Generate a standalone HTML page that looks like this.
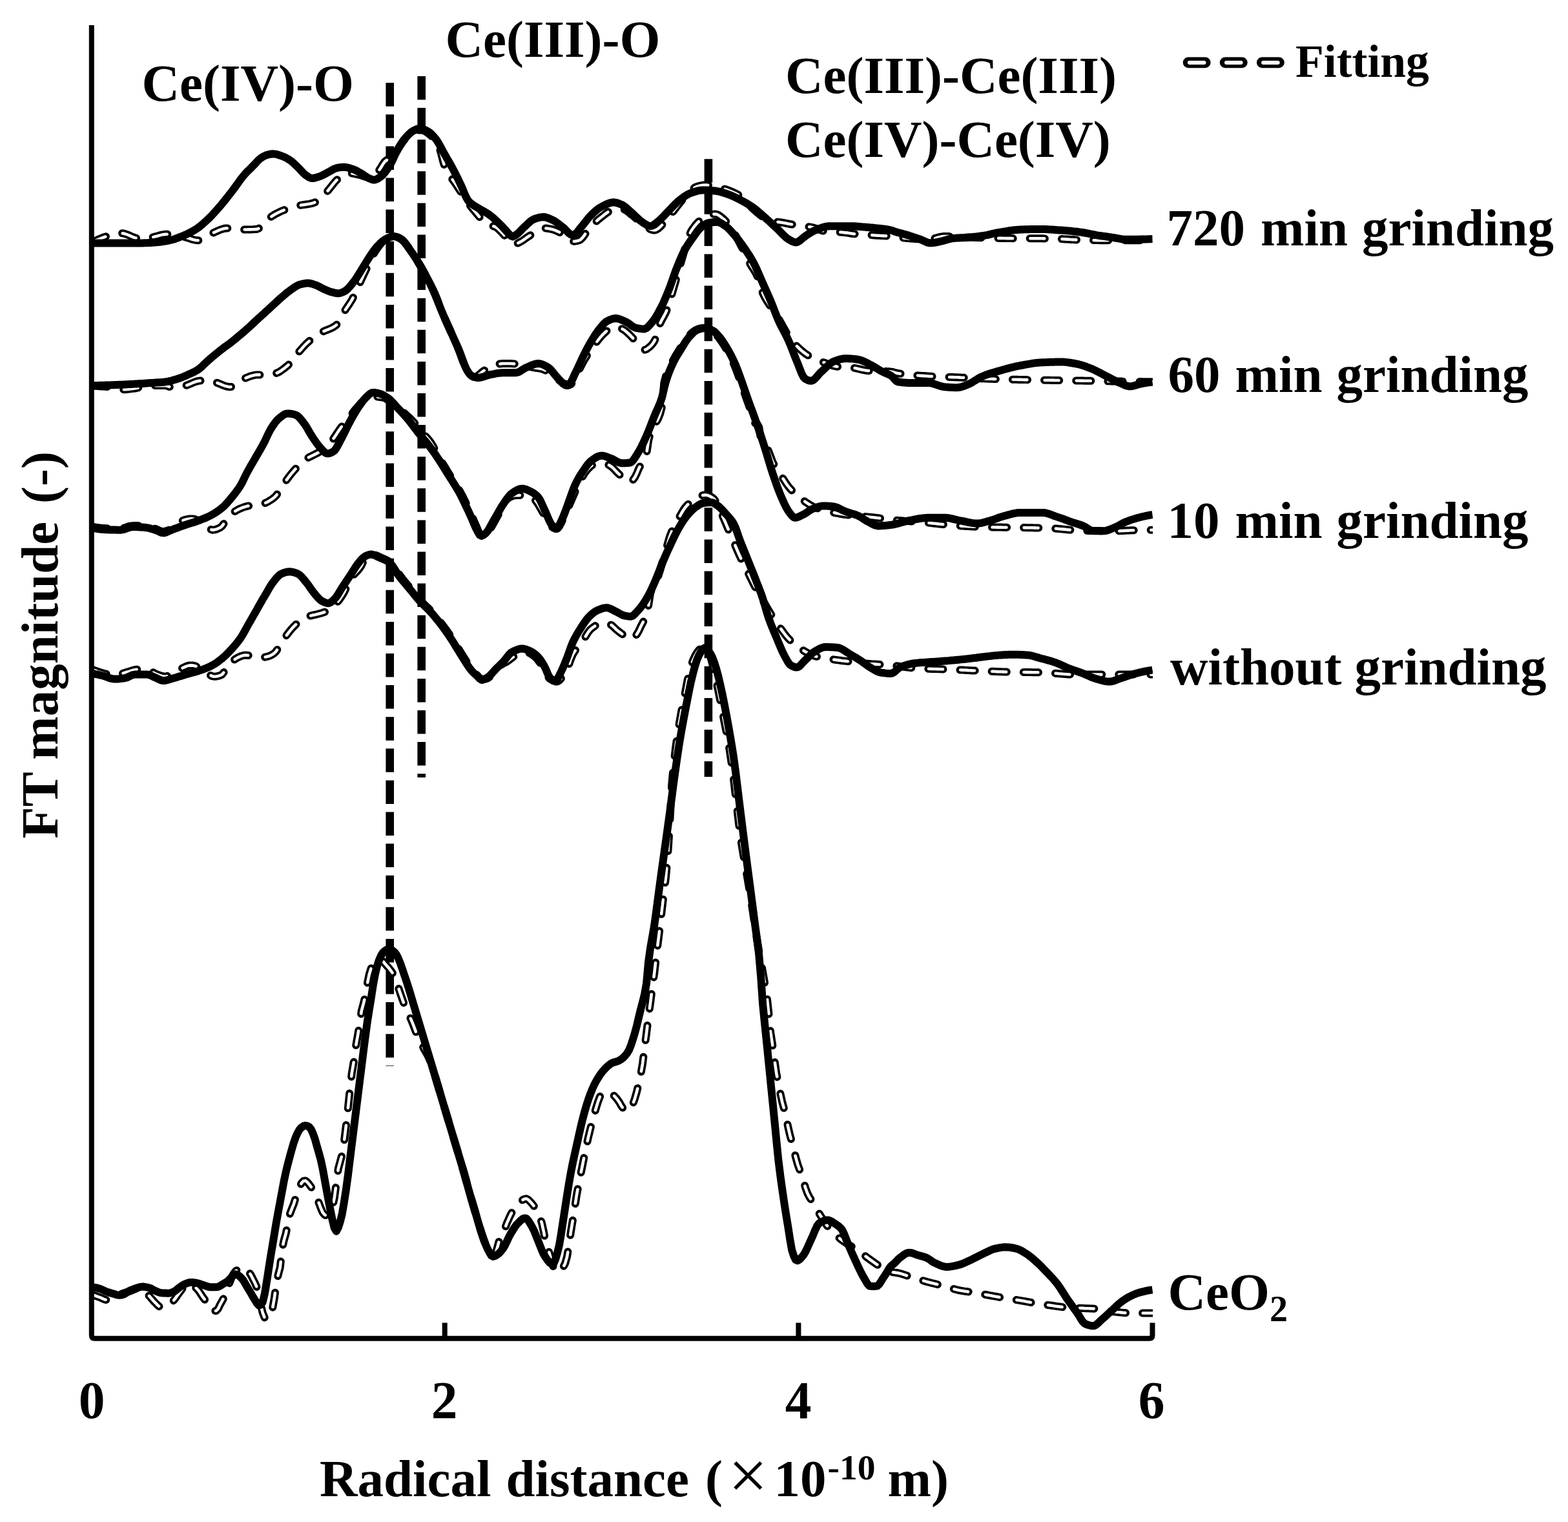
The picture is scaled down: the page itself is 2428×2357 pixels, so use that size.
<!DOCTYPE html>
<html lang="en">
<head>
<meta charset="utf-8">
<title>FT magnitude vs radical distance</title>
<style>
html, body { margin: 0; padding: 0; background: #ffffff; }
body { width: 2428px; height: 2357px; overflow: hidden; }
svg { display: block; }
text { font-family: "Liberation Serif", "DejaVu Serif", serif; font-weight: bold; fill: #000; }
.curve { fill: none; stroke: #000; stroke-width: 12; stroke-linejoin: round; stroke-linecap: butt; }
.fitb { fill: none; stroke: #000; stroke-width: 12; stroke-linecap: round; stroke-linejoin: round; stroke-dasharray: 23.2 26; }
.fitw { fill: none; stroke: #fff; stroke-width: 4.6; stroke-linecap: round; stroke-linejoin: round; stroke-dasharray: 21.9 27.3; stroke-dashoffset: -0.65; }
.vdash { fill: none; stroke: #000; stroke-width: 12.6; stroke-dasharray: 36.5 12.6; }
.axis { fill: none; stroke: #000; stroke-width: 8; stroke-linecap: butt; stroke-linejoin: round; }
</style>
</head>
<body>
<svg width="2428" height="2357" viewBox="0 0 2428 2357">
<rect x="0" y="0" width="2428" height="2357" fill="#ffffff"/>

<defs><clipPath id="plot"><rect x="142" y="0" width="1643" height="2357"/></clipPath></defs>
<g id="guides">
<path class="vdash" d="M603.7 128.2 V1651"/>
<path class="vdash" d="M652.7 118 V1204"/>
<path class="vdash" d="M1096.9 246.2 V1203"/>
</g>
<g id="fits" clip-path="url(#plot)">
<path class="fitb" d="M142.6 2004.8 L145.6 2005.9 L148.6 2007.0 L151.6 2008.1 L154.6 2009.2 L157.6 2010.4 L160.6 2011.8 L163.6 2012.9 L166.6 2013.1 L169.6 2012.5 L172.6 2011.1 L175.6 2009.5 L178.6 2007.7 L181.6 2006.2 L184.6 2005.1 L187.6 2004.0 L190.6 2003.0 L193.6 2002.0 L196.6 2001.0 L199.6 2000.1 L202.6 1999.0 L205.6 1997.7 L208.6 1996.5 L211.6 1995.4 L214.6 1994.7 L217.7 1994.3 L220.7 1995.1 L223.7 1997.8 L226.7 2001.6 L229.7 2005.5 L232.7 2008.8 L235.7 2012.3 L238.7 2015.7 L241.7 2018.7 L244.7 2021.8 L247.7 2024.1 L250.7 2024.7 L253.7 2024.2 L256.7 2023.2 L259.7 2021.9 L262.7 2020.1 L265.7 2017.4 L268.7 2014.3 L271.7 2010.4 L274.7 2006.0 L277.7 2002.0 L280.7 1998.0 L283.7 1993.9 L286.7 1990.4 L289.7 1988.1 L292.7 1987.6 L295.7 1988.5 L298.7 1990.4 L301.7 1992.9 L304.7 1995.6 L307.7 1999.0 L310.7 2003.6 L313.7 2008.1 L316.7 2012.2 L319.7 2016.6 L322.7 2022.4 L325.7 2028.5 L328.7 2030.0 L331.7 2030.0 L334.7 2030.0 L337.7 2026.9 L340.7 2020.5 L343.7 2015.2 L346.7 2009.7 L349.7 2002.5 L352.7 1993.9 L355.7 1985.9 L358.7 1978.1 L361.7 1972.5 L364.7 1968.7 L367.7 1965.9 L370.7 1964.4 L373.7 1963.4 L376.7 1962.8 L379.7 1963.3 L382.7 1966.2 L385.7 1970.2 L388.7 1974.8 L391.7 1980.7 L394.7 1986.6 L397.7 1993.5 L400.7 2006.1 L403.7 2020.9 L406.7 2032.8 L409.8 2040.8 L412.8 2042.2 L415.8 2042.6 L418.8 2037.8 L421.8 2027.5 L424.8 2010.5 L427.8 1988.4 L430.8 1973.9 L433.8 1962.4 L436.8 1934.2 L439.8 1920.3 L442.8 1910.0 L445.8 1893.2 L448.8 1880.2 L451.8 1872.2 L454.8 1864.8 L457.8 1855.0 L460.8 1844.2 L463.8 1837.6 L466.8 1832.3 L469.8 1828.9 L472.8 1828.4 L475.8 1830.6 L478.8 1834.2 L481.8 1838.3 L484.8 1843.2 L487.8 1849.4 L490.8 1856.1 L493.8 1863.0 L496.8 1871.0 L499.8 1877.8 L502.8 1881.3 L505.8 1882.8 L508.8 1881.4 L511.8 1876.6 L514.8 1869.3 L517.8 1855.0 L520.8 1832.3 L523.8 1809.8 L526.8 1798.9 L529.8 1787.7 L532.8 1768.4 L535.8 1743.9 L538.8 1716.7 L541.8 1687.6 L544.8 1661.7 L547.8 1644.4 L550.8 1621.0 L553.8 1604.6 L556.8 1586.3 L559.8 1565.4 L562.8 1554.4 L565.8 1541.8 L568.8 1523.0 L571.8 1508.8 L574.8 1499.1 L577.8 1493.0 L580.8 1489.0 L583.8 1487.6 L586.8 1487.0 L589.8 1486.7 L592.8 1488.2 L595.8 1492.1 L598.8 1495.5 L601.9 1498.9 L604.9 1502.7 L607.9 1507.0 L610.9 1512.1 L613.9 1519.5 L616.9 1529.3 L619.9 1538.6 L622.9 1547.1 L625.9 1555.3 L628.9 1562.8 L631.9 1569.3 L634.9 1575.4 L637.9 1582.0 L640.9 1589.7 L643.9 1597.8 L646.9 1605.2 L649.9 1611.6 L652.9 1617.5 L655.9 1623.2 L658.9 1628.5 L661.9 1633.8 L664.9 1640.2 L667.9 1648.4 L670.9 1657.6 L673.9 1667.0 L676.9 1677.1 L679.9 1687.3 L682.9 1697.3 L685.9 1707.4 L688.9 1717.4 L691.9 1727.4 L694.9 1737.4 L697.9 1747.4 L700.9 1757.4 L703.9 1767.4 L706.9 1777.4 L709.9 1787.3 L712.9 1797.2 L715.9 1807.4 L718.9 1817.9 L721.9 1828.5 L724.9 1839.0 L727.9 1849.6 L730.9 1860.1 L733.9 1870.5 L736.9 1880.8 L739.9 1890.8 L742.9 1900.8 L745.9 1910.4 L748.9 1919.1 L751.9 1927.4 L754.9 1934.5 L757.9 1939.2 L760.9 1943.1 L763.9 1945.4 L766.9 1943.1 L769.9 1932.7 L772.9 1921.4 L775.9 1914.6 L778.9 1908.9 L781.9 1902.0 L784.9 1894.2 L787.9 1887.3 L790.9 1880.8 L794.0 1875.0 L797.0 1870.3 L800.0 1866.3 L803.0 1862.9 L806.0 1860.5 L809.0 1858.4 L812.0 1856.8 L815.0 1856.3 L818.0 1857.8 L821.0 1860.9 L824.0 1864.1 L827.0 1868.0 L830.0 1872.8 L833.0 1878.4 L836.0 1885.3 L839.0 1894.1 L842.0 1907.9 L845.0 1923.8 L848.0 1933.0 L851.0 1941.5 L854.0 1953.0 L857.0 1962.9 L860.0 1968.7 L863.0 1970.3 L866.0 1968.7 L869.0 1965.9 L872.0 1962.5 L875.0 1956.9 L878.0 1946.4 L881.0 1928.2 L884.0 1907.0 L887.0 1889.1 L890.0 1869.7 L893.0 1850.0 L896.0 1834.4 L899.0 1819.2 L902.0 1804.3 L905.0 1789.2 L908.0 1774.7 L911.0 1761.0 L914.0 1748.6 L917.0 1737.0 L920.0 1725.9 L923.0 1715.8 L926.0 1706.1 L929.0 1698.2 L932.0 1694.3 L935.0 1691.6 L938.0 1690.8 L941.0 1691.3 L944.0 1692.4 L947.0 1693.9 L950.0 1696.0 L953.0 1699.1 L956.0 1702.7 L959.0 1707.0 L962.0 1712.3 L965.0 1716.7 L968.0 1719.0 L971.0 1720.5 L974.0 1719.9 L977.0 1715.6 L980.0 1709.8 L983.0 1701.2 L986.1 1690.5 L989.1 1677.7 L992.1 1664.1 L995.1 1646.8 L998.1 1622.3 L1001.1 1599.6 L1004.1 1574.1 L1007.1 1553.2 L1010.1 1529.1 L1013.1 1508.2 L1016.1 1481.9 L1019.1 1457.8 L1022.1 1434.1 L1025.1 1407.2 L1028.1 1382.0 L1031.1 1358.1 L1034.1 1323.9 L1037.1 1275.9 L1040.1 1216.8 L1043.1 1183.9 L1046.1 1158.6 L1049.1 1137.3 L1052.1 1118.6 L1055.1 1101.9 L1058.1 1086.6 L1061.1 1071.6 L1064.1 1055.9 L1067.1 1041.4 L1070.1 1030.5 L1073.1 1022.6 L1076.1 1016.1 L1079.1 1010.9 L1082.1 1006.8 L1085.1 1003.0 L1088.1 1000.5 L1091.1 1000.4 L1094.1 1003.9 L1097.1 1009.8 L1100.1 1016.9 L1103.1 1027.8 L1106.1 1041.2 L1109.1 1055.1 L1112.1 1069.0 L1115.1 1084.1 L1118.1 1099.6 L1121.1 1115.1 L1124.1 1130.3 L1127.1 1146.3 L1130.1 1164.1 L1133.1 1184.4 L1136.1 1206.9 L1139.1 1233.0 L1142.1 1259.5 L1145.1 1284.2 L1148.1 1306.0 L1151.1 1324.0 L1154.1 1340.7 L1157.1 1358.3 L1160.1 1376.1 L1163.1 1394.5 L1166.1 1414.4 L1169.1 1435.0 L1172.1 1454.8 L1175.1 1472.5 L1178.2 1489.2 L1181.2 1505.9 L1184.2 1522.7 L1187.2 1540.3 L1190.2 1568.0 L1193.2 1598.8 L1196.2 1618.4 L1199.2 1640.7 L1202.2 1662.0 L1205.2 1677.3 L1208.2 1692.8 L1211.2 1706.6 L1214.2 1717.4 L1217.2 1729.2 L1220.2 1744.8 L1223.2 1757.8 L1226.2 1768.6 L1229.2 1780.2 L1232.2 1792.7 L1235.2 1803.2 L1238.2 1811.5 L1241.2 1819.5 L1244.2 1829.1 L1247.2 1839.5 L1250.2 1847.7 L1253.2 1853.6 L1256.2 1858.4 L1259.2 1863.1 L1262.2 1868.1 L1265.2 1873.4 L1268.2 1878.7 L1271.2 1883.6 L1274.2 1888.3 L1277.2 1892.9 L1280.2 1897.3 L1283.2 1901.5 L1286.2 1905.2 L1289.2 1908.4 L1292.2 1911.2 L1295.2 1913.8 L1298.2 1916.3 L1301.2 1918.6 L1304.2 1920.8 L1307.2 1923.0 L1310.2 1925.1 L1313.2 1927.0 L1316.2 1928.9 L1319.2 1930.7 L1322.2 1932.5 L1325.2 1934.4 L1328.2 1936.4 L1331.2 1938.6 L1334.2 1940.8 L1337.2 1943.1 L1340.2 1945.4 L1343.2 1947.7 L1346.2 1949.9 L1349.2 1952.1 L1352.2 1954.2 L1355.2 1956.3 L1358.2 1958.4 L1361.2 1960.4 L1364.2 1962.2 L1367.2 1963.9 L1370.3 1965.6 L1373.3 1967.2 L1376.3 1968.6 L1379.3 1969.6 L1382.3 1970.2 L1385.3 1970.6 L1388.3 1971.0 L1391.3 1971.5 L1394.3 1972.3 L1397.3 1973.1 L1400.3 1974.1 L1403.3 1975.1 L1406.3 1976.1 L1409.3 1977.2 L1412.3 1978.2 L1415.3 1979.2 L1418.3 1980.0 L1421.3 1980.9 L1424.3 1981.8 L1427.3 1982.7 L1430.3 1983.5 L1433.3 1984.4 L1436.3 1985.2 L1439.3 1986.0 L1442.3 1986.8 L1445.3 1987.5 L1448.3 1988.2 L1451.3 1989.0 L1454.3 1989.7 L1457.3 1990.4 L1460.3 1991.2 L1463.3 1992.0 L1466.3 1992.8 L1469.3 1993.7 L1472.3 1994.7 L1475.3 1995.6 L1478.3 1996.5 L1481.3 1997.3 L1484.3 1998.0 L1487.3 1998.6 L1490.3 1999.1 L1493.3 1999.6 L1496.3 2000.0 L1499.3 2000.4 L1502.3 2000.8 L1505.3 2001.2 L1508.3 2001.6 L1511.3 2002.1 L1514.3 2002.7 L1517.3 2003.2 L1520.3 2003.8 L1523.3 2004.4 L1526.3 2004.9 L1529.3 2005.5 L1532.3 2006.1 L1535.3 2006.6 L1538.3 2007.2 L1541.3 2007.7 L1544.3 2008.2 L1547.3 2008.8 L1550.3 2009.3 L1553.3 2009.8 L1556.3 2010.3 L1559.3 2010.8 L1562.4 2011.3 L1565.4 2011.8 L1568.4 2012.2 L1571.4 2012.7 L1574.4 2013.1 L1577.4 2013.6 L1580.4 2014.1 L1583.4 2014.6 L1586.4 2015.1 L1589.4 2015.7 L1592.4 2016.2 L1595.4 2016.8 L1598.4 2017.3 L1601.4 2017.8 L1604.4 2018.3 L1607.4 2018.8 L1610.4 2019.3 L1613.4 2019.7 L1616.4 2020.2 L1619.4 2020.6 L1622.4 2021.0 L1625.4 2021.4 L1628.4 2021.8 L1631.4 2022.2 L1634.4 2022.7 L1637.4 2023.1 L1640.4 2023.5 L1643.4 2023.9 L1646.4 2024.3 L1649.4 2024.6 L1652.4 2024.9 L1655.4 2025.1 L1658.4 2025.2 L1661.4 2025.4 L1664.4 2025.5 L1667.4 2025.6 L1670.4 2025.7 L1673.4 2025.8 L1676.4 2025.9 L1679.4 2026.1 L1682.4 2026.2 L1685.4 2026.3 L1688.4 2026.4 L1691.4 2026.5 L1694.4 2026.7 L1697.4 2026.8 L1700.4 2027.0 L1703.4 2027.3 L1706.4 2027.6 L1709.4 2028.2 L1712.4 2028.9 L1715.4 2029.5 L1718.4 2030.2 L1721.4 2030.8 L1724.4 2031.3 L1727.4 2031.6 L1730.4 2032.0 L1733.4 2032.3 L1736.4 2032.6 L1739.4 2032.9 L1742.4 2033.1 L1745.4 2033.3 L1748.4 2033.4 L1751.4 2033.5 L1754.5 2033.5 L1757.5 2033.5 L1760.5 2033.5 L1763.5 2033.5 L1766.5 2033.5 L1769.5 2033.5 L1772.5 2033.5 L1775.5 2033.5 L1778.5 2033.5 L1781.5 2033.5 L1784.5 2033.5"/>
<path class="fitw" d="M142.6 2004.8 L145.6 2005.9 L148.6 2007.0 L151.6 2008.1 L154.6 2009.2 L157.6 2010.4 L160.6 2011.8 L163.6 2012.9 L166.6 2013.1 L169.6 2012.5 L172.6 2011.1 L175.6 2009.5 L178.6 2007.7 L181.6 2006.2 L184.6 2005.1 L187.6 2004.0 L190.6 2003.0 L193.6 2002.0 L196.6 2001.0 L199.6 2000.1 L202.6 1999.0 L205.6 1997.7 L208.6 1996.5 L211.6 1995.4 L214.6 1994.7 L217.7 1994.3 L220.7 1995.1 L223.7 1997.8 L226.7 2001.6 L229.7 2005.5 L232.7 2008.8 L235.7 2012.3 L238.7 2015.7 L241.7 2018.7 L244.7 2021.8 L247.7 2024.1 L250.7 2024.7 L253.7 2024.2 L256.7 2023.2 L259.7 2021.9 L262.7 2020.1 L265.7 2017.4 L268.7 2014.3 L271.7 2010.4 L274.7 2006.0 L277.7 2002.0 L280.7 1998.0 L283.7 1993.9 L286.7 1990.4 L289.7 1988.1 L292.7 1987.6 L295.7 1988.5 L298.7 1990.4 L301.7 1992.9 L304.7 1995.6 L307.7 1999.0 L310.7 2003.6 L313.7 2008.1 L316.7 2012.2 L319.7 2016.6 L322.7 2022.4 L325.7 2028.5 L328.7 2030.0 L331.7 2030.0 L334.7 2030.0 L337.7 2026.9 L340.7 2020.5 L343.7 2015.2 L346.7 2009.7 L349.7 2002.5 L352.7 1993.9 L355.7 1985.9 L358.7 1978.1 L361.7 1972.5 L364.7 1968.7 L367.7 1965.9 L370.7 1964.4 L373.7 1963.4 L376.7 1962.8 L379.7 1963.3 L382.7 1966.2 L385.7 1970.2 L388.7 1974.8 L391.7 1980.7 L394.7 1986.6 L397.7 1993.5 L400.7 2006.1 L403.7 2020.9 L406.7 2032.8 L409.8 2040.8 L412.8 2042.2 L415.8 2042.6 L418.8 2037.8 L421.8 2027.5 L424.8 2010.5 L427.8 1988.4 L430.8 1973.9 L433.8 1962.4 L436.8 1934.2 L439.8 1920.3 L442.8 1910.0 L445.8 1893.2 L448.8 1880.2 L451.8 1872.2 L454.8 1864.8 L457.8 1855.0 L460.8 1844.2 L463.8 1837.6 L466.8 1832.3 L469.8 1828.9 L472.8 1828.4 L475.8 1830.6 L478.8 1834.2 L481.8 1838.3 L484.8 1843.2 L487.8 1849.4 L490.8 1856.1 L493.8 1863.0 L496.8 1871.0 L499.8 1877.8 L502.8 1881.3 L505.8 1882.8 L508.8 1881.4 L511.8 1876.6 L514.8 1869.3 L517.8 1855.0 L520.8 1832.3 L523.8 1809.8 L526.8 1798.9 L529.8 1787.7 L532.8 1768.4 L535.8 1743.9 L538.8 1716.7 L541.8 1687.6 L544.8 1661.7 L547.8 1644.4 L550.8 1621.0 L553.8 1604.6 L556.8 1586.3 L559.8 1565.4 L562.8 1554.4 L565.8 1541.8 L568.8 1523.0 L571.8 1508.8 L574.8 1499.1 L577.8 1493.0 L580.8 1489.0 L583.8 1487.6 L586.8 1487.0 L589.8 1486.7 L592.8 1488.2 L595.8 1492.1 L598.8 1495.5 L601.9 1498.9 L604.9 1502.7 L607.9 1507.0 L610.9 1512.1 L613.9 1519.5 L616.9 1529.3 L619.9 1538.6 L622.9 1547.1 L625.9 1555.3 L628.9 1562.8 L631.9 1569.3 L634.9 1575.4 L637.9 1582.0 L640.9 1589.7 L643.9 1597.8 L646.9 1605.2 L649.9 1611.6 L652.9 1617.5 L655.9 1623.2 L658.9 1628.5 L661.9 1633.8 L664.9 1640.2 L667.9 1648.4 L670.9 1657.6 L673.9 1667.0 L676.9 1677.1 L679.9 1687.3 L682.9 1697.3 L685.9 1707.4 L688.9 1717.4 L691.9 1727.4 L694.9 1737.4 L697.9 1747.4 L700.9 1757.4 L703.9 1767.4 L706.9 1777.4 L709.9 1787.3 L712.9 1797.2 L715.9 1807.4 L718.9 1817.9 L721.9 1828.5 L724.9 1839.0 L727.9 1849.6 L730.9 1860.1 L733.9 1870.5 L736.9 1880.8 L739.9 1890.8 L742.9 1900.8 L745.9 1910.4 L748.9 1919.1 L751.9 1927.4 L754.9 1934.5 L757.9 1939.2 L760.9 1943.1 L763.9 1945.4 L766.9 1943.1 L769.9 1932.7 L772.9 1921.4 L775.9 1914.6 L778.9 1908.9 L781.9 1902.0 L784.9 1894.2 L787.9 1887.3 L790.9 1880.8 L794.0 1875.0 L797.0 1870.3 L800.0 1866.3 L803.0 1862.9 L806.0 1860.5 L809.0 1858.4 L812.0 1856.8 L815.0 1856.3 L818.0 1857.8 L821.0 1860.9 L824.0 1864.1 L827.0 1868.0 L830.0 1872.8 L833.0 1878.4 L836.0 1885.3 L839.0 1894.1 L842.0 1907.9 L845.0 1923.8 L848.0 1933.0 L851.0 1941.5 L854.0 1953.0 L857.0 1962.9 L860.0 1968.7 L863.0 1970.3 L866.0 1968.7 L869.0 1965.9 L872.0 1962.5 L875.0 1956.9 L878.0 1946.4 L881.0 1928.2 L884.0 1907.0 L887.0 1889.1 L890.0 1869.7 L893.0 1850.0 L896.0 1834.4 L899.0 1819.2 L902.0 1804.3 L905.0 1789.2 L908.0 1774.7 L911.0 1761.0 L914.0 1748.6 L917.0 1737.0 L920.0 1725.9 L923.0 1715.8 L926.0 1706.1 L929.0 1698.2 L932.0 1694.3 L935.0 1691.6 L938.0 1690.8 L941.0 1691.3 L944.0 1692.4 L947.0 1693.9 L950.0 1696.0 L953.0 1699.1 L956.0 1702.7 L959.0 1707.0 L962.0 1712.3 L965.0 1716.7 L968.0 1719.0 L971.0 1720.5 L974.0 1719.9 L977.0 1715.6 L980.0 1709.8 L983.0 1701.2 L986.1 1690.5 L989.1 1677.7 L992.1 1664.1 L995.1 1646.8 L998.1 1622.3 L1001.1 1599.6 L1004.1 1574.1 L1007.1 1553.2 L1010.1 1529.1 L1013.1 1508.2 L1016.1 1481.9 L1019.1 1457.8 L1022.1 1434.1 L1025.1 1407.2 L1028.1 1382.0 L1031.1 1358.1 L1034.1 1323.9 L1037.1 1275.9 L1040.1 1216.8 L1043.1 1183.9 L1046.1 1158.6 L1049.1 1137.3 L1052.1 1118.6 L1055.1 1101.9 L1058.1 1086.6 L1061.1 1071.6 L1064.1 1055.9 L1067.1 1041.4 L1070.1 1030.5 L1073.1 1022.6 L1076.1 1016.1 L1079.1 1010.9 L1082.1 1006.8 L1085.1 1003.0 L1088.1 1000.5 L1091.1 1000.4 L1094.1 1003.9 L1097.1 1009.8 L1100.1 1016.9 L1103.1 1027.8 L1106.1 1041.2 L1109.1 1055.1 L1112.1 1069.0 L1115.1 1084.1 L1118.1 1099.6 L1121.1 1115.1 L1124.1 1130.3 L1127.1 1146.3 L1130.1 1164.1 L1133.1 1184.4 L1136.1 1206.9 L1139.1 1233.0 L1142.1 1259.5 L1145.1 1284.2 L1148.1 1306.0 L1151.1 1324.0 L1154.1 1340.7 L1157.1 1358.3 L1160.1 1376.1 L1163.1 1394.5 L1166.1 1414.4 L1169.1 1435.0 L1172.1 1454.8 L1175.1 1472.5 L1178.2 1489.2 L1181.2 1505.9 L1184.2 1522.7 L1187.2 1540.3 L1190.2 1568.0 L1193.2 1598.8 L1196.2 1618.4 L1199.2 1640.7 L1202.2 1662.0 L1205.2 1677.3 L1208.2 1692.8 L1211.2 1706.6 L1214.2 1717.4 L1217.2 1729.2 L1220.2 1744.8 L1223.2 1757.8 L1226.2 1768.6 L1229.2 1780.2 L1232.2 1792.7 L1235.2 1803.2 L1238.2 1811.5 L1241.2 1819.5 L1244.2 1829.1 L1247.2 1839.5 L1250.2 1847.7 L1253.2 1853.6 L1256.2 1858.4 L1259.2 1863.1 L1262.2 1868.1 L1265.2 1873.4 L1268.2 1878.7 L1271.2 1883.6 L1274.2 1888.3 L1277.2 1892.9 L1280.2 1897.3 L1283.2 1901.5 L1286.2 1905.2 L1289.2 1908.4 L1292.2 1911.2 L1295.2 1913.8 L1298.2 1916.3 L1301.2 1918.6 L1304.2 1920.8 L1307.2 1923.0 L1310.2 1925.1 L1313.2 1927.0 L1316.2 1928.9 L1319.2 1930.7 L1322.2 1932.5 L1325.2 1934.4 L1328.2 1936.4 L1331.2 1938.6 L1334.2 1940.8 L1337.2 1943.1 L1340.2 1945.4 L1343.2 1947.7 L1346.2 1949.9 L1349.2 1952.1 L1352.2 1954.2 L1355.2 1956.3 L1358.2 1958.4 L1361.2 1960.4 L1364.2 1962.2 L1367.2 1963.9 L1370.3 1965.6 L1373.3 1967.2 L1376.3 1968.6 L1379.3 1969.6 L1382.3 1970.2 L1385.3 1970.6 L1388.3 1971.0 L1391.3 1971.5 L1394.3 1972.3 L1397.3 1973.1 L1400.3 1974.1 L1403.3 1975.1 L1406.3 1976.1 L1409.3 1977.2 L1412.3 1978.2 L1415.3 1979.2 L1418.3 1980.0 L1421.3 1980.9 L1424.3 1981.8 L1427.3 1982.7 L1430.3 1983.5 L1433.3 1984.4 L1436.3 1985.2 L1439.3 1986.0 L1442.3 1986.8 L1445.3 1987.5 L1448.3 1988.2 L1451.3 1989.0 L1454.3 1989.7 L1457.3 1990.4 L1460.3 1991.2 L1463.3 1992.0 L1466.3 1992.8 L1469.3 1993.7 L1472.3 1994.7 L1475.3 1995.6 L1478.3 1996.5 L1481.3 1997.3 L1484.3 1998.0 L1487.3 1998.6 L1490.3 1999.1 L1493.3 1999.6 L1496.3 2000.0 L1499.3 2000.4 L1502.3 2000.8 L1505.3 2001.2 L1508.3 2001.6 L1511.3 2002.1 L1514.3 2002.7 L1517.3 2003.2 L1520.3 2003.8 L1523.3 2004.4 L1526.3 2004.9 L1529.3 2005.5 L1532.3 2006.1 L1535.3 2006.6 L1538.3 2007.2 L1541.3 2007.7 L1544.3 2008.2 L1547.3 2008.8 L1550.3 2009.3 L1553.3 2009.8 L1556.3 2010.3 L1559.3 2010.8 L1562.4 2011.3 L1565.4 2011.8 L1568.4 2012.2 L1571.4 2012.7 L1574.4 2013.1 L1577.4 2013.6 L1580.4 2014.1 L1583.4 2014.6 L1586.4 2015.1 L1589.4 2015.7 L1592.4 2016.2 L1595.4 2016.8 L1598.4 2017.3 L1601.4 2017.8 L1604.4 2018.3 L1607.4 2018.8 L1610.4 2019.3 L1613.4 2019.7 L1616.4 2020.2 L1619.4 2020.6 L1622.4 2021.0 L1625.4 2021.4 L1628.4 2021.8 L1631.4 2022.2 L1634.4 2022.7 L1637.4 2023.1 L1640.4 2023.5 L1643.4 2023.9 L1646.4 2024.3 L1649.4 2024.6 L1652.4 2024.9 L1655.4 2025.1 L1658.4 2025.2 L1661.4 2025.4 L1664.4 2025.5 L1667.4 2025.6 L1670.4 2025.7 L1673.4 2025.8 L1676.4 2025.9 L1679.4 2026.1 L1682.4 2026.2 L1685.4 2026.3 L1688.4 2026.4 L1691.4 2026.5 L1694.4 2026.7 L1697.4 2026.8 L1700.4 2027.0 L1703.4 2027.3 L1706.4 2027.6 L1709.4 2028.2 L1712.4 2028.9 L1715.4 2029.5 L1718.4 2030.2 L1721.4 2030.8 L1724.4 2031.3 L1727.4 2031.6 L1730.4 2032.0 L1733.4 2032.3 L1736.4 2032.6 L1739.4 2032.9 L1742.4 2033.1 L1745.4 2033.3 L1748.4 2033.4 L1751.4 2033.5 L1754.5 2033.5 L1757.5 2033.5 L1760.5 2033.5 L1763.5 2033.5 L1766.5 2033.5 L1769.5 2033.5 L1772.5 2033.5 L1775.5 2033.5 L1778.5 2033.5 L1781.5 2033.5 L1784.5 2033.5"/>
<path class="fitb" d="M142.6 1036.7 L145.6 1037.9 L148.6 1039.0 L151.6 1040.1 L154.6 1041.0 L157.6 1041.9 L160.6 1042.8 L163.6 1043.5 L166.6 1044.3 L169.6 1045.1 L172.6 1045.7 L175.6 1046.1 L178.6 1046.1 L181.6 1045.6 L184.6 1044.8 L187.6 1043.8 L190.6 1042.7 L193.6 1041.7 L196.6 1040.8 L199.6 1039.9 L202.6 1038.9 L205.6 1038.0 L208.6 1037.2 L211.6 1036.7 L214.6 1036.4 L217.7 1036.2 L220.7 1036.1 L223.7 1036.2 L226.7 1036.9 L229.7 1037.9 L232.7 1038.9 L235.7 1040.5 L238.7 1042.2 L241.7 1043.8 L244.7 1045.0 L247.7 1046.0 L250.7 1046.9 L253.7 1047.5 L256.7 1047.7 L259.7 1046.6 L262.7 1044.7 L265.7 1042.9 L268.7 1041.4 L271.7 1039.9 L274.7 1038.4 L277.7 1037.0 L280.7 1035.5 L283.7 1034.0 L286.7 1032.6 L289.7 1031.4 L292.7 1030.6 L295.7 1030.4 L298.7 1030.6 L301.7 1031.3 L304.7 1032.3 L307.7 1033.4 L310.7 1034.9 L313.7 1037.3 L316.7 1040.0 L319.7 1042.4 L322.7 1044.1 L325.7 1045.8 L328.7 1047.2 L331.7 1047.7 L334.7 1047.5 L337.7 1046.9 L340.7 1046.0 L343.7 1044.7 L346.7 1041.0 L349.7 1035.7 L352.7 1030.5 L355.7 1027.0 L358.7 1024.7 L361.7 1022.5 L364.7 1020.4 L367.7 1018.6 L370.7 1017.1 L373.7 1015.9 L376.7 1015.0 L379.7 1014.6 L382.7 1014.7 L385.7 1015.1 L388.7 1015.6 L391.7 1016.2 L394.7 1017.1 L397.7 1018.1 L400.7 1018.7 L403.7 1018.6 L406.7 1018.2 L409.8 1017.7 L412.8 1017.0 L415.8 1016.3 L418.8 1015.1 L421.8 1013.5 L424.8 1011.5 L427.8 1008.3 L430.8 1003.6 L433.8 998.4 L436.8 993.5 L439.8 989.3 L442.8 985.1 L445.8 981.1 L448.8 977.2 L451.8 973.6 L454.8 970.4 L457.8 967.4 L460.8 964.5 L463.8 961.8 L466.8 959.4 L469.8 957.4 L472.8 956.0 L475.8 954.9 L478.8 954.0 L481.8 953.3 L484.8 952.6 L487.8 952.0 L490.8 951.3 L493.8 950.5 L496.8 949.7 L499.8 948.8 L502.8 947.8 L505.8 946.5 L508.8 944.9 L511.8 942.8 L514.8 940.4 L517.8 937.6 L520.8 934.4 L523.8 930.8 L526.8 926.8 L529.8 922.5 L532.8 917.4 L535.8 911.0 L538.8 904.3 L541.8 898.4 L544.8 893.8 L547.8 890.2 L550.8 887.0 L553.8 883.8 L556.8 880.2 L559.8 875.7 L562.8 868.9 L565.8 862.9 L568.8 860.6 L571.8 859.3 L574.8 858.6 L577.8 858.9 L580.8 859.7 L583.8 860.6 L586.8 861.9 L589.8 863.4 L592.8 864.8 L595.8 866.1 L598.8 867.4 L601.9 869.2 L604.9 871.3 L607.9 874.0 L610.9 878.0 L613.9 882.9 L616.9 887.4 L619.9 891.8 L622.9 895.9 L625.9 899.7 L628.9 903.2 L631.9 906.7 L634.9 910.3 L637.9 913.9 L640.9 917.5 L643.9 921.2 L646.9 924.9 L649.9 928.4 L652.9 931.7 L655.9 934.8 L658.9 937.8 L661.9 940.6 L664.9 943.6 L667.9 946.8 L670.9 950.1 L673.9 953.5 L676.9 957.1 L679.9 960.8 L682.9 964.6 L685.9 968.5 L688.9 972.6 L691.9 976.7 L694.9 981.0 L697.9 985.4 L700.9 990.0 L703.9 994.6 L706.9 999.4 L709.9 1004.4 L712.9 1009.3 L715.9 1014.1 L718.9 1018.9 L721.9 1023.7 L724.9 1028.4 L727.9 1033.0 L730.9 1036.8 L733.9 1040.2 L736.9 1043.3 L739.9 1046.9 L742.9 1050.4 L745.9 1051.7 L748.9 1051.6 L751.9 1051.3 L754.9 1050.7 L757.9 1048.6 L760.9 1045.8 L763.9 1042.8 L766.9 1039.4 L769.9 1036.1 L772.9 1032.8 L775.9 1029.8 L778.9 1027.6 L781.9 1026.2 L784.9 1024.6 L787.9 1022.5 L790.9 1020.2 L794.0 1017.9 L797.0 1015.7 L800.0 1013.9 L803.0 1012.7 L806.0 1011.7 L809.0 1010.7 L812.0 1010.1 L815.0 1009.9 L818.0 1010.5 L821.0 1011.9 L824.0 1013.8 L827.0 1016.0 L830.0 1018.6 L833.0 1022.1 L836.0 1026.2 L839.0 1030.6 L842.0 1035.5 L845.0 1041.5 L848.0 1047.3 L851.0 1050.9 L854.0 1052.8 L857.0 1054.4 L860.0 1055.4 L863.0 1055.5 L866.0 1053.8 L869.0 1050.6 L872.0 1046.3 L875.0 1041.3 L878.0 1036.2 L881.0 1029.2 L884.0 1020.6 L887.0 1013.4 L890.0 1008.5 L893.0 1004.5 L896.0 1000.8 L899.0 997.2 L902.0 993.2 L905.0 988.5 L908.0 983.5 L911.0 978.8 L914.0 975.0 L917.0 972.5 L920.0 970.3 L923.0 968.3 L926.0 966.6 L929.0 965.2 L932.0 964.4 L935.0 964.2 L938.0 964.6 L941.0 965.5 L944.0 966.7 L947.0 968.1 L950.0 970.7 L953.0 973.7 L956.0 976.4 L959.0 978.6 L962.0 980.9 L965.0 983.2 L968.0 985.3 L971.0 987.1 L974.0 988.5 L977.0 989.3 L980.0 989.0 L983.0 986.2 L986.1 982.1 L989.1 977.1 L992.1 970.5 L995.1 964.7 L998.1 959.3 L1001.1 952.2 L1004.1 937.8 L1007.1 918.3 L1010.1 910.9 L1013.1 906.0 L1016.1 900.5 L1019.1 892.5 L1022.1 883.1 L1025.1 873.0 L1028.1 862.9 L1031.1 852.1 L1034.1 841.0 L1037.1 831.0 L1040.1 823.3 L1043.1 817.1 L1046.1 811.6 L1049.1 806.1 L1052.1 800.5 L1055.1 795.0 L1058.1 790.0 L1061.1 785.7 L1064.1 782.4 L1067.1 779.3 L1070.1 776.5 L1073.1 774.1 L1076.1 772.0 L1079.1 770.4 L1082.1 769.2 L1085.1 767.9 L1088.1 767.0 L1091.1 766.5 L1094.1 766.6 L1097.1 767.5 L1100.1 768.9 L1103.1 770.7 L1106.1 773.1 L1109.1 777.9 L1112.1 784.3 L1115.1 790.9 L1118.1 797.3 L1121.1 804.2 L1124.1 811.2 L1127.1 818.3 L1130.1 825.2 L1133.1 832.3 L1136.1 839.3 L1139.1 846.3 L1142.1 853.3 L1145.1 860.1 L1148.1 866.6 L1151.1 872.7 L1154.1 878.6 L1157.1 884.5 L1160.1 890.5 L1163.1 896.7 L1166.1 902.8 L1169.1 908.7 L1172.1 914.3 L1175.1 919.5 L1178.2 924.6 L1181.2 929.6 L1184.2 934.8 L1187.2 940.0 L1190.2 945.2 L1193.2 950.2 L1196.2 954.9 L1199.2 959.5 L1202.2 963.9 L1205.2 968.2 L1208.2 972.4 L1211.2 976.6 L1214.2 980.7 L1217.2 984.6 L1220.2 988.1 L1223.2 991.2 L1226.2 994.0 L1229.2 996.8 L1232.2 999.3 L1235.2 1001.6 L1238.2 1003.7 L1241.2 1005.7 L1244.2 1007.5 L1247.2 1009.3 L1250.2 1011.0 L1253.2 1012.6 L1256.2 1014.0 L1259.2 1015.2 L1262.2 1016.1 L1265.2 1016.9 L1268.2 1017.6 L1271.2 1018.2 L1274.2 1018.8 L1277.2 1019.3 L1280.2 1019.8 L1283.2 1020.2 L1286.2 1020.7 L1289.2 1021.2 L1292.2 1021.6 L1295.2 1022.0 L1298.2 1022.4 L1301.2 1022.8 L1304.2 1023.2 L1307.2 1023.5 L1310.2 1023.9 L1313.2 1024.3 L1316.2 1024.8 L1319.2 1025.2 L1322.2 1025.6 L1325.2 1026.1 L1328.2 1026.5 L1331.2 1026.8 L1334.2 1027.2 L1337.2 1027.4 L1340.2 1027.6 L1343.2 1027.8 L1346.2 1028.0 L1349.2 1028.2 L1352.2 1028.4 L1355.2 1028.6 L1358.2 1028.8 L1361.2 1029.0 L1364.2 1029.2 L1367.2 1029.4 L1370.3 1029.6 L1373.3 1029.8 L1376.3 1030.1 L1379.3 1030.3 L1382.3 1030.6 L1385.3 1030.9 L1388.3 1031.2 L1391.3 1031.6 L1394.3 1032.0 L1397.3 1032.4 L1400.3 1032.8 L1403.3 1033.2 L1406.3 1033.6 L1409.3 1034.0 L1412.3 1034.3 L1415.3 1034.6 L1418.3 1034.9 L1421.3 1035.1 L1424.3 1035.2 L1427.3 1035.4 L1430.3 1035.5 L1433.3 1035.6 L1436.3 1035.7 L1439.3 1035.8 L1442.3 1035.9 L1445.3 1036.0 L1448.3 1036.0 L1451.3 1036.1 L1454.3 1036.2 L1457.3 1036.3 L1460.3 1036.4 L1463.3 1036.5 L1466.3 1036.6 L1469.3 1036.7 L1472.3 1036.8 L1475.3 1036.9 L1478.3 1037.1 L1481.3 1037.2 L1484.3 1037.3 L1487.3 1037.5 L1490.3 1037.6 L1493.3 1037.8 L1496.3 1037.9 L1499.3 1038.1 L1502.3 1038.2 L1505.3 1038.4 L1508.3 1038.5 L1511.3 1038.7 L1514.3 1038.8 L1517.3 1038.9 L1520.3 1039.0 L1523.3 1039.2 L1526.3 1039.3 L1529.3 1039.4 L1532.3 1039.6 L1535.3 1039.7 L1538.3 1039.8 L1541.3 1040.0 L1544.3 1040.1 L1547.3 1040.2 L1550.3 1040.3 L1553.3 1040.4 L1556.3 1040.5 L1559.3 1040.6 L1562.4 1040.7 L1565.4 1040.7 L1568.4 1040.8 L1571.4 1040.9 L1574.4 1040.9 L1577.4 1040.9 L1580.4 1041.0 L1583.4 1041.0 L1586.4 1041.0 L1589.4 1041.1 L1592.4 1041.1 L1595.4 1041.1 L1598.4 1041.2 L1601.4 1041.2 L1604.4 1041.2 L1607.4 1041.3 L1610.4 1041.3 L1613.4 1041.4 L1616.4 1041.5 L1619.4 1041.6 L1622.4 1041.8 L1625.4 1042.0 L1628.4 1042.2 L1631.4 1042.5 L1634.4 1042.7 L1637.4 1043.0 L1640.4 1043.3 L1643.4 1043.5 L1646.4 1043.8 L1649.4 1044.0 L1652.4 1044.2 L1655.4 1044.4 L1658.4 1044.5 L1661.4 1044.6 L1664.4 1044.6 L1667.4 1044.6 L1670.4 1044.6 L1673.4 1044.6 L1676.4 1044.6 L1679.4 1044.6 L1682.4 1044.6 L1685.4 1044.6 L1688.4 1044.6 L1691.4 1044.6 L1694.4 1044.6 L1697.4 1044.6 L1700.4 1044.6 L1703.4 1044.6 L1706.4 1044.6 L1709.4 1044.6 L1712.4 1044.6 L1715.4 1044.6 L1718.4 1044.6 L1721.4 1044.6 L1724.4 1044.6 L1727.4 1044.6 L1730.4 1044.6 L1733.4 1044.6 L1736.4 1044.6 L1739.4 1044.6 L1742.4 1044.6 L1745.4 1044.6 L1748.4 1044.6 L1751.4 1044.6 L1754.5 1044.6 L1757.5 1044.6 L1760.5 1044.6 L1763.5 1044.6 L1766.5 1044.6 L1769.5 1044.6 L1772.5 1044.6 L1775.5 1044.6 L1778.5 1044.6 L1781.5 1044.6 L1784.5 1044.6"/>
<path class="fitw" d="M142.6 1036.7 L145.6 1037.9 L148.6 1039.0 L151.6 1040.1 L154.6 1041.0 L157.6 1041.9 L160.6 1042.8 L163.6 1043.5 L166.6 1044.3 L169.6 1045.1 L172.6 1045.7 L175.6 1046.1 L178.6 1046.1 L181.6 1045.6 L184.6 1044.8 L187.6 1043.8 L190.6 1042.7 L193.6 1041.7 L196.6 1040.8 L199.6 1039.9 L202.6 1038.9 L205.6 1038.0 L208.6 1037.2 L211.6 1036.7 L214.6 1036.4 L217.7 1036.2 L220.7 1036.1 L223.7 1036.2 L226.7 1036.9 L229.7 1037.9 L232.7 1038.9 L235.7 1040.5 L238.7 1042.2 L241.7 1043.8 L244.7 1045.0 L247.7 1046.0 L250.7 1046.9 L253.7 1047.5 L256.7 1047.7 L259.7 1046.6 L262.7 1044.7 L265.7 1042.9 L268.7 1041.4 L271.7 1039.9 L274.7 1038.4 L277.7 1037.0 L280.7 1035.5 L283.7 1034.0 L286.7 1032.6 L289.7 1031.4 L292.7 1030.6 L295.7 1030.4 L298.7 1030.6 L301.7 1031.3 L304.7 1032.3 L307.7 1033.4 L310.7 1034.9 L313.7 1037.3 L316.7 1040.0 L319.7 1042.4 L322.7 1044.1 L325.7 1045.8 L328.7 1047.2 L331.7 1047.7 L334.7 1047.5 L337.7 1046.9 L340.7 1046.0 L343.7 1044.7 L346.7 1041.0 L349.7 1035.7 L352.7 1030.5 L355.7 1027.0 L358.7 1024.7 L361.7 1022.5 L364.7 1020.4 L367.7 1018.6 L370.7 1017.1 L373.7 1015.9 L376.7 1015.0 L379.7 1014.6 L382.7 1014.7 L385.7 1015.1 L388.7 1015.6 L391.7 1016.2 L394.7 1017.1 L397.7 1018.1 L400.7 1018.7 L403.7 1018.6 L406.7 1018.2 L409.8 1017.7 L412.8 1017.0 L415.8 1016.3 L418.8 1015.1 L421.8 1013.5 L424.8 1011.5 L427.8 1008.3 L430.8 1003.6 L433.8 998.4 L436.8 993.5 L439.8 989.3 L442.8 985.1 L445.8 981.1 L448.8 977.2 L451.8 973.6 L454.8 970.4 L457.8 967.4 L460.8 964.5 L463.8 961.8 L466.8 959.4 L469.8 957.4 L472.8 956.0 L475.8 954.9 L478.8 954.0 L481.8 953.3 L484.8 952.6 L487.8 952.0 L490.8 951.3 L493.8 950.5 L496.8 949.7 L499.8 948.8 L502.8 947.8 L505.8 946.5 L508.8 944.9 L511.8 942.8 L514.8 940.4 L517.8 937.6 L520.8 934.4 L523.8 930.8 L526.8 926.8 L529.8 922.5 L532.8 917.4 L535.8 911.0 L538.8 904.3 L541.8 898.4 L544.8 893.8 L547.8 890.2 L550.8 887.0 L553.8 883.8 L556.8 880.2 L559.8 875.7 L562.8 868.9 L565.8 862.9 L568.8 860.6 L571.8 859.3 L574.8 858.6 L577.8 858.9 L580.8 859.7 L583.8 860.6 L586.8 861.9 L589.8 863.4 L592.8 864.8 L595.8 866.1 L598.8 867.4 L601.9 869.2 L604.9 871.3 L607.9 874.0 L610.9 878.0 L613.9 882.9 L616.9 887.4 L619.9 891.8 L622.9 895.9 L625.9 899.7 L628.9 903.2 L631.9 906.7 L634.9 910.3 L637.9 913.9 L640.9 917.5 L643.9 921.2 L646.9 924.9 L649.9 928.4 L652.9 931.7 L655.9 934.8 L658.9 937.8 L661.9 940.6 L664.9 943.6 L667.9 946.8 L670.9 950.1 L673.9 953.5 L676.9 957.1 L679.9 960.8 L682.9 964.6 L685.9 968.5 L688.9 972.6 L691.9 976.7 L694.9 981.0 L697.9 985.4 L700.9 990.0 L703.9 994.6 L706.9 999.4 L709.9 1004.4 L712.9 1009.3 L715.9 1014.1 L718.9 1018.9 L721.9 1023.7 L724.9 1028.4 L727.9 1033.0 L730.9 1036.8 L733.9 1040.2 L736.9 1043.3 L739.9 1046.9 L742.9 1050.4 L745.9 1051.7 L748.9 1051.6 L751.9 1051.3 L754.9 1050.7 L757.9 1048.6 L760.9 1045.8 L763.9 1042.8 L766.9 1039.4 L769.9 1036.1 L772.9 1032.8 L775.9 1029.8 L778.9 1027.6 L781.9 1026.2 L784.9 1024.6 L787.9 1022.5 L790.9 1020.2 L794.0 1017.9 L797.0 1015.7 L800.0 1013.9 L803.0 1012.7 L806.0 1011.7 L809.0 1010.7 L812.0 1010.1 L815.0 1009.9 L818.0 1010.5 L821.0 1011.9 L824.0 1013.8 L827.0 1016.0 L830.0 1018.6 L833.0 1022.1 L836.0 1026.2 L839.0 1030.6 L842.0 1035.5 L845.0 1041.5 L848.0 1047.3 L851.0 1050.9 L854.0 1052.8 L857.0 1054.4 L860.0 1055.4 L863.0 1055.5 L866.0 1053.8 L869.0 1050.6 L872.0 1046.3 L875.0 1041.3 L878.0 1036.2 L881.0 1029.2 L884.0 1020.6 L887.0 1013.4 L890.0 1008.5 L893.0 1004.5 L896.0 1000.8 L899.0 997.2 L902.0 993.2 L905.0 988.5 L908.0 983.5 L911.0 978.8 L914.0 975.0 L917.0 972.5 L920.0 970.3 L923.0 968.3 L926.0 966.6 L929.0 965.2 L932.0 964.4 L935.0 964.2 L938.0 964.6 L941.0 965.5 L944.0 966.7 L947.0 968.1 L950.0 970.7 L953.0 973.7 L956.0 976.4 L959.0 978.6 L962.0 980.9 L965.0 983.2 L968.0 985.3 L971.0 987.1 L974.0 988.5 L977.0 989.3 L980.0 989.0 L983.0 986.2 L986.1 982.1 L989.1 977.1 L992.1 970.5 L995.1 964.7 L998.1 959.3 L1001.1 952.2 L1004.1 937.8 L1007.1 918.3 L1010.1 910.9 L1013.1 906.0 L1016.1 900.5 L1019.1 892.5 L1022.1 883.1 L1025.1 873.0 L1028.1 862.9 L1031.1 852.1 L1034.1 841.0 L1037.1 831.0 L1040.1 823.3 L1043.1 817.1 L1046.1 811.6 L1049.1 806.1 L1052.1 800.5 L1055.1 795.0 L1058.1 790.0 L1061.1 785.7 L1064.1 782.4 L1067.1 779.3 L1070.1 776.5 L1073.1 774.1 L1076.1 772.0 L1079.1 770.4 L1082.1 769.2 L1085.1 767.9 L1088.1 767.0 L1091.1 766.5 L1094.1 766.6 L1097.1 767.5 L1100.1 768.9 L1103.1 770.7 L1106.1 773.1 L1109.1 777.9 L1112.1 784.3 L1115.1 790.9 L1118.1 797.3 L1121.1 804.2 L1124.1 811.2 L1127.1 818.3 L1130.1 825.2 L1133.1 832.3 L1136.1 839.3 L1139.1 846.3 L1142.1 853.3 L1145.1 860.1 L1148.1 866.6 L1151.1 872.7 L1154.1 878.6 L1157.1 884.5 L1160.1 890.5 L1163.1 896.7 L1166.1 902.8 L1169.1 908.7 L1172.1 914.3 L1175.1 919.5 L1178.2 924.6 L1181.2 929.6 L1184.2 934.8 L1187.2 940.0 L1190.2 945.2 L1193.2 950.2 L1196.2 954.9 L1199.2 959.5 L1202.2 963.9 L1205.2 968.2 L1208.2 972.4 L1211.2 976.6 L1214.2 980.7 L1217.2 984.6 L1220.2 988.1 L1223.2 991.2 L1226.2 994.0 L1229.2 996.8 L1232.2 999.3 L1235.2 1001.6 L1238.2 1003.7 L1241.2 1005.7 L1244.2 1007.5 L1247.2 1009.3 L1250.2 1011.0 L1253.2 1012.6 L1256.2 1014.0 L1259.2 1015.2 L1262.2 1016.1 L1265.2 1016.9 L1268.2 1017.6 L1271.2 1018.2 L1274.2 1018.8 L1277.2 1019.3 L1280.2 1019.8 L1283.2 1020.2 L1286.2 1020.7 L1289.2 1021.2 L1292.2 1021.6 L1295.2 1022.0 L1298.2 1022.4 L1301.2 1022.8 L1304.2 1023.2 L1307.2 1023.5 L1310.2 1023.9 L1313.2 1024.3 L1316.2 1024.8 L1319.2 1025.2 L1322.2 1025.6 L1325.2 1026.1 L1328.2 1026.5 L1331.2 1026.8 L1334.2 1027.2 L1337.2 1027.4 L1340.2 1027.6 L1343.2 1027.8 L1346.2 1028.0 L1349.2 1028.2 L1352.2 1028.4 L1355.2 1028.6 L1358.2 1028.8 L1361.2 1029.0 L1364.2 1029.2 L1367.2 1029.4 L1370.3 1029.6 L1373.3 1029.8 L1376.3 1030.1 L1379.3 1030.3 L1382.3 1030.6 L1385.3 1030.9 L1388.3 1031.2 L1391.3 1031.6 L1394.3 1032.0 L1397.3 1032.4 L1400.3 1032.8 L1403.3 1033.2 L1406.3 1033.6 L1409.3 1034.0 L1412.3 1034.3 L1415.3 1034.6 L1418.3 1034.9 L1421.3 1035.1 L1424.3 1035.2 L1427.3 1035.4 L1430.3 1035.5 L1433.3 1035.6 L1436.3 1035.7 L1439.3 1035.8 L1442.3 1035.9 L1445.3 1036.0 L1448.3 1036.0 L1451.3 1036.1 L1454.3 1036.2 L1457.3 1036.3 L1460.3 1036.4 L1463.3 1036.5 L1466.3 1036.6 L1469.3 1036.7 L1472.3 1036.8 L1475.3 1036.9 L1478.3 1037.1 L1481.3 1037.2 L1484.3 1037.3 L1487.3 1037.5 L1490.3 1037.6 L1493.3 1037.8 L1496.3 1037.9 L1499.3 1038.1 L1502.3 1038.2 L1505.3 1038.4 L1508.3 1038.5 L1511.3 1038.7 L1514.3 1038.8 L1517.3 1038.9 L1520.3 1039.0 L1523.3 1039.2 L1526.3 1039.3 L1529.3 1039.4 L1532.3 1039.6 L1535.3 1039.7 L1538.3 1039.8 L1541.3 1040.0 L1544.3 1040.1 L1547.3 1040.2 L1550.3 1040.3 L1553.3 1040.4 L1556.3 1040.5 L1559.3 1040.6 L1562.4 1040.7 L1565.4 1040.7 L1568.4 1040.8 L1571.4 1040.9 L1574.4 1040.9 L1577.4 1040.9 L1580.4 1041.0 L1583.4 1041.0 L1586.4 1041.0 L1589.4 1041.1 L1592.4 1041.1 L1595.4 1041.1 L1598.4 1041.2 L1601.4 1041.2 L1604.4 1041.2 L1607.4 1041.3 L1610.4 1041.3 L1613.4 1041.4 L1616.4 1041.5 L1619.4 1041.6 L1622.4 1041.8 L1625.4 1042.0 L1628.4 1042.2 L1631.4 1042.5 L1634.4 1042.7 L1637.4 1043.0 L1640.4 1043.3 L1643.4 1043.5 L1646.4 1043.8 L1649.4 1044.0 L1652.4 1044.2 L1655.4 1044.4 L1658.4 1044.5 L1661.4 1044.6 L1664.4 1044.6 L1667.4 1044.6 L1670.4 1044.6 L1673.4 1044.6 L1676.4 1044.6 L1679.4 1044.6 L1682.4 1044.6 L1685.4 1044.6 L1688.4 1044.6 L1691.4 1044.6 L1694.4 1044.6 L1697.4 1044.6 L1700.4 1044.6 L1703.4 1044.6 L1706.4 1044.6 L1709.4 1044.6 L1712.4 1044.6 L1715.4 1044.6 L1718.4 1044.6 L1721.4 1044.6 L1724.4 1044.6 L1727.4 1044.6 L1730.4 1044.6 L1733.4 1044.6 L1736.4 1044.6 L1739.4 1044.6 L1742.4 1044.6 L1745.4 1044.6 L1748.4 1044.6 L1751.4 1044.6 L1754.5 1044.6 L1757.5 1044.6 L1760.5 1044.6 L1763.5 1044.6 L1766.5 1044.6 L1769.5 1044.6 L1772.5 1044.6 L1775.5 1044.6 L1778.5 1044.6 L1781.5 1044.6 L1784.5 1044.6"/>
<path class="fitb" d="M143.0 815.6 L146.0 816.2 L149.0 816.7 L152.0 817.1 L155.0 817.5 L158.0 817.8 L161.0 818.0 L164.0 818.2 L167.0 818.3 L170.0 818.4 L173.0 818.5 L176.0 818.6 L179.0 818.6 L182.0 818.7 L185.0 818.7 L188.0 818.4 L191.0 817.9 L194.0 817.2 L197.0 816.0 L200.0 814.9 L203.0 814.4 L206.0 814.2 L209.0 814.0 L212.0 814.1 L215.0 814.2 L218.0 814.4 L221.0 814.6 L224.0 814.9 L227.0 815.2 L230.0 815.8 L233.0 816.6 L236.0 817.4 L239.0 818.3 L242.0 819.4 L245.0 820.7 L248.0 822.3 L251.0 823.3 L254.0 823.0 L257.0 822.3 L260.0 821.4 L263.0 820.3 L266.0 819.0 L269.0 816.9 L272.0 812.9 L275.0 809.7 L278.0 808.2 L281.0 806.9 L284.0 805.8 L287.0 804.8 L290.0 804.1 L293.0 803.6 L296.0 803.4 L299.0 803.5 L302.0 804.2 L305.0 805.3 L308.0 806.5 L311.0 808.1 L314.0 810.4 L317.0 812.8 L320.1 815.0 L323.1 817.6 L326.1 819.9 L329.1 820.7 L332.1 820.4 L335.1 819.6 L338.1 818.4 L341.1 817.0 L344.1 814.4 L347.1 810.2 L350.1 805.8 L353.1 801.9 L356.1 798.0 L359.1 795.1 L362.1 793.0 L365.1 791.1 L368.1 789.4 L371.1 787.9 L374.1 786.7 L377.1 785.5 L380.1 784.6 L383.1 783.8 L386.1 783.2 L389.1 782.6 L392.1 782.2 L395.1 781.9 L398.1 781.7 L401.1 781.5 L404.1 781.1 L407.1 780.3 L410.1 779.3 L413.1 777.9 L416.1 776.2 L419.1 774.4 L422.1 772.3 L425.1 770.0 L428.1 766.8 L431.1 762.4 L434.1 757.4 L437.1 752.6 L440.1 748.3 L443.1 744.1 L446.1 740.1 L449.1 736.2 L452.1 732.4 L455.1 728.9 L458.1 725.5 L461.1 722.2 L464.1 719.0 L467.1 716.0 L470.1 713.4 L473.1 711.2 L476.1 709.4 L479.1 707.8 L482.1 706.3 L485.1 704.8 L488.1 703.4 L491.1 701.8 L494.1 700.0 L497.1 698.1 L500.1 696.1 L503.1 693.7 L506.1 691.0 L509.1 688.0 L512.1 684.7 L515.1 681.0 L518.1 676.7 L521.1 672.2 L524.1 667.6 L527.1 663.3 L530.1 659.4 L533.1 655.6 L536.1 651.9 L539.1 648.2 L542.1 644.5 L545.1 640.6 L548.1 636.7 L551.1 633.1 L554.1 629.7 L557.1 626.2 L560.1 622.9 L563.1 620.2 L566.1 618.4 L569.1 616.8 L572.1 615.4 L575.1 614.5 L578.1 614.2 L581.1 614.3 L584.1 614.5 L587.1 614.8 L590.1 615.2 L593.1 615.7 L596.1 616.6 L599.1 618.4 L602.1 620.7 L605.1 623.0 L608.1 625.1 L611.1 627.4 L614.1 629.8 L617.1 632.3 L620.1 634.8 L623.1 637.3 L626.1 639.9 L629.1 642.5 L632.1 645.2 L635.1 648.0 L638.1 651.0 L641.1 654.2 L644.1 657.6 L647.1 661.1 L650.1 664.7 L653.1 668.4 L656.1 672.0 L659.1 675.6 L662.1 679.0 L665.1 682.6 L668.1 686.8 L671.2 691.9 L674.2 698.5 L677.2 704.9 L680.2 710.0 L683.2 714.5 L686.2 719.0 L689.2 723.8 L692.2 728.8 L695.2 733.6 L698.2 738.3 L701.2 743.0 L704.2 747.7 L707.2 752.4 L710.2 757.4 L713.2 762.7 L716.2 768.4 L719.2 774.4 L722.2 780.5 L725.2 786.8 L728.2 793.3 L731.2 800.3 L734.2 807.4 L737.2 814.1 L740.2 821.6 L743.2 827.4 L746.2 828.3 L749.2 827.8 L752.2 827.1 L755.2 825.2 L758.2 820.7 L761.2 815.6 L764.2 810.5 L767.2 805.0 L770.2 799.6 L773.2 794.3 L776.2 789.1 L779.2 783.8 L782.2 777.7 L785.2 772.9 L788.2 770.7 L791.2 769.1 L794.2 767.9 L797.2 767.2 L800.2 767.1 L803.2 767.1 L806.2 767.1 L809.2 767.1 L812.2 767.1 L815.2 767.1 L818.2 767.8 L821.2 769.2 L824.2 771.1 L827.2 773.3 L830.2 776.4 L833.2 780.8 L836.2 786.0 L839.2 791.2 L842.2 796.5 L845.2 802.6 L848.2 808.6 L851.2 813.1 L854.2 815.7 L857.2 817.6 L860.2 818.9 L863.2 818.7 L866.2 815.0 L869.2 809.3 L872.2 803.5 L875.2 797.3 L878.2 790.4 L881.2 783.2 L884.2 776.2 L887.2 769.2 L890.2 762.1 L893.2 755.3 L896.2 749.0 L899.2 743.4 L902.2 738.0 L905.2 733.0 L908.2 728.9 L911.2 725.5 L914.2 722.5 L917.2 720.3 L920.2 719.6 L923.2 719.2 L926.2 718.8 L929.2 718.5 L932.2 718.4 L935.2 718.3 L938.2 718.3 L941.2 719.2 L944.2 721.0 L947.2 723.0 L950.2 725.7 L953.2 729.0 L956.2 732.1 L959.2 734.9 L962.2 737.9 L965.2 740.8 L968.2 743.5 L971.2 745.4 L974.2 746.5 L977.2 746.0 L980.2 743.1 L983.2 738.9 L986.2 732.8 L989.2 725.5 L992.2 720.0 L995.2 715.6 L998.2 710.3 L1001.2 701.9 L1004.2 681.6 L1007.2 670.7 L1010.2 665.1 L1013.2 660.1 L1016.2 653.8 L1019.2 648.1 L1022.2 640.7 L1025.3 628.9 L1028.3 593.1 L1031.3 581.5 L1034.3 574.9 L1037.3 568.4 L1040.3 561.9 L1043.3 556.1 L1046.3 550.7 L1049.3 545.8 L1052.3 541.0 L1055.3 536.1 L1058.3 531.2 L1061.3 526.7 L1064.3 522.8 L1067.3 519.3 L1070.3 516.4 L1073.3 513.8 L1076.3 511.7 L1079.3 510.3 L1082.3 509.0 L1085.3 508.3 L1088.3 508.3 L1091.3 508.4 L1094.3 508.6 L1097.3 509.4 L1100.3 511.0 L1103.3 512.9 L1106.3 515.4 L1109.3 518.6 L1112.3 522.1 L1115.3 526.0 L1118.3 530.4 L1121.3 535.0 L1124.3 540.0 L1127.3 545.3 L1130.3 550.9 L1133.3 557.0 L1136.3 563.6 L1139.3 570.9 L1142.3 578.9 L1145.3 587.1 L1148.3 595.7 L1151.3 604.4 L1154.3 613.0 L1157.3 621.4 L1160.3 629.7 L1163.3 638.8 L1166.3 649.1 L1169.3 655.4 L1172.3 656.2 L1175.3 661.7 L1178.3 681.0 L1181.3 685.6 L1184.3 688.4 L1187.3 692.4 L1190.3 699.2 L1193.3 707.4 L1196.3 715.1 L1199.3 721.0 L1202.3 726.0 L1205.3 730.4 L1208.3 734.8 L1211.3 739.4 L1214.3 744.1 L1217.3 748.6 L1220.3 752.8 L1223.3 756.4 L1226.3 759.7 L1229.3 762.7 L1232.3 765.6 L1235.3 768.2 L1238.3 770.7 L1241.3 773.0 L1244.3 775.2 L1247.3 777.3 L1250.3 779.4 L1253.3 781.3 L1256.3 783.1 L1259.3 784.7 L1262.3 786.0 L1265.3 787.1 L1268.3 788.1 L1271.3 789.0 L1274.3 789.9 L1277.3 790.6 L1280.3 791.4 L1283.3 792.1 L1286.3 792.7 L1289.3 793.4 L1292.3 794.0 L1295.3 794.7 L1298.3 795.2 L1301.3 795.8 L1304.3 796.3 L1307.3 796.7 L1310.3 797.1 L1313.3 797.5 L1316.3 797.8 L1319.3 798.1 L1322.3 798.4 L1325.3 798.7 L1328.3 798.9 L1331.3 799.2 L1334.3 799.5 L1337.3 799.8 L1340.3 800.1 L1343.3 800.4 L1346.3 800.7 L1349.3 801.0 L1352.3 801.3 L1355.3 801.6 L1358.3 802.0 L1361.3 802.3 L1364.3 802.8 L1367.3 803.2 L1370.3 803.7 L1373.3 804.1 L1376.4 804.5 L1379.4 804.9 L1382.4 805.2 L1385.4 805.5 L1388.4 805.7 L1391.4 806.0 L1394.4 806.2 L1397.4 806.4 L1400.4 806.7 L1403.4 806.9 L1406.4 807.1 L1409.4 807.3 L1412.4 807.5 L1415.4 807.7 L1418.4 807.9 L1421.4 808.2 L1424.4 808.4 L1427.4 808.7 L1430.4 808.9 L1433.4 809.2 L1436.4 809.5 L1439.4 809.8 L1442.4 810.1 L1445.4 810.5 L1448.4 810.8 L1451.4 811.1 L1454.4 811.5 L1457.4 811.8 L1460.4 812.1 L1463.4 812.4 L1466.4 812.7 L1469.4 813.0 L1472.4 813.3 L1475.4 813.5 L1478.4 813.8 L1481.4 814.0 L1484.4 814.2 L1487.4 814.4 L1490.4 814.6 L1493.4 814.8 L1496.4 815.0 L1499.4 815.1 L1502.4 815.3 L1505.4 815.5 L1508.4 815.6 L1511.4 815.8 L1514.4 815.9 L1517.4 816.0 L1520.4 816.1 L1523.4 816.2 L1526.4 816.3 L1529.4 816.4 L1532.4 816.4 L1535.4 816.5 L1538.4 816.5 L1541.4 816.5 L1544.4 816.6 L1547.4 816.6 L1550.4 816.6 L1553.4 816.7 L1556.4 816.7 L1559.4 816.7 L1562.4 816.7 L1565.4 816.8 L1568.4 816.8 L1571.4 816.8 L1574.4 816.9 L1577.4 816.9 L1580.4 817.0 L1583.4 817.0 L1586.4 817.1 L1589.4 817.2 L1592.4 817.2 L1595.4 817.3 L1598.4 817.3 L1601.4 817.4 L1604.4 817.5 L1607.4 817.6 L1610.4 817.6 L1613.4 817.7 L1616.4 817.8 L1619.4 817.9 L1622.4 818.0 L1625.4 818.1 L1628.4 818.2 L1631.4 818.4 L1634.4 818.6 L1637.4 818.8 L1640.4 819.1 L1643.4 819.3 L1646.4 819.6 L1649.4 819.9 L1652.4 820.2 L1655.4 820.5 L1658.4 820.7 L1661.4 821.0 L1664.4 821.2 L1667.4 821.4 L1670.4 821.5 L1673.4 821.6 L1676.4 821.7 L1679.4 821.8 L1682.4 821.8 L1685.4 821.9 L1688.4 821.9 L1691.4 822.0 L1694.4 822.0 L1697.4 822.1 L1700.4 822.1 L1703.4 822.2 L1706.4 822.2 L1709.4 822.2 L1712.4 822.3 L1715.4 822.3 L1718.4 822.3 L1721.4 822.3 L1724.4 822.3 L1727.5 822.2 L1730.5 822.2 L1733.5 822.1 L1736.5 822.0 L1739.5 821.9 L1742.5 821.7 L1745.5 821.6 L1748.5 821.5 L1751.5 821.3 L1754.5 821.2 L1757.5 821.1 L1760.5 821.0 L1763.5 820.9 L1766.5 820.8 L1769.5 820.8 L1772.5 820.7 L1775.5 820.7 L1778.5 820.7 L1781.5 820.7 L1784.5 820.7"/>
<path class="fitw" d="M143.0 815.6 L146.0 816.2 L149.0 816.7 L152.0 817.1 L155.0 817.5 L158.0 817.8 L161.0 818.0 L164.0 818.2 L167.0 818.3 L170.0 818.4 L173.0 818.5 L176.0 818.6 L179.0 818.6 L182.0 818.7 L185.0 818.7 L188.0 818.4 L191.0 817.9 L194.0 817.2 L197.0 816.0 L200.0 814.9 L203.0 814.4 L206.0 814.2 L209.0 814.0 L212.0 814.1 L215.0 814.2 L218.0 814.4 L221.0 814.6 L224.0 814.9 L227.0 815.2 L230.0 815.8 L233.0 816.6 L236.0 817.4 L239.0 818.3 L242.0 819.4 L245.0 820.7 L248.0 822.3 L251.0 823.3 L254.0 823.0 L257.0 822.3 L260.0 821.4 L263.0 820.3 L266.0 819.0 L269.0 816.9 L272.0 812.9 L275.0 809.7 L278.0 808.2 L281.0 806.9 L284.0 805.8 L287.0 804.8 L290.0 804.1 L293.0 803.6 L296.0 803.4 L299.0 803.5 L302.0 804.2 L305.0 805.3 L308.0 806.5 L311.0 808.1 L314.0 810.4 L317.0 812.8 L320.1 815.0 L323.1 817.6 L326.1 819.9 L329.1 820.7 L332.1 820.4 L335.1 819.6 L338.1 818.4 L341.1 817.0 L344.1 814.4 L347.1 810.2 L350.1 805.8 L353.1 801.9 L356.1 798.0 L359.1 795.1 L362.1 793.0 L365.1 791.1 L368.1 789.4 L371.1 787.9 L374.1 786.7 L377.1 785.5 L380.1 784.6 L383.1 783.8 L386.1 783.2 L389.1 782.6 L392.1 782.2 L395.1 781.9 L398.1 781.7 L401.1 781.5 L404.1 781.1 L407.1 780.3 L410.1 779.3 L413.1 777.9 L416.1 776.2 L419.1 774.4 L422.1 772.3 L425.1 770.0 L428.1 766.8 L431.1 762.4 L434.1 757.4 L437.1 752.6 L440.1 748.3 L443.1 744.1 L446.1 740.1 L449.1 736.2 L452.1 732.4 L455.1 728.9 L458.1 725.5 L461.1 722.2 L464.1 719.0 L467.1 716.0 L470.1 713.4 L473.1 711.2 L476.1 709.4 L479.1 707.8 L482.1 706.3 L485.1 704.8 L488.1 703.4 L491.1 701.8 L494.1 700.0 L497.1 698.1 L500.1 696.1 L503.1 693.7 L506.1 691.0 L509.1 688.0 L512.1 684.7 L515.1 681.0 L518.1 676.7 L521.1 672.2 L524.1 667.6 L527.1 663.3 L530.1 659.4 L533.1 655.6 L536.1 651.9 L539.1 648.2 L542.1 644.5 L545.1 640.6 L548.1 636.7 L551.1 633.1 L554.1 629.7 L557.1 626.2 L560.1 622.9 L563.1 620.2 L566.1 618.4 L569.1 616.8 L572.1 615.4 L575.1 614.5 L578.1 614.2 L581.1 614.3 L584.1 614.5 L587.1 614.8 L590.1 615.2 L593.1 615.7 L596.1 616.6 L599.1 618.4 L602.1 620.7 L605.1 623.0 L608.1 625.1 L611.1 627.4 L614.1 629.8 L617.1 632.3 L620.1 634.8 L623.1 637.3 L626.1 639.9 L629.1 642.5 L632.1 645.2 L635.1 648.0 L638.1 651.0 L641.1 654.2 L644.1 657.6 L647.1 661.1 L650.1 664.7 L653.1 668.4 L656.1 672.0 L659.1 675.6 L662.1 679.0 L665.1 682.6 L668.1 686.8 L671.2 691.9 L674.2 698.5 L677.2 704.9 L680.2 710.0 L683.2 714.5 L686.2 719.0 L689.2 723.8 L692.2 728.8 L695.2 733.6 L698.2 738.3 L701.2 743.0 L704.2 747.7 L707.2 752.4 L710.2 757.4 L713.2 762.7 L716.2 768.4 L719.2 774.4 L722.2 780.5 L725.2 786.8 L728.2 793.3 L731.2 800.3 L734.2 807.4 L737.2 814.1 L740.2 821.6 L743.2 827.4 L746.2 828.3 L749.2 827.8 L752.2 827.1 L755.2 825.2 L758.2 820.7 L761.2 815.6 L764.2 810.5 L767.2 805.0 L770.2 799.6 L773.2 794.3 L776.2 789.1 L779.2 783.8 L782.2 777.7 L785.2 772.9 L788.2 770.7 L791.2 769.1 L794.2 767.9 L797.2 767.2 L800.2 767.1 L803.2 767.1 L806.2 767.1 L809.2 767.1 L812.2 767.1 L815.2 767.1 L818.2 767.8 L821.2 769.2 L824.2 771.1 L827.2 773.3 L830.2 776.4 L833.2 780.8 L836.2 786.0 L839.2 791.2 L842.2 796.5 L845.2 802.6 L848.2 808.6 L851.2 813.1 L854.2 815.7 L857.2 817.6 L860.2 818.9 L863.2 818.7 L866.2 815.0 L869.2 809.3 L872.2 803.5 L875.2 797.3 L878.2 790.4 L881.2 783.2 L884.2 776.2 L887.2 769.2 L890.2 762.1 L893.2 755.3 L896.2 749.0 L899.2 743.4 L902.2 738.0 L905.2 733.0 L908.2 728.9 L911.2 725.5 L914.2 722.5 L917.2 720.3 L920.2 719.6 L923.2 719.2 L926.2 718.8 L929.2 718.5 L932.2 718.4 L935.2 718.3 L938.2 718.3 L941.2 719.2 L944.2 721.0 L947.2 723.0 L950.2 725.7 L953.2 729.0 L956.2 732.1 L959.2 734.9 L962.2 737.9 L965.2 740.8 L968.2 743.5 L971.2 745.4 L974.2 746.5 L977.2 746.0 L980.2 743.1 L983.2 738.9 L986.2 732.8 L989.2 725.5 L992.2 720.0 L995.2 715.6 L998.2 710.3 L1001.2 701.9 L1004.2 681.6 L1007.2 670.7 L1010.2 665.1 L1013.2 660.1 L1016.2 653.8 L1019.2 648.1 L1022.2 640.7 L1025.3 628.9 L1028.3 593.1 L1031.3 581.5 L1034.3 574.9 L1037.3 568.4 L1040.3 561.9 L1043.3 556.1 L1046.3 550.7 L1049.3 545.8 L1052.3 541.0 L1055.3 536.1 L1058.3 531.2 L1061.3 526.7 L1064.3 522.8 L1067.3 519.3 L1070.3 516.4 L1073.3 513.8 L1076.3 511.7 L1079.3 510.3 L1082.3 509.0 L1085.3 508.3 L1088.3 508.3 L1091.3 508.4 L1094.3 508.6 L1097.3 509.4 L1100.3 511.0 L1103.3 512.9 L1106.3 515.4 L1109.3 518.6 L1112.3 522.1 L1115.3 526.0 L1118.3 530.4 L1121.3 535.0 L1124.3 540.0 L1127.3 545.3 L1130.3 550.9 L1133.3 557.0 L1136.3 563.6 L1139.3 570.9 L1142.3 578.9 L1145.3 587.1 L1148.3 595.7 L1151.3 604.4 L1154.3 613.0 L1157.3 621.4 L1160.3 629.7 L1163.3 638.8 L1166.3 649.1 L1169.3 655.4 L1172.3 656.2 L1175.3 661.7 L1178.3 681.0 L1181.3 685.6 L1184.3 688.4 L1187.3 692.4 L1190.3 699.2 L1193.3 707.4 L1196.3 715.1 L1199.3 721.0 L1202.3 726.0 L1205.3 730.4 L1208.3 734.8 L1211.3 739.4 L1214.3 744.1 L1217.3 748.6 L1220.3 752.8 L1223.3 756.4 L1226.3 759.7 L1229.3 762.7 L1232.3 765.6 L1235.3 768.2 L1238.3 770.7 L1241.3 773.0 L1244.3 775.2 L1247.3 777.3 L1250.3 779.4 L1253.3 781.3 L1256.3 783.1 L1259.3 784.7 L1262.3 786.0 L1265.3 787.1 L1268.3 788.1 L1271.3 789.0 L1274.3 789.9 L1277.3 790.6 L1280.3 791.4 L1283.3 792.1 L1286.3 792.7 L1289.3 793.4 L1292.3 794.0 L1295.3 794.7 L1298.3 795.2 L1301.3 795.8 L1304.3 796.3 L1307.3 796.7 L1310.3 797.1 L1313.3 797.5 L1316.3 797.8 L1319.3 798.1 L1322.3 798.4 L1325.3 798.7 L1328.3 798.9 L1331.3 799.2 L1334.3 799.5 L1337.3 799.8 L1340.3 800.1 L1343.3 800.4 L1346.3 800.7 L1349.3 801.0 L1352.3 801.3 L1355.3 801.6 L1358.3 802.0 L1361.3 802.3 L1364.3 802.8 L1367.3 803.2 L1370.3 803.7 L1373.3 804.1 L1376.4 804.5 L1379.4 804.9 L1382.4 805.2 L1385.4 805.5 L1388.4 805.7 L1391.4 806.0 L1394.4 806.2 L1397.4 806.4 L1400.4 806.7 L1403.4 806.9 L1406.4 807.1 L1409.4 807.3 L1412.4 807.5 L1415.4 807.7 L1418.4 807.9 L1421.4 808.2 L1424.4 808.4 L1427.4 808.7 L1430.4 808.9 L1433.4 809.2 L1436.4 809.5 L1439.4 809.8 L1442.4 810.1 L1445.4 810.5 L1448.4 810.8 L1451.4 811.1 L1454.4 811.5 L1457.4 811.8 L1460.4 812.1 L1463.4 812.4 L1466.4 812.7 L1469.4 813.0 L1472.4 813.3 L1475.4 813.5 L1478.4 813.8 L1481.4 814.0 L1484.4 814.2 L1487.4 814.4 L1490.4 814.6 L1493.4 814.8 L1496.4 815.0 L1499.4 815.1 L1502.4 815.3 L1505.4 815.5 L1508.4 815.6 L1511.4 815.8 L1514.4 815.9 L1517.4 816.0 L1520.4 816.1 L1523.4 816.2 L1526.4 816.3 L1529.4 816.4 L1532.4 816.4 L1535.4 816.5 L1538.4 816.5 L1541.4 816.5 L1544.4 816.6 L1547.4 816.6 L1550.4 816.6 L1553.4 816.7 L1556.4 816.7 L1559.4 816.7 L1562.4 816.7 L1565.4 816.8 L1568.4 816.8 L1571.4 816.8 L1574.4 816.9 L1577.4 816.9 L1580.4 817.0 L1583.4 817.0 L1586.4 817.1 L1589.4 817.2 L1592.4 817.2 L1595.4 817.3 L1598.4 817.3 L1601.4 817.4 L1604.4 817.5 L1607.4 817.6 L1610.4 817.6 L1613.4 817.7 L1616.4 817.8 L1619.4 817.9 L1622.4 818.0 L1625.4 818.1 L1628.4 818.2 L1631.4 818.4 L1634.4 818.6 L1637.4 818.8 L1640.4 819.1 L1643.4 819.3 L1646.4 819.6 L1649.4 819.9 L1652.4 820.2 L1655.4 820.5 L1658.4 820.7 L1661.4 821.0 L1664.4 821.2 L1667.4 821.4 L1670.4 821.5 L1673.4 821.6 L1676.4 821.7 L1679.4 821.8 L1682.4 821.8 L1685.4 821.9 L1688.4 821.9 L1691.4 822.0 L1694.4 822.0 L1697.4 822.1 L1700.4 822.1 L1703.4 822.2 L1706.4 822.2 L1709.4 822.2 L1712.4 822.3 L1715.4 822.3 L1718.4 822.3 L1721.4 822.3 L1724.4 822.3 L1727.5 822.2 L1730.5 822.2 L1733.5 822.1 L1736.5 822.0 L1739.5 821.9 L1742.5 821.7 L1745.5 821.6 L1748.5 821.5 L1751.5 821.3 L1754.5 821.2 L1757.5 821.1 L1760.5 821.0 L1763.5 820.9 L1766.5 820.8 L1769.5 820.8 L1772.5 820.7 L1775.5 820.7 L1778.5 820.7 L1781.5 820.7 L1784.5 820.7"/>
<path class="fitb" d="M142.6 597.7 L145.6 597.7 L148.6 597.8 L151.6 598.0 L154.6 598.2 L157.6 598.4 L160.6 598.6 L163.6 598.9 L166.6 599.2 L169.6 599.5 L172.6 600.1 L175.6 600.9 L178.6 601.7 L181.6 602.5 L184.6 603.1 L187.6 603.4 L190.6 603.4 L193.6 603.2 L196.6 603.0 L199.6 602.6 L202.6 602.3 L205.6 601.9 L208.6 601.5 L211.6 601.0 L214.6 600.3 L217.7 599.5 L220.7 598.7 L223.7 598.0 L226.7 597.4 L229.7 597.1 L232.7 597.1 L235.7 597.1 L238.7 597.1 L241.7 597.1 L244.7 597.1 L247.7 597.1 L250.7 597.1 L253.7 597.1 L256.7 597.1 L259.7 598.0 L262.7 599.1 L265.7 599.3 L268.7 599.2 L271.7 599.0 L274.7 598.8 L277.7 598.5 L280.7 598.2 L283.7 597.8 L286.7 597.3 L289.7 596.5 L292.7 595.3 L295.7 594.0 L298.7 592.7 L301.7 591.5 L304.7 590.5 L307.7 589.9 L310.7 589.5 L313.7 589.2 L316.7 589.0 L319.7 588.9 L322.7 589.0 L325.7 589.6 L328.7 590.5 L331.7 591.4 L334.7 592.3 L337.7 593.4 L340.7 594.6 L343.7 595.9 L346.7 597.1 L349.7 598.1 L352.7 598.8 L355.7 599.2 L358.7 599.0 L361.7 597.6 L364.7 595.7 L367.7 593.8 L370.7 591.4 L373.7 589.0 L376.7 587.0 L379.7 585.7 L382.7 584.5 L385.7 583.3 L388.7 582.3 L391.7 581.4 L394.7 580.8 L397.7 580.4 L400.7 580.4 L403.7 580.4 L406.7 580.4 L409.8 580.4 L412.8 580.4 L415.8 580.2 L418.8 579.9 L421.8 579.4 L424.8 578.8 L427.8 578.0 L430.8 576.7 L433.8 575.0 L436.8 572.9 L439.8 570.7 L442.8 568.3 L445.8 565.8 L448.8 562.7 L451.8 558.9 L454.8 554.9 L457.8 550.9 L460.8 547.3 L463.8 543.8 L466.8 540.4 L469.8 537.0 L472.8 533.8 L475.8 530.9 L478.8 528.2 L481.8 525.7 L484.8 523.3 L487.8 521.0 L490.8 518.9 L493.8 516.9 L496.8 515.1 L499.8 513.6 L502.8 512.3 L505.8 511.1 L508.8 510.0 L511.8 508.7 L514.8 507.3 L517.8 505.5 L520.8 503.3 L523.8 499.6 L526.8 494.1 L529.8 488.1 L532.8 482.9 L535.8 478.3 L538.8 473.9 L541.8 469.4 L544.8 464.6 L547.8 459.0 L550.8 452.5 L553.8 445.7 L556.8 439.1 L559.8 432.6 L562.8 426.1 L565.8 419.8 L568.8 413.4 L571.8 406.9 L574.8 400.6 L577.8 394.7 L580.8 389.7 L583.8 385.2 L586.8 381.0 L589.8 377.2 L592.8 373.9 L595.8 371.3 L598.8 369.3 L601.9 367.7 L604.9 366.9 L607.9 366.6 L610.9 366.3 L613.9 366.5 L616.9 367.8 L619.9 369.5 L622.9 371.7 L625.9 374.8 L628.9 378.3 L631.9 382.3 L634.9 386.8 L637.9 391.3 L640.9 395.7 L643.9 400.3 L646.9 405.1 L649.9 410.0 L652.9 415.1 L655.9 420.4 L658.9 425.9 L661.9 431.6 L664.9 437.3 L667.9 443.3 L670.9 449.7 L673.9 456.6 L676.9 463.9 L679.9 471.3 L682.9 479.1 L685.9 486.5 L688.9 493.4 L691.9 500.1 L694.9 506.7 L697.9 513.4 L700.9 520.1 L703.9 526.8 L706.9 533.4 L709.9 540.4 L712.9 548.3 L715.9 556.8 L718.9 564.3 L721.9 570.9 L724.9 576.5 L727.9 579.9 L730.9 582.5 L733.9 584.0 L736.9 583.7 L739.9 581.9 L742.9 579.3 L745.9 576.6 L748.9 574.4 L751.9 572.3 L754.9 570.2 L757.9 568.2 L760.9 566.5 L763.9 565.3 L766.9 564.6 L769.9 564.0 L772.9 563.6 L775.9 563.2 L778.9 563.0 L781.9 563.0 L784.9 563.0 L787.9 563.0 L790.9 563.0 L794.0 563.2 L797.0 563.5 L800.0 564.0 L803.0 564.5 L806.0 565.1 L809.0 565.7 L812.0 566.2 L815.0 566.8 L818.0 567.4 L821.0 568.1 L824.0 568.7 L827.0 569.3 L830.0 569.8 L833.0 570.2 L836.0 570.7 L839.0 571.3 L842.0 572.3 L845.0 573.8 L848.0 575.7 L851.0 577.8 L854.0 579.8 L857.0 582.0 L860.0 584.3 L863.0 586.7 L866.0 588.9 L869.0 591.6 L872.0 594.3 L875.0 596.3 L878.0 597.1 L881.0 596.5 L884.0 595.2 L887.0 591.9 L890.0 586.0 L893.0 579.7 L896.0 574.1 L899.0 568.3 L902.0 562.5 L905.0 557.0 L908.0 552.1 L911.0 547.3 L914.0 542.8 L917.0 538.5 L920.0 534.4 L923.0 530.5 L926.0 526.7 L929.0 523.1 L932.0 519.7 L935.0 516.6 L938.0 513.8 L941.0 511.0 L944.0 508.3 L947.0 506.6 L950.0 506.3 L953.0 506.6 L956.0 507.1 L959.0 507.7 L962.0 508.6 L965.0 510.2 L968.0 512.2 L971.0 514.7 L974.0 517.5 L977.0 520.5 L980.0 523.6 L983.0 527.9 L986.1 532.3 L989.1 535.6 L992.1 538.7 L995.1 541.1 L998.1 541.9 L1001.1 540.8 L1004.1 538.7 L1007.1 536.2 L1010.1 533.0 L1013.1 528.6 L1016.1 522.1 L1019.1 510.4 L1022.1 501.0 L1025.1 494.8 L1028.1 489.5 L1031.1 483.7 L1034.1 476.2 L1037.1 466.9 L1040.1 456.7 L1043.1 446.1 L1046.1 435.8 L1049.1 425.3 L1052.1 414.6 L1055.1 404.0 L1058.1 393.8 L1061.1 383.2 L1064.1 372.9 L1067.1 364.3 L1070.1 358.3 L1073.1 353.5 L1076.1 349.5 L1079.1 346.0 L1082.1 342.9 L1085.1 340.0 L1088.1 337.1 L1091.1 334.7 L1094.1 333.2 L1097.1 332.6 L1100.1 332.1 L1103.1 331.8 L1106.1 331.6 L1109.1 331.7 L1112.1 332.8 L1115.1 334.8 L1118.1 337.2 L1121.1 339.7 L1124.1 342.7 L1127.1 346.4 L1130.1 350.6 L1133.1 354.9 L1136.1 359.6 L1139.1 364.8 L1142.1 370.3 L1145.1 375.9 L1148.1 381.6 L1151.1 387.7 L1154.1 393.9 L1157.1 400.1 L1160.1 406.0 L1163.1 411.4 L1166.1 416.1 L1169.1 420.8 L1172.1 426.6 L1175.1 435.2 L1178.2 446.0 L1181.2 454.3 L1184.2 460.4 L1187.2 465.5 L1190.2 470.2 L1193.2 475.0 L1196.2 479.6 L1199.2 484.0 L1202.2 488.3 L1205.2 492.9 L1208.2 498.0 L1211.2 503.4 L1214.2 508.9 L1217.2 514.0 L1220.2 518.6 L1223.2 523.0 L1226.2 527.2 L1229.2 531.0 L1232.2 534.4 L1235.2 537.4 L1238.2 540.3 L1241.2 543.0 L1244.2 545.4 L1247.2 547.7 L1250.2 549.7 L1253.2 551.5 L1256.2 553.1 L1259.2 554.6 L1262.2 556.0 L1265.2 557.3 L1268.2 558.5 L1271.2 559.6 L1274.2 560.8 L1277.2 561.9 L1280.2 563.1 L1283.2 564.2 L1286.2 565.2 L1289.2 566.1 L1292.2 566.9 L1295.2 567.5 L1298.2 567.9 L1301.2 568.2 L1304.2 568.4 L1307.2 568.5 L1310.2 568.7 L1313.2 568.9 L1316.2 569.1 L1319.2 569.3 L1322.2 569.8 L1325.2 570.3 L1328.2 571.0 L1331.2 571.7 L1334.2 572.4 L1337.2 573.1 L1340.2 573.6 L1343.2 574.0 L1346.2 574.2 L1349.2 574.3 L1352.2 574.4 L1355.2 574.5 L1358.2 574.6 L1361.2 574.7 L1364.2 574.8 L1367.2 574.9 L1370.3 575.0 L1373.3 575.2 L1376.3 575.3 L1379.3 575.6 L1382.3 576.0 L1385.3 576.9 L1388.3 577.7 L1391.3 578.3 L1394.3 578.7 L1397.3 579.1 L1400.3 579.5 L1403.3 579.8 L1406.3 580.2 L1409.3 580.5 L1412.3 580.8 L1415.3 581.0 L1418.3 581.3 L1421.3 581.5 L1424.3 581.7 L1427.3 581.9 L1430.3 582.1 L1433.3 582.3 L1436.3 582.5 L1439.3 582.7 L1442.3 582.8 L1445.3 583.0 L1448.3 583.1 L1451.3 583.2 L1454.3 583.3 L1457.3 583.5 L1460.3 583.6 L1463.3 583.7 L1466.3 583.8 L1469.3 583.9 L1472.3 584.0 L1475.3 584.1 L1478.3 584.2 L1481.3 584.3 L1484.3 584.4 L1487.3 584.6 L1490.3 584.7 L1493.3 584.9 L1496.3 585.0 L1499.3 585.2 L1502.3 585.3 L1505.3 585.5 L1508.3 585.6 L1511.3 585.8 L1514.3 585.9 L1517.3 586.1 L1520.3 586.2 L1523.3 586.3 L1526.3 586.5 L1529.3 586.6 L1532.3 586.7 L1535.3 586.8 L1538.3 586.9 L1541.3 587.0 L1544.3 587.1 L1547.3 587.1 L1550.3 587.2 L1553.3 587.3 L1556.3 587.4 L1559.3 587.5 L1562.4 587.5 L1565.4 587.6 L1568.4 587.7 L1571.4 587.7 L1574.4 587.8 L1577.4 587.9 L1580.4 587.9 L1583.4 588.0 L1586.4 588.1 L1589.4 588.1 L1592.4 588.2 L1595.4 588.3 L1598.4 588.3 L1601.4 588.4 L1604.4 588.4 L1607.4 588.5 L1610.4 588.5 L1613.4 588.6 L1616.4 588.7 L1619.4 588.7 L1622.4 588.8 L1625.4 588.8 L1628.4 588.9 L1631.4 588.9 L1634.4 589.0 L1637.4 589.0 L1640.4 589.1 L1643.4 589.1 L1646.4 589.1 L1649.4 589.2 L1652.4 589.2 L1655.4 589.3 L1658.4 589.3 L1661.4 589.4 L1664.4 589.4 L1667.4 589.5 L1670.4 589.5 L1673.4 589.6 L1676.4 589.6 L1679.4 589.7 L1682.4 589.7 L1685.4 589.8 L1688.4 589.8 L1691.4 589.9 L1694.4 589.9 L1697.4 590.0 L1700.4 590.0 L1703.4 590.1 L1706.4 590.1 L1709.4 590.2 L1712.4 590.2 L1715.4 590.3 L1718.4 590.3 L1721.4 590.4 L1724.4 590.4 L1727.4 590.5 L1730.4 590.5 L1733.4 590.6 L1736.4 590.6 L1739.4 590.7 L1742.4 590.7 L1745.4 590.8 L1748.4 590.8 L1751.4 590.9 L1754.5 590.9 L1757.5 591.0 L1760.5 591.0 L1763.5 591.1 L1766.5 591.1 L1769.5 591.2 L1772.5 591.2 L1775.5 591.3 L1778.5 591.3 L1781.5 591.4 L1784.5 591.4"/>
<path class="fitw" d="M142.6 597.7 L145.6 597.7 L148.6 597.8 L151.6 598.0 L154.6 598.2 L157.6 598.4 L160.6 598.6 L163.6 598.9 L166.6 599.2 L169.6 599.5 L172.6 600.1 L175.6 600.9 L178.6 601.7 L181.6 602.5 L184.6 603.1 L187.6 603.4 L190.6 603.4 L193.6 603.2 L196.6 603.0 L199.6 602.6 L202.6 602.3 L205.6 601.9 L208.6 601.5 L211.6 601.0 L214.6 600.3 L217.7 599.5 L220.7 598.7 L223.7 598.0 L226.7 597.4 L229.7 597.1 L232.7 597.1 L235.7 597.1 L238.7 597.1 L241.7 597.1 L244.7 597.1 L247.7 597.1 L250.7 597.1 L253.7 597.1 L256.7 597.1 L259.7 598.0 L262.7 599.1 L265.7 599.3 L268.7 599.2 L271.7 599.0 L274.7 598.8 L277.7 598.5 L280.7 598.2 L283.7 597.8 L286.7 597.3 L289.7 596.5 L292.7 595.3 L295.7 594.0 L298.7 592.7 L301.7 591.5 L304.7 590.5 L307.7 589.9 L310.7 589.5 L313.7 589.2 L316.7 589.0 L319.7 588.9 L322.7 589.0 L325.7 589.6 L328.7 590.5 L331.7 591.4 L334.7 592.3 L337.7 593.4 L340.7 594.6 L343.7 595.9 L346.7 597.1 L349.7 598.1 L352.7 598.8 L355.7 599.2 L358.7 599.0 L361.7 597.6 L364.7 595.7 L367.7 593.8 L370.7 591.4 L373.7 589.0 L376.7 587.0 L379.7 585.7 L382.7 584.5 L385.7 583.3 L388.7 582.3 L391.7 581.4 L394.7 580.8 L397.7 580.4 L400.7 580.4 L403.7 580.4 L406.7 580.4 L409.8 580.4 L412.8 580.4 L415.8 580.2 L418.8 579.9 L421.8 579.4 L424.8 578.8 L427.8 578.0 L430.8 576.7 L433.8 575.0 L436.8 572.9 L439.8 570.7 L442.8 568.3 L445.8 565.8 L448.8 562.7 L451.8 558.9 L454.8 554.9 L457.8 550.9 L460.8 547.3 L463.8 543.8 L466.8 540.4 L469.8 537.0 L472.8 533.8 L475.8 530.9 L478.8 528.2 L481.8 525.7 L484.8 523.3 L487.8 521.0 L490.8 518.9 L493.8 516.9 L496.8 515.1 L499.8 513.6 L502.8 512.3 L505.8 511.1 L508.8 510.0 L511.8 508.7 L514.8 507.3 L517.8 505.5 L520.8 503.3 L523.8 499.6 L526.8 494.1 L529.8 488.1 L532.8 482.9 L535.8 478.3 L538.8 473.9 L541.8 469.4 L544.8 464.6 L547.8 459.0 L550.8 452.5 L553.8 445.7 L556.8 439.1 L559.8 432.6 L562.8 426.1 L565.8 419.8 L568.8 413.4 L571.8 406.9 L574.8 400.6 L577.8 394.7 L580.8 389.7 L583.8 385.2 L586.8 381.0 L589.8 377.2 L592.8 373.9 L595.8 371.3 L598.8 369.3 L601.9 367.7 L604.9 366.9 L607.9 366.6 L610.9 366.3 L613.9 366.5 L616.9 367.8 L619.9 369.5 L622.9 371.7 L625.9 374.8 L628.9 378.3 L631.9 382.3 L634.9 386.8 L637.9 391.3 L640.9 395.7 L643.9 400.3 L646.9 405.1 L649.9 410.0 L652.9 415.1 L655.9 420.4 L658.9 425.9 L661.9 431.6 L664.9 437.3 L667.9 443.3 L670.9 449.7 L673.9 456.6 L676.9 463.9 L679.9 471.3 L682.9 479.1 L685.9 486.5 L688.9 493.4 L691.9 500.1 L694.9 506.7 L697.9 513.4 L700.9 520.1 L703.9 526.8 L706.9 533.4 L709.9 540.4 L712.9 548.3 L715.9 556.8 L718.9 564.3 L721.9 570.9 L724.9 576.5 L727.9 579.9 L730.9 582.5 L733.9 584.0 L736.9 583.7 L739.9 581.9 L742.9 579.3 L745.9 576.6 L748.9 574.4 L751.9 572.3 L754.9 570.2 L757.9 568.2 L760.9 566.5 L763.9 565.3 L766.9 564.6 L769.9 564.0 L772.9 563.6 L775.9 563.2 L778.9 563.0 L781.9 563.0 L784.9 563.0 L787.9 563.0 L790.9 563.0 L794.0 563.2 L797.0 563.5 L800.0 564.0 L803.0 564.5 L806.0 565.1 L809.0 565.7 L812.0 566.2 L815.0 566.8 L818.0 567.4 L821.0 568.1 L824.0 568.7 L827.0 569.3 L830.0 569.8 L833.0 570.2 L836.0 570.7 L839.0 571.3 L842.0 572.3 L845.0 573.8 L848.0 575.7 L851.0 577.8 L854.0 579.8 L857.0 582.0 L860.0 584.3 L863.0 586.7 L866.0 588.9 L869.0 591.6 L872.0 594.3 L875.0 596.3 L878.0 597.1 L881.0 596.5 L884.0 595.2 L887.0 591.9 L890.0 586.0 L893.0 579.7 L896.0 574.1 L899.0 568.3 L902.0 562.5 L905.0 557.0 L908.0 552.1 L911.0 547.3 L914.0 542.8 L917.0 538.5 L920.0 534.4 L923.0 530.5 L926.0 526.7 L929.0 523.1 L932.0 519.7 L935.0 516.6 L938.0 513.8 L941.0 511.0 L944.0 508.3 L947.0 506.6 L950.0 506.3 L953.0 506.6 L956.0 507.1 L959.0 507.7 L962.0 508.6 L965.0 510.2 L968.0 512.2 L971.0 514.7 L974.0 517.5 L977.0 520.5 L980.0 523.6 L983.0 527.9 L986.1 532.3 L989.1 535.6 L992.1 538.7 L995.1 541.1 L998.1 541.9 L1001.1 540.8 L1004.1 538.7 L1007.1 536.2 L1010.1 533.0 L1013.1 528.6 L1016.1 522.1 L1019.1 510.4 L1022.1 501.0 L1025.1 494.8 L1028.1 489.5 L1031.1 483.7 L1034.1 476.2 L1037.1 466.9 L1040.1 456.7 L1043.1 446.1 L1046.1 435.8 L1049.1 425.3 L1052.1 414.6 L1055.1 404.0 L1058.1 393.8 L1061.1 383.2 L1064.1 372.9 L1067.1 364.3 L1070.1 358.3 L1073.1 353.5 L1076.1 349.5 L1079.1 346.0 L1082.1 342.9 L1085.1 340.0 L1088.1 337.1 L1091.1 334.7 L1094.1 333.2 L1097.1 332.6 L1100.1 332.1 L1103.1 331.8 L1106.1 331.6 L1109.1 331.7 L1112.1 332.8 L1115.1 334.8 L1118.1 337.2 L1121.1 339.7 L1124.1 342.7 L1127.1 346.4 L1130.1 350.6 L1133.1 354.9 L1136.1 359.6 L1139.1 364.8 L1142.1 370.3 L1145.1 375.9 L1148.1 381.6 L1151.1 387.7 L1154.1 393.9 L1157.1 400.1 L1160.1 406.0 L1163.1 411.4 L1166.1 416.1 L1169.1 420.8 L1172.1 426.6 L1175.1 435.2 L1178.2 446.0 L1181.2 454.3 L1184.2 460.4 L1187.2 465.5 L1190.2 470.2 L1193.2 475.0 L1196.2 479.6 L1199.2 484.0 L1202.2 488.3 L1205.2 492.9 L1208.2 498.0 L1211.2 503.4 L1214.2 508.9 L1217.2 514.0 L1220.2 518.6 L1223.2 523.0 L1226.2 527.2 L1229.2 531.0 L1232.2 534.4 L1235.2 537.4 L1238.2 540.3 L1241.2 543.0 L1244.2 545.4 L1247.2 547.7 L1250.2 549.7 L1253.2 551.5 L1256.2 553.1 L1259.2 554.6 L1262.2 556.0 L1265.2 557.3 L1268.2 558.5 L1271.2 559.6 L1274.2 560.8 L1277.2 561.9 L1280.2 563.1 L1283.2 564.2 L1286.2 565.2 L1289.2 566.1 L1292.2 566.9 L1295.2 567.5 L1298.2 567.9 L1301.2 568.2 L1304.2 568.4 L1307.2 568.5 L1310.2 568.7 L1313.2 568.9 L1316.2 569.1 L1319.2 569.3 L1322.2 569.8 L1325.2 570.3 L1328.2 571.0 L1331.2 571.7 L1334.2 572.4 L1337.2 573.1 L1340.2 573.6 L1343.2 574.0 L1346.2 574.2 L1349.2 574.3 L1352.2 574.4 L1355.2 574.5 L1358.2 574.6 L1361.2 574.7 L1364.2 574.8 L1367.2 574.9 L1370.3 575.0 L1373.3 575.2 L1376.3 575.3 L1379.3 575.6 L1382.3 576.0 L1385.3 576.9 L1388.3 577.7 L1391.3 578.3 L1394.3 578.7 L1397.3 579.1 L1400.3 579.5 L1403.3 579.8 L1406.3 580.2 L1409.3 580.5 L1412.3 580.8 L1415.3 581.0 L1418.3 581.3 L1421.3 581.5 L1424.3 581.7 L1427.3 581.9 L1430.3 582.1 L1433.3 582.3 L1436.3 582.5 L1439.3 582.7 L1442.3 582.8 L1445.3 583.0 L1448.3 583.1 L1451.3 583.2 L1454.3 583.3 L1457.3 583.5 L1460.3 583.6 L1463.3 583.7 L1466.3 583.8 L1469.3 583.9 L1472.3 584.0 L1475.3 584.1 L1478.3 584.2 L1481.3 584.3 L1484.3 584.4 L1487.3 584.6 L1490.3 584.7 L1493.3 584.9 L1496.3 585.0 L1499.3 585.2 L1502.3 585.3 L1505.3 585.5 L1508.3 585.6 L1511.3 585.8 L1514.3 585.9 L1517.3 586.1 L1520.3 586.2 L1523.3 586.3 L1526.3 586.5 L1529.3 586.6 L1532.3 586.7 L1535.3 586.8 L1538.3 586.9 L1541.3 587.0 L1544.3 587.1 L1547.3 587.1 L1550.3 587.2 L1553.3 587.3 L1556.3 587.4 L1559.3 587.5 L1562.4 587.5 L1565.4 587.6 L1568.4 587.7 L1571.4 587.7 L1574.4 587.8 L1577.4 587.9 L1580.4 587.9 L1583.4 588.0 L1586.4 588.1 L1589.4 588.1 L1592.4 588.2 L1595.4 588.3 L1598.4 588.3 L1601.4 588.4 L1604.4 588.4 L1607.4 588.5 L1610.4 588.5 L1613.4 588.6 L1616.4 588.7 L1619.4 588.7 L1622.4 588.8 L1625.4 588.8 L1628.4 588.9 L1631.4 588.9 L1634.4 589.0 L1637.4 589.0 L1640.4 589.1 L1643.4 589.1 L1646.4 589.1 L1649.4 589.2 L1652.4 589.2 L1655.4 589.3 L1658.4 589.3 L1661.4 589.4 L1664.4 589.4 L1667.4 589.5 L1670.4 589.5 L1673.4 589.6 L1676.4 589.6 L1679.4 589.7 L1682.4 589.7 L1685.4 589.8 L1688.4 589.8 L1691.4 589.9 L1694.4 589.9 L1697.4 590.0 L1700.4 590.0 L1703.4 590.1 L1706.4 590.1 L1709.4 590.2 L1712.4 590.2 L1715.4 590.3 L1718.4 590.3 L1721.4 590.4 L1724.4 590.4 L1727.4 590.5 L1730.4 590.5 L1733.4 590.6 L1736.4 590.6 L1739.4 590.7 L1742.4 590.7 L1745.4 590.8 L1748.4 590.8 L1751.4 590.9 L1754.5 590.9 L1757.5 591.0 L1760.5 591.0 L1763.5 591.1 L1766.5 591.1 L1769.5 591.2 L1772.5 591.2 L1775.5 591.3 L1778.5 591.3 L1781.5 591.4 L1784.5 591.4"/>
<path class="fitb" d="M142.6 375.4 L145.6 373.9 L148.6 372.4 L151.6 371.1 L154.6 369.8 L157.6 368.6 L160.6 367.5 L163.6 366.4 L166.6 365.2 L169.6 364.0 L172.6 362.9 L175.6 362.1 L178.6 361.8 L181.6 361.5 L184.6 361.3 L187.6 361.2 L190.6 361.4 L193.6 362.1 L196.6 363.1 L199.6 364.3 L202.6 365.7 L205.6 367.0 L208.6 368.1 L211.6 368.9 L214.6 369.2 L217.7 369.5 L220.7 369.7 L223.7 369.8 L226.7 369.6 L229.7 369.0 L232.7 368.3 L235.7 367.5 L238.7 366.8 L241.7 366.0 L244.7 365.2 L247.7 364.4 L250.7 363.6 L253.7 363.1 L256.7 362.8 L259.7 362.8 L262.7 363.0 L265.7 363.2 L268.7 363.4 L271.7 363.7 L274.7 364.2 L277.7 364.8 L280.7 365.6 L283.7 366.5 L286.7 367.3 L289.7 368.1 L292.7 369.0 L295.7 370.0 L298.7 371.0 L301.7 371.7 L304.7 372.2 L307.7 372.2 L310.7 371.3 L313.7 369.7 L316.7 368.0 L319.7 366.4 L322.7 364.6 L325.7 362.7 L328.7 361.2 L331.7 359.9 L334.7 358.5 L337.7 357.2 L340.7 355.9 L343.7 354.9 L346.7 354.0 L349.7 353.5 L352.7 353.4 L355.7 353.4 L358.7 353.4 L361.7 353.4 L364.7 353.5 L367.7 354.1 L370.7 355.0 L373.7 355.6 L376.7 355.6 L379.7 355.5 L382.7 355.5 L385.7 355.4 L388.7 355.4 L391.7 355.3 L394.7 355.1 L397.7 355.0 L400.7 353.8 L403.7 350.9 L406.7 347.7 L409.8 344.8 L412.8 341.5 L415.8 338.5 L418.8 336.3 L421.8 334.3 L424.8 332.5 L427.8 330.8 L430.8 329.3 L433.8 327.8 L436.8 326.5 L439.8 325.3 L442.8 324.2 L445.8 323.1 L448.8 322.1 L451.8 321.2 L454.8 320.3 L457.8 319.5 L460.8 318.7 L463.8 318.1 L466.8 317.6 L469.8 317.1 L472.8 316.7 L475.8 316.3 L478.8 315.8 L481.8 315.2 L484.8 314.4 L487.8 313.3 L490.8 311.5 L493.8 309.2 L496.8 306.8 L499.8 303.9 L502.8 300.8 L505.8 297.5 L508.8 294.0 L511.8 290.3 L514.8 286.5 L517.8 282.8 L520.8 279.4 L523.8 276.4 L526.8 273.4 L529.8 270.9 L532.8 269.6 L535.8 268.9 L538.8 268.4 L541.8 268.2 L544.8 268.5 L547.8 268.9 L550.8 269.5 L553.8 270.1 L556.8 270.9 L559.8 271.9 L562.8 272.9 L565.8 273.8 L568.8 274.4 L571.8 274.5 L574.8 274.5 L577.8 274.5 L580.8 273.8 L583.8 269.2 L586.8 264.0 L589.8 259.5 L592.8 254.5 L595.8 250.3 L598.8 247.9 L601.9 249.8 L604.9 253.7 L607.9 250.1 L610.9 242.1 L613.9 235.2 L616.9 229.9 L619.9 225.0 L622.9 220.7 L625.9 216.7 L628.9 213.2 L631.9 210.1 L634.9 207.3 L637.9 205.1 L640.9 203.2 L643.9 201.8 L646.9 201.4 L649.9 201.5 L652.9 201.7 L655.9 202.2 L658.9 203.7 L661.9 205.6 L664.9 207.8 L667.9 210.6 L670.9 213.8 L673.9 217.3 L676.9 221.6 L679.9 227.3 L682.9 237.1 L685.9 249.0 L688.9 259.3 L691.9 265.7 L694.9 270.5 L697.9 274.6 L700.9 278.4 L703.9 282.4 L706.9 286.9 L709.9 291.6 L712.9 296.2 L715.9 300.9 L718.9 305.3 L721.9 309.7 L724.9 314.0 L727.9 318.2 L730.9 322.1 L733.9 325.8 L736.9 329.4 L739.9 332.9 L742.9 336.5 L745.9 340.0 L748.9 343.3 L751.9 345.8 L754.9 347.5 L757.9 348.8 L760.9 349.8 L763.9 350.3 L766.9 351.2 L769.9 353.0 L772.9 355.8 L775.9 358.9 L778.9 362.0 L781.9 365.5 L784.9 369.1 L787.9 372.3 L790.9 374.8 L794.0 377.0 L797.0 378.0 L800.0 377.4 L803.0 376.0 L806.0 374.4 L809.0 372.7 L812.0 370.6 L815.0 368.4 L818.0 366.3 L821.0 364.5 L824.0 362.9 L827.0 361.4 L830.0 359.9 L833.0 358.5 L836.0 357.0 L839.0 355.1 L842.0 353.5 L845.0 353.4 L848.0 353.8 L851.0 354.3 L854.0 354.9 L857.0 355.7 L860.0 356.8 L863.0 358.1 L866.0 359.5 L869.0 361.2 L872.0 362.9 L875.0 364.6 L878.0 367.2 L881.0 370.1 L884.0 372.7 L887.0 373.9 L890.0 373.7 L893.0 373.2 L896.0 372.5 L899.0 371.1 L902.0 368.1 L905.0 364.1 L908.0 359.7 L911.0 355.4 L914.0 351.8 L917.0 348.7 L920.0 345.8 L923.0 343.0 L926.0 340.3 L929.0 337.8 L932.0 335.5 L935.0 333.2 L938.0 330.8 L941.0 328.6 L944.0 326.7 L947.0 325.2 L950.0 324.4 L953.0 324.0 L956.0 323.7 L959.0 323.5 L962.0 323.4 L965.0 323.7 L968.0 325.0 L971.0 326.9 L974.0 329.3 L977.0 331.7 L980.0 334.0 L983.0 336.6 L986.1 339.5 L989.1 342.4 L992.1 345.2 L995.1 347.5 L998.1 349.8 L1001.1 351.9 L1004.1 353.6 L1007.1 355.0 L1010.1 356.0 L1013.1 356.5 L1016.1 355.9 L1019.1 354.1 L1022.1 351.5 L1025.1 348.4 L1028.1 345.0 L1031.1 341.9 L1034.1 338.6 L1037.1 334.8 L1040.1 330.8 L1043.1 326.7 L1046.1 322.7 L1049.1 318.9 L1052.1 315.1 L1055.1 311.3 L1058.1 307.5 L1061.1 304.1 L1064.1 301.0 L1067.1 298.1 L1070.1 295.1 L1073.1 292.5 L1076.1 290.3 L1079.1 288.9 L1082.1 288.0 L1085.1 287.3 L1088.1 286.8 L1091.1 286.5 L1094.1 286.6 L1097.1 286.8 L1100.1 287.1 L1103.1 287.5 L1106.1 288.0 L1109.1 288.6 L1112.1 289.4 L1115.1 290.3 L1118.1 291.3 L1121.1 292.3 L1124.1 293.4 L1127.1 294.5 L1130.1 295.6 L1133.1 296.8 L1136.1 298.1 L1139.1 299.5 L1142.1 301.1 L1145.1 303.0 L1148.1 305.4 L1151.1 308.2 L1154.1 311.3 L1157.1 314.4 L1160.1 317.6 L1163.1 320.7 L1166.1 323.5 L1169.1 326.1 L1172.1 328.7 L1175.1 331.3 L1178.2 333.8 L1181.2 336.0 L1184.2 337.9 L1187.2 339.4 L1190.2 340.5 L1193.2 341.4 L1196.2 342.3 L1199.2 342.9 L1202.2 343.5 L1205.2 343.9 L1208.2 344.3 L1211.2 344.7 L1214.2 345.2 L1217.2 345.8 L1220.2 346.4 L1223.2 347.0 L1226.2 347.5 L1229.2 348.1 L1232.2 348.6 L1235.2 349.0 L1238.2 349.4 L1241.2 349.8 L1244.2 350.1 L1247.2 350.5 L1250.2 350.9 L1253.2 351.3 L1256.2 351.8 L1259.2 352.5 L1262.2 353.4 L1265.2 354.5 L1268.2 355.5 L1271.2 356.5 L1274.2 357.4 L1277.2 358.0 L1280.2 358.3 L1283.2 358.5 L1286.2 358.7 L1289.2 358.9 L1292.2 359.0 L1295.2 359.2 L1298.2 359.3 L1301.2 359.5 L1304.2 359.7 L1307.2 360.1 L1310.2 360.4 L1313.2 360.8 L1316.2 361.3 L1319.2 361.7 L1322.2 362.1 L1325.2 362.5 L1328.2 362.8 L1331.2 363.0 L1334.2 363.2 L1337.2 363.4 L1340.2 363.6 L1343.2 363.8 L1346.2 364.0 L1349.2 364.1 L1352.2 364.3 L1355.2 364.5 L1358.2 364.7 L1361.2 364.8 L1364.2 365.0 L1367.2 365.1 L1370.3 365.3 L1373.3 365.5 L1376.3 365.7 L1379.3 365.9 L1382.3 366.2 L1385.3 366.5 L1388.3 366.9 L1391.3 367.3 L1394.3 367.8 L1397.3 368.2 L1400.3 368.6 L1403.3 368.9 L1406.3 369.1 L1409.3 369.4 L1412.3 369.6 L1415.3 369.8 L1418.3 370.0 L1421.3 370.2 L1424.3 370.3 L1427.3 370.5 L1430.3 370.6 L1433.3 370.7 L1436.3 370.7 L1439.3 370.6 L1442.3 370.3 L1445.3 369.7 L1448.3 368.9 L1451.3 368.0 L1454.3 367.2 L1457.3 366.6 L1460.3 366.1 L1463.3 366.0 L1466.3 366.0 L1469.3 366.1 L1472.3 366.2 L1475.3 366.3 L1478.3 366.4 L1481.3 366.6 L1484.3 366.8 L1487.3 366.9 L1490.3 367.1 L1493.3 367.2 L1496.3 367.4 L1499.3 367.5 L1502.3 367.6 L1505.3 367.7 L1508.3 367.8 L1511.3 367.9 L1514.3 368.0 L1517.3 368.1 L1520.3 368.2 L1523.3 368.3 L1526.3 368.4 L1529.3 368.4 L1532.3 368.5 L1535.3 368.6 L1538.3 368.7 L1541.3 368.8 L1544.3 368.8 L1547.3 368.9 L1550.3 368.9 L1553.3 369.0 L1556.3 369.0 L1559.3 369.1 L1562.4 369.1 L1565.4 369.1 L1568.4 369.2 L1571.4 369.2 L1574.4 369.2 L1577.4 369.2 L1580.4 369.2 L1583.4 369.2 L1586.4 369.2 L1589.4 369.3 L1592.4 369.3 L1595.4 369.3 L1598.4 369.3 L1601.4 369.3 L1604.4 369.3 L1607.4 369.3 L1610.4 369.3 L1613.4 369.3 L1616.4 369.4 L1619.4 369.4 L1622.4 369.4 L1625.4 369.4 L1628.4 369.5 L1631.4 369.5 L1634.4 369.6 L1637.4 369.7 L1640.4 369.9 L1643.4 370.1 L1646.4 370.2 L1649.4 370.4 L1652.4 370.6 L1655.4 370.8 L1658.4 371.0 L1661.4 371.1 L1664.4 371.3 L1667.4 371.4 L1670.4 371.5 L1673.4 371.6 L1676.4 371.7 L1679.4 371.8 L1682.4 371.8 L1685.4 371.9 L1688.4 371.9 L1691.4 372.0 L1694.4 372.0 L1697.4 372.1 L1700.4 372.1 L1703.4 372.2 L1706.4 372.2 L1709.4 372.2 L1712.4 372.2 L1715.4 372.3 L1718.4 372.3 L1721.4 372.3 L1724.4 372.3 L1727.4 372.3 L1730.4 372.3 L1733.4 372.3 L1736.4 372.3 L1739.4 372.3 L1742.4 372.3 L1745.4 372.3 L1748.4 372.3 L1751.4 372.3 L1754.5 372.3 L1757.5 372.3 L1760.5 372.3 L1763.5 372.3 L1766.5 372.3 L1769.5 372.3 L1772.5 372.3 L1775.5 372.3 L1778.5 372.3 L1781.5 372.3 L1784.5 372.3"/>
<path class="fitw" d="M142.6 375.4 L145.6 373.9 L148.6 372.4 L151.6 371.1 L154.6 369.8 L157.6 368.6 L160.6 367.5 L163.6 366.4 L166.6 365.2 L169.6 364.0 L172.6 362.9 L175.6 362.1 L178.6 361.8 L181.6 361.5 L184.6 361.3 L187.6 361.2 L190.6 361.4 L193.6 362.1 L196.6 363.1 L199.6 364.3 L202.6 365.7 L205.6 367.0 L208.6 368.1 L211.6 368.9 L214.6 369.2 L217.7 369.5 L220.7 369.7 L223.7 369.8 L226.7 369.6 L229.7 369.0 L232.7 368.3 L235.7 367.5 L238.7 366.8 L241.7 366.0 L244.7 365.2 L247.7 364.4 L250.7 363.6 L253.7 363.1 L256.7 362.8 L259.7 362.8 L262.7 363.0 L265.7 363.2 L268.7 363.4 L271.7 363.7 L274.7 364.2 L277.7 364.8 L280.7 365.6 L283.7 366.5 L286.7 367.3 L289.7 368.1 L292.7 369.0 L295.7 370.0 L298.7 371.0 L301.7 371.7 L304.7 372.2 L307.7 372.2 L310.7 371.3 L313.7 369.7 L316.7 368.0 L319.7 366.4 L322.7 364.6 L325.7 362.7 L328.7 361.2 L331.7 359.9 L334.7 358.5 L337.7 357.2 L340.7 355.9 L343.7 354.9 L346.7 354.0 L349.7 353.5 L352.7 353.4 L355.7 353.4 L358.7 353.4 L361.7 353.4 L364.7 353.5 L367.7 354.1 L370.7 355.0 L373.7 355.6 L376.7 355.6 L379.7 355.5 L382.7 355.5 L385.7 355.4 L388.7 355.4 L391.7 355.3 L394.7 355.1 L397.7 355.0 L400.7 353.8 L403.7 350.9 L406.7 347.7 L409.8 344.8 L412.8 341.5 L415.8 338.5 L418.8 336.3 L421.8 334.3 L424.8 332.5 L427.8 330.8 L430.8 329.3 L433.8 327.8 L436.8 326.5 L439.8 325.3 L442.8 324.2 L445.8 323.1 L448.8 322.1 L451.8 321.2 L454.8 320.3 L457.8 319.5 L460.8 318.7 L463.8 318.1 L466.8 317.6 L469.8 317.1 L472.8 316.7 L475.8 316.3 L478.8 315.8 L481.8 315.2 L484.8 314.4 L487.8 313.3 L490.8 311.5 L493.8 309.2 L496.8 306.8 L499.8 303.9 L502.8 300.8 L505.8 297.5 L508.8 294.0 L511.8 290.3 L514.8 286.5 L517.8 282.8 L520.8 279.4 L523.8 276.4 L526.8 273.4 L529.8 270.9 L532.8 269.6 L535.8 268.9 L538.8 268.4 L541.8 268.2 L544.8 268.5 L547.8 268.9 L550.8 269.5 L553.8 270.1 L556.8 270.9 L559.8 271.9 L562.8 272.9 L565.8 273.8 L568.8 274.4 L571.8 274.5 L574.8 274.5 L577.8 274.5 L580.8 273.8 L583.8 269.2 L586.8 264.0 L589.8 259.5 L592.8 254.5 L595.8 250.3 L598.8 247.9 L601.9 249.8 L604.9 253.7 L607.9 250.1 L610.9 242.1 L613.9 235.2 L616.9 229.9 L619.9 225.0 L622.9 220.7 L625.9 216.7 L628.9 213.2 L631.9 210.1 L634.9 207.3 L637.9 205.1 L640.9 203.2 L643.9 201.8 L646.9 201.4 L649.9 201.5 L652.9 201.7 L655.9 202.2 L658.9 203.7 L661.9 205.6 L664.9 207.8 L667.9 210.6 L670.9 213.8 L673.9 217.3 L676.9 221.6 L679.9 227.3 L682.9 237.1 L685.9 249.0 L688.9 259.3 L691.9 265.7 L694.9 270.5 L697.9 274.6 L700.9 278.4 L703.9 282.4 L706.9 286.9 L709.9 291.6 L712.9 296.2 L715.9 300.9 L718.9 305.3 L721.9 309.7 L724.9 314.0 L727.9 318.2 L730.9 322.1 L733.9 325.8 L736.9 329.4 L739.9 332.9 L742.9 336.5 L745.9 340.0 L748.9 343.3 L751.9 345.8 L754.9 347.5 L757.9 348.8 L760.9 349.8 L763.9 350.3 L766.9 351.2 L769.9 353.0 L772.9 355.8 L775.9 358.9 L778.9 362.0 L781.9 365.5 L784.9 369.1 L787.9 372.3 L790.9 374.8 L794.0 377.0 L797.0 378.0 L800.0 377.4 L803.0 376.0 L806.0 374.4 L809.0 372.7 L812.0 370.6 L815.0 368.4 L818.0 366.3 L821.0 364.5 L824.0 362.9 L827.0 361.4 L830.0 359.9 L833.0 358.5 L836.0 357.0 L839.0 355.1 L842.0 353.5 L845.0 353.4 L848.0 353.8 L851.0 354.3 L854.0 354.9 L857.0 355.7 L860.0 356.8 L863.0 358.1 L866.0 359.5 L869.0 361.2 L872.0 362.9 L875.0 364.6 L878.0 367.2 L881.0 370.1 L884.0 372.7 L887.0 373.9 L890.0 373.7 L893.0 373.2 L896.0 372.5 L899.0 371.1 L902.0 368.1 L905.0 364.1 L908.0 359.7 L911.0 355.4 L914.0 351.8 L917.0 348.7 L920.0 345.8 L923.0 343.0 L926.0 340.3 L929.0 337.8 L932.0 335.5 L935.0 333.2 L938.0 330.8 L941.0 328.6 L944.0 326.7 L947.0 325.2 L950.0 324.4 L953.0 324.0 L956.0 323.7 L959.0 323.5 L962.0 323.4 L965.0 323.7 L968.0 325.0 L971.0 326.9 L974.0 329.3 L977.0 331.7 L980.0 334.0 L983.0 336.6 L986.1 339.5 L989.1 342.4 L992.1 345.2 L995.1 347.5 L998.1 349.8 L1001.1 351.9 L1004.1 353.6 L1007.1 355.0 L1010.1 356.0 L1013.1 356.5 L1016.1 355.9 L1019.1 354.1 L1022.1 351.5 L1025.1 348.4 L1028.1 345.0 L1031.1 341.9 L1034.1 338.6 L1037.1 334.8 L1040.1 330.8 L1043.1 326.7 L1046.1 322.7 L1049.1 318.9 L1052.1 315.1 L1055.1 311.3 L1058.1 307.5 L1061.1 304.1 L1064.1 301.0 L1067.1 298.1 L1070.1 295.1 L1073.1 292.5 L1076.1 290.3 L1079.1 288.9 L1082.1 288.0 L1085.1 287.3 L1088.1 286.8 L1091.1 286.5 L1094.1 286.6 L1097.1 286.8 L1100.1 287.1 L1103.1 287.5 L1106.1 288.0 L1109.1 288.6 L1112.1 289.4 L1115.1 290.3 L1118.1 291.3 L1121.1 292.3 L1124.1 293.4 L1127.1 294.5 L1130.1 295.6 L1133.1 296.8 L1136.1 298.1 L1139.1 299.5 L1142.1 301.1 L1145.1 303.0 L1148.1 305.4 L1151.1 308.2 L1154.1 311.3 L1157.1 314.4 L1160.1 317.6 L1163.1 320.7 L1166.1 323.5 L1169.1 326.1 L1172.1 328.7 L1175.1 331.3 L1178.2 333.8 L1181.2 336.0 L1184.2 337.9 L1187.2 339.4 L1190.2 340.5 L1193.2 341.4 L1196.2 342.3 L1199.2 342.9 L1202.2 343.5 L1205.2 343.9 L1208.2 344.3 L1211.2 344.7 L1214.2 345.2 L1217.2 345.8 L1220.2 346.4 L1223.2 347.0 L1226.2 347.5 L1229.2 348.1 L1232.2 348.6 L1235.2 349.0 L1238.2 349.4 L1241.2 349.8 L1244.2 350.1 L1247.2 350.5 L1250.2 350.9 L1253.2 351.3 L1256.2 351.8 L1259.2 352.5 L1262.2 353.4 L1265.2 354.5 L1268.2 355.5 L1271.2 356.5 L1274.2 357.4 L1277.2 358.0 L1280.2 358.3 L1283.2 358.5 L1286.2 358.7 L1289.2 358.9 L1292.2 359.0 L1295.2 359.2 L1298.2 359.3 L1301.2 359.5 L1304.2 359.7 L1307.2 360.1 L1310.2 360.4 L1313.2 360.8 L1316.2 361.3 L1319.2 361.7 L1322.2 362.1 L1325.2 362.5 L1328.2 362.8 L1331.2 363.0 L1334.2 363.2 L1337.2 363.4 L1340.2 363.6 L1343.2 363.8 L1346.2 364.0 L1349.2 364.1 L1352.2 364.3 L1355.2 364.5 L1358.2 364.7 L1361.2 364.8 L1364.2 365.0 L1367.2 365.1 L1370.3 365.3 L1373.3 365.5 L1376.3 365.7 L1379.3 365.9 L1382.3 366.2 L1385.3 366.5 L1388.3 366.9 L1391.3 367.3 L1394.3 367.8 L1397.3 368.2 L1400.3 368.6 L1403.3 368.9 L1406.3 369.1 L1409.3 369.4 L1412.3 369.6 L1415.3 369.8 L1418.3 370.0 L1421.3 370.2 L1424.3 370.3 L1427.3 370.5 L1430.3 370.6 L1433.3 370.7 L1436.3 370.7 L1439.3 370.6 L1442.3 370.3 L1445.3 369.7 L1448.3 368.9 L1451.3 368.0 L1454.3 367.2 L1457.3 366.6 L1460.3 366.1 L1463.3 366.0 L1466.3 366.0 L1469.3 366.1 L1472.3 366.2 L1475.3 366.3 L1478.3 366.4 L1481.3 366.6 L1484.3 366.8 L1487.3 366.9 L1490.3 367.1 L1493.3 367.2 L1496.3 367.4 L1499.3 367.5 L1502.3 367.6 L1505.3 367.7 L1508.3 367.8 L1511.3 367.9 L1514.3 368.0 L1517.3 368.1 L1520.3 368.2 L1523.3 368.3 L1526.3 368.4 L1529.3 368.4 L1532.3 368.5 L1535.3 368.6 L1538.3 368.7 L1541.3 368.8 L1544.3 368.8 L1547.3 368.9 L1550.3 368.9 L1553.3 369.0 L1556.3 369.0 L1559.3 369.1 L1562.4 369.1 L1565.4 369.1 L1568.4 369.2 L1571.4 369.2 L1574.4 369.2 L1577.4 369.2 L1580.4 369.2 L1583.4 369.2 L1586.4 369.2 L1589.4 369.3 L1592.4 369.3 L1595.4 369.3 L1598.4 369.3 L1601.4 369.3 L1604.4 369.3 L1607.4 369.3 L1610.4 369.3 L1613.4 369.3 L1616.4 369.4 L1619.4 369.4 L1622.4 369.4 L1625.4 369.4 L1628.4 369.5 L1631.4 369.5 L1634.4 369.6 L1637.4 369.7 L1640.4 369.9 L1643.4 370.1 L1646.4 370.2 L1649.4 370.4 L1652.4 370.6 L1655.4 370.8 L1658.4 371.0 L1661.4 371.1 L1664.4 371.3 L1667.4 371.4 L1670.4 371.5 L1673.4 371.6 L1676.4 371.7 L1679.4 371.8 L1682.4 371.8 L1685.4 371.9 L1688.4 371.9 L1691.4 372.0 L1694.4 372.0 L1697.4 372.1 L1700.4 372.1 L1703.4 372.2 L1706.4 372.2 L1709.4 372.2 L1712.4 372.2 L1715.4 372.3 L1718.4 372.3 L1721.4 372.3 L1724.4 372.3 L1727.4 372.3 L1730.4 372.3 L1733.4 372.3 L1736.4 372.3 L1739.4 372.3 L1742.4 372.3 L1745.4 372.3 L1748.4 372.3 L1751.4 372.3 L1754.5 372.3 L1757.5 372.3 L1760.5 372.3 L1763.5 372.3 L1766.5 372.3 L1769.5 372.3 L1772.5 372.3 L1775.5 372.3 L1778.5 372.3 L1781.5 372.3 L1784.5 372.3"/>
</g>
<g id="curves" clip-path="url(#plot)">
<path class="curve" id="c5" d="M142.6 1993.2 L145.6 1993.6 L148.6 1994.2 L151.6 1994.9 L154.6 1995.8 L157.6 1997.0 L160.6 1998.4 L163.6 1999.8 L166.6 2000.9 L169.6 2001.8 L172.6 2002.7 L175.6 2003.6 L178.6 2004.5 L181.6 2005.4 L184.6 2005.8 L187.6 2005.5 L190.6 2004.9 L193.6 2003.5 L196.6 2001.3 L199.6 1999.4 L202.6 1998.0 L205.6 1996.8 L208.6 1995.7 L211.6 1994.7 L214.6 1993.7 L217.7 1992.9 L220.7 1992.6 L223.7 1992.8 L226.7 1993.3 L229.7 1994.0 L232.7 1994.9 L235.7 1996.5 L238.7 1998.2 L241.7 1999.5 L244.7 2000.9 L247.7 2001.9 L250.7 2002.3 L253.7 2002.5 L256.7 2002.6 L259.7 2002.7 L262.7 2002.5 L265.7 2001.7 L268.7 2000.6 L271.7 1998.8 L274.7 1996.2 L277.7 1993.9 L280.7 1991.8 L283.7 1989.9 L286.7 1988.3 L289.7 1987.2 L292.7 1986.3 L295.7 1985.9 L298.7 1986.0 L301.7 1986.4 L304.7 1987.0 L307.7 1987.7 L310.7 1988.7 L313.7 1989.7 L316.7 1990.7 L319.7 1991.8 L322.7 1992.8 L325.7 1993.2 L328.7 1993.2 L331.7 1993.2 L334.7 1993.2 L337.7 1992.9 L340.7 1991.4 L343.7 1989.4 L346.7 1987.7 L349.7 1985.9 L352.7 1983.8 L355.7 1980.9 L358.7 1977.8 L361.7 1975.2 L364.7 1973.3 L367.7 1974.1 L370.7 1976.2 L373.7 1979.1 L376.7 1982.7 L379.7 1987.8 L382.7 1993.0 L385.7 1998.0 L388.7 2003.0 L391.7 2008.2 L394.7 2013.0 L397.7 2018.1 L400.7 2021.5 L403.7 2020.7 L406.7 2016.5 L409.8 2003.9 L412.8 1986.1 L415.8 1966.6 L418.8 1947.4 L421.8 1929.4 L424.8 1911.4 L427.8 1893.3 L430.8 1876.7 L433.8 1860.9 L436.8 1844.7 L439.8 1828.4 L442.8 1814.4 L445.8 1802.2 L448.8 1790.9 L451.8 1780.0 L454.8 1769.7 L457.8 1761.2 L460.8 1754.6 L463.8 1749.2 L466.8 1745.9 L469.8 1743.9 L472.8 1743.1 L475.8 1743.7 L478.8 1745.1 L481.8 1749.0 L484.8 1755.7 L487.8 1764.3 L490.8 1775.1 L493.8 1785.5 L496.8 1796.5 L499.8 1810.4 L502.8 1827.1 L505.8 1843.5 L508.8 1859.7 L511.8 1875.0 L514.8 1889.6 L517.8 1901.7 L520.8 1906.7 L523.8 1901.2 L526.8 1891.8 L529.8 1879.5 L532.8 1861.9 L535.8 1842.6 L538.8 1820.6 L541.8 1796.1 L544.8 1772.0 L547.8 1748.0 L550.8 1724.0 L553.8 1700.0 L556.8 1676.0 L559.8 1651.9 L562.8 1627.8 L565.8 1604.4 L568.8 1582.4 L571.8 1563.3 L574.8 1545.1 L577.8 1525.4 L580.8 1509.1 L583.8 1496.5 L586.8 1487.3 L589.8 1480.3 L592.8 1475.5 L595.8 1472.7 L598.8 1470.6 L601.9 1469.6 L604.9 1470.2 L607.9 1472.0 L610.9 1474.5 L613.9 1478.4 L616.9 1484.5 L619.9 1491.7 L622.9 1500.4 L625.9 1509.3 L628.9 1518.1 L631.9 1527.3 L634.9 1537.1 L637.9 1547.2 L640.9 1557.3 L643.9 1567.3 L646.9 1577.3 L649.9 1587.3 L652.9 1597.3 L655.9 1607.3 L658.9 1617.3 L661.9 1627.3 L664.9 1637.3 L667.9 1647.3 L670.9 1657.3 L673.9 1667.3 L676.9 1677.3 L679.9 1687.3 L682.9 1697.3 L685.9 1707.4 L688.9 1717.4 L691.9 1727.4 L694.9 1737.4 L697.9 1747.4 L700.9 1757.4 L703.9 1767.4 L706.9 1777.4 L709.9 1787.4 L712.9 1797.3 L715.9 1807.2 L718.9 1817.4 L721.9 1828.3 L724.9 1839.5 L727.9 1850.2 L730.9 1860.2 L733.9 1870.0 L736.9 1880.3 L739.9 1890.8 L742.9 1900.8 L745.9 1910.3 L748.9 1919.1 L751.9 1927.0 L754.9 1934.0 L757.9 1939.6 L760.9 1944.6 L763.9 1945.9 L766.9 1944.8 L769.9 1943.0 L772.9 1940.7 L775.9 1937.4 L778.9 1933.5 L781.9 1928.7 L784.9 1922.4 L787.9 1915.9 L790.9 1910.4 L794.0 1905.3 L797.0 1900.5 L800.0 1896.4 L803.0 1893.3 L806.0 1890.3 L809.0 1887.8 L812.0 1886.4 L815.0 1886.9 L818.0 1890.1 L821.0 1894.9 L824.0 1900.1 L827.0 1906.1 L830.0 1913.5 L833.0 1921.0 L836.0 1928.4 L839.0 1936.2 L842.0 1942.8 L845.0 1947.4 L848.0 1951.7 L851.0 1955.3 L854.0 1957.4 L857.0 1957.1 L860.0 1950.7 L863.0 1940.3 L866.0 1928.2 L869.0 1910.2 L872.0 1890.6 L875.0 1870.9 L878.0 1851.5 L881.0 1832.8 L884.0 1815.5 L887.0 1800.5 L890.0 1786.8 L893.0 1773.4 L896.0 1759.8 L899.0 1746.4 L902.0 1733.9 L905.0 1722.6 L908.0 1712.1 L911.0 1702.7 L914.0 1694.4 L917.0 1686.9 L920.0 1680.2 L923.0 1674.5 L926.0 1669.4 L929.0 1664.7 L932.0 1660.6 L935.0 1657.1 L938.0 1653.9 L941.0 1651.0 L944.0 1648.6 L947.0 1646.6 L950.0 1645.3 L953.0 1644.4 L956.0 1643.5 L959.0 1642.2 L962.0 1640.4 L965.0 1638.0 L968.0 1634.9 L971.0 1631.1 L974.0 1626.2 L977.0 1618.7 L980.0 1609.6 L983.0 1599.8 L986.1 1588.2 L989.1 1575.5 L992.1 1563.0 L995.1 1551.9 L998.1 1539.8 L1001.1 1522.6 L1004.1 1489.4 L1007.1 1467.8 L1010.1 1451.1 L1013.1 1433.6 L1016.1 1412.1 L1019.1 1388.9 L1022.1 1366.5 L1025.1 1344.9 L1028.1 1323.4 L1031.1 1301.9 L1034.1 1280.4 L1037.1 1258.5 L1040.1 1235.5 L1043.1 1212.4 L1046.1 1190.7 L1049.1 1169.7 L1052.1 1150.2 L1055.1 1132.5 L1058.1 1116.0 L1061.1 1100.2 L1064.1 1084.7 L1067.1 1069.3 L1070.1 1055.1 L1073.1 1042.9 L1076.1 1031.7 L1079.1 1022.0 L1082.1 1015.1 L1085.1 1009.6 L1088.1 1005.3 L1091.1 1003.2 L1094.1 1004.3 L1097.1 1007.8 L1100.1 1012.3 L1103.1 1018.1 L1106.1 1026.2 L1109.1 1035.5 L1112.1 1046.6 L1115.1 1059.4 L1118.1 1073.1 L1121.1 1087.7 L1124.1 1103.3 L1127.1 1119.7 L1130.1 1136.6 L1133.1 1154.2 L1136.1 1173.4 L1139.1 1195.6 L1142.1 1220.3 L1145.1 1244.9 L1148.1 1269.0 L1151.1 1293.0 L1154.1 1316.5 L1157.1 1339.6 L1160.1 1362.5 L1163.1 1385.5 L1166.1 1408.5 L1169.1 1431.8 L1172.1 1453.5 L1175.1 1477.3 L1178.2 1512.8 L1181.2 1555.8 L1184.2 1585.9 L1187.2 1614.6 L1190.2 1644.7 L1193.2 1674.7 L1196.2 1704.7 L1199.2 1734.7 L1202.2 1765.7 L1205.2 1795.3 L1208.2 1819.8 L1211.2 1841.4 L1214.2 1861.8 L1217.2 1881.1 L1220.2 1899.3 L1223.2 1918.8 L1226.2 1935.9 L1229.2 1945.2 L1232.2 1951.2 L1235.2 1952.3 L1238.2 1950.4 L1241.2 1947.2 L1244.2 1943.7 L1247.2 1938.7 L1250.2 1932.4 L1253.2 1925.6 L1256.2 1919.1 L1259.2 1912.3 L1262.2 1905.0 L1265.2 1898.6 L1268.2 1894.5 L1271.2 1892.6 L1274.2 1891.1 L1277.2 1890.0 L1280.2 1889.4 L1283.2 1889.6 L1286.2 1890.8 L1289.2 1892.5 L1292.2 1894.6 L1295.2 1896.5 L1298.2 1898.6 L1301.2 1901.2 L1304.2 1904.8 L1307.2 1911.1 L1310.2 1919.0 L1313.2 1926.5 L1316.2 1933.4 L1319.2 1940.3 L1322.2 1947.0 L1325.2 1953.5 L1328.2 1960.0 L1331.2 1966.4 L1334.2 1972.4 L1337.2 1977.9 L1340.2 1983.0 L1343.2 1988.1 L1346.2 1991.5 L1349.2 1991.9 L1352.2 1991.9 L1355.2 1991.9 L1358.2 1991.6 L1361.2 1989.0 L1364.2 1984.6 L1367.2 1979.7 L1370.3 1975.2 L1373.3 1970.3 L1376.3 1965.3 L1379.3 1961.1 L1382.3 1958.5 L1385.3 1956.1 L1388.3 1952.9 L1391.3 1949.7 L1394.3 1947.2 L1397.3 1944.9 L1400.3 1942.7 L1403.3 1941.0 L1406.3 1940.0 L1409.3 1939.9 L1412.3 1940.5 L1415.3 1941.5 L1418.3 1942.7 L1421.3 1943.7 L1424.3 1944.6 L1427.3 1945.4 L1430.3 1946.2 L1433.3 1947.2 L1436.3 1948.6 L1439.3 1950.5 L1442.3 1952.7 L1445.3 1954.7 L1448.3 1956.1 L1451.3 1957.5 L1454.3 1958.9 L1457.3 1960.1 L1460.3 1961.1 L1463.3 1961.7 L1466.3 1961.9 L1469.3 1961.8 L1472.3 1961.4 L1475.3 1960.9 L1478.3 1960.3 L1481.3 1959.6 L1484.3 1958.9 L1487.3 1958.1 L1490.3 1957.0 L1493.3 1955.8 L1496.3 1954.4 L1499.3 1953.0 L1502.3 1951.6 L1505.3 1950.2 L1508.3 1948.7 L1511.3 1947.2 L1514.3 1945.6 L1517.3 1944.1 L1520.3 1942.6 L1523.3 1941.2 L1526.3 1939.7 L1529.3 1938.3 L1532.3 1936.8 L1535.3 1935.5 L1538.3 1934.4 L1541.3 1933.6 L1544.3 1933.0 L1547.3 1932.4 L1550.3 1931.9 L1553.3 1931.5 L1556.3 1931.3 L1559.3 1931.4 L1562.4 1931.6 L1565.4 1932.0 L1568.4 1932.5 L1571.4 1933.1 L1574.4 1933.8 L1577.4 1934.9 L1580.4 1936.3 L1583.4 1938.0 L1586.4 1939.8 L1589.4 1941.6 L1592.4 1943.7 L1595.4 1946.0 L1598.4 1948.4 L1601.4 1951.0 L1604.4 1953.7 L1607.4 1956.4 L1610.4 1959.3 L1613.4 1962.3 L1616.4 1965.5 L1619.4 1968.6 L1622.4 1971.7 L1625.4 1974.8 L1628.4 1978.0 L1631.4 1981.3 L1634.4 1984.8 L1637.4 1988.6 L1640.4 1992.8 L1643.4 1997.4 L1646.4 2002.1 L1649.4 2006.8 L1652.4 2011.3 L1655.4 2015.6 L1658.4 2019.8 L1661.4 2024.0 L1664.4 2028.1 L1667.4 2032.3 L1670.4 2036.8 L1673.4 2041.9 L1676.4 2046.5 L1679.4 2049.6 L1682.4 2051.0 L1685.4 2052.0 L1688.4 2052.8 L1691.4 2053.3 L1694.4 2053.1 L1697.4 2051.5 L1700.4 2048.9 L1703.4 2045.9 L1706.4 2043.2 L1709.4 2040.7 L1712.4 2038.0 L1715.4 2035.2 L1718.4 2032.4 L1721.4 2029.7 L1724.4 2026.9 L1727.4 2024.0 L1730.4 2021.2 L1733.4 2018.5 L1736.4 2016.0 L1739.4 2013.9 L1742.4 2011.8 L1745.4 2010.0 L1748.4 2008.3 L1751.4 2006.8 L1754.5 2005.4 L1757.5 2004.1 L1760.5 2002.9 L1763.5 2001.9 L1766.5 2001.1 L1769.5 2000.3 L1772.5 1999.6 L1775.5 1998.9 L1778.5 1998.3 L1781.5 1997.9 L1784.5 1997.5"/>
<path class="curve" id="c4" d="M142.6 1043.0 L145.6 1043.5 L148.6 1044.1 L151.6 1044.6 L154.6 1045.3 L157.6 1046.0 L160.6 1046.8 L163.6 1047.8 L166.6 1048.9 L169.6 1050.0 L172.6 1050.9 L175.6 1051.4 L178.6 1051.5 L181.6 1051.4 L184.6 1051.2 L187.6 1050.9 L190.6 1050.5 L193.6 1050.1 L196.6 1049.2 L199.6 1047.8 L202.6 1046.3 L205.6 1045.1 L208.6 1044.6 L211.6 1044.6 L214.6 1044.6 L217.7 1044.6 L220.7 1044.6 L223.7 1044.6 L226.7 1044.6 L229.7 1044.8 L232.7 1045.7 L235.7 1047.1 L238.7 1048.6 L241.7 1049.8 L244.7 1051.3 L247.7 1052.7 L250.7 1053.7 L253.7 1054.0 L256.7 1053.7 L259.7 1053.0 L262.7 1052.1 L265.7 1051.1 L268.7 1050.3 L271.7 1049.4 L274.7 1048.5 L277.7 1047.6 L280.7 1046.7 L283.7 1045.8 L286.7 1044.8 L289.7 1044.0 L292.7 1043.1 L295.7 1042.3 L298.7 1041.5 L301.7 1040.7 L304.7 1039.8 L307.7 1038.9 L310.7 1037.9 L313.7 1036.9 L316.7 1035.7 L319.7 1034.5 L322.7 1033.2 L325.7 1031.9 L328.7 1030.3 L331.7 1028.6 L334.7 1026.7 L337.7 1024.6 L340.7 1022.3 L343.7 1019.9 L346.7 1017.3 L349.7 1014.6 L352.7 1011.6 L355.7 1008.4 L358.7 1005.2 L361.7 1001.8 L364.7 998.3 L367.7 994.7 L370.7 990.7 L373.7 986.4 L376.7 981.4 L379.7 976.0 L382.7 970.5 L385.7 965.1 L388.7 959.9 L391.7 954.6 L394.7 949.4 L397.7 944.1 L400.7 938.8 L403.7 933.5 L406.7 928.2 L409.8 923.1 L412.8 917.9 L415.8 912.6 L418.8 907.6 L421.8 903.0 L424.8 899.2 L427.8 895.5 L430.8 892.2 L433.8 889.6 L436.8 888.1 L439.8 887.0 L442.8 886.1 L445.8 885.5 L448.8 885.3 L451.8 885.6 L454.8 886.3 L457.8 887.2 L460.8 888.4 L463.8 890.1 L466.8 893.0 L469.8 896.4 L472.8 900.1 L475.8 903.8 L478.8 908.0 L481.8 912.4 L484.8 916.6 L487.8 920.2 L490.8 923.8 L493.8 927.1 L496.8 929.8 L499.8 931.5 L502.8 932.9 L505.8 933.9 L508.8 934.2 L511.8 933.0 L514.8 930.7 L517.8 927.9 L520.8 924.4 L523.8 919.9 L526.8 914.8 L529.8 909.9 L532.8 905.4 L535.8 900.9 L538.8 896.4 L541.8 891.9 L544.8 887.3 L547.8 882.5 L550.8 877.8 L553.8 873.5 L556.8 869.7 L559.8 866.2 L562.8 863.2 L565.8 861.3 L568.8 859.9 L571.8 858.9 L574.8 858.5 L577.8 859.1 L580.8 860.2 L583.8 861.7 L586.8 863.1 L589.8 864.4 L592.8 865.6 L595.8 867.0 L598.8 868.5 L601.9 870.4 L604.9 872.9 L607.9 876.6 L610.9 881.1 L613.9 886.0 L616.9 890.7 L619.9 894.7 L622.9 898.4 L625.9 902.0 L628.9 905.5 L631.9 909.1 L634.9 912.6 L637.9 916.3 L640.9 920.0 L643.9 923.7 L646.9 927.3 L649.9 930.7 L652.9 933.8 L655.9 936.8 L658.9 939.7 L661.9 942.6 L664.9 945.6 L667.9 948.9 L670.9 952.3 L673.9 955.9 L676.9 959.6 L679.9 963.3 L682.9 967.2 L685.9 971.2 L688.9 975.3 L691.9 979.6 L694.9 983.9 L697.9 988.4 L700.9 993.0 L703.9 997.8 L706.9 1002.8 L709.9 1007.7 L712.9 1012.4 L715.9 1017.2 L718.9 1022.1 L721.9 1026.9 L724.9 1031.5 L727.9 1035.7 L730.9 1039.3 L733.9 1042.4 L736.9 1045.2 L739.9 1047.9 L742.9 1051.1 L745.9 1053.0 L748.9 1052.4 L751.9 1050.9 L754.9 1049.0 L757.9 1046.8 L760.9 1043.8 L763.9 1040.4 L766.9 1037.1 L769.9 1034.1 L772.9 1031.2 L775.9 1028.2 L778.9 1025.2 L781.9 1021.8 L784.9 1017.9 L787.9 1014.1 L790.9 1011.0 L794.0 1009.2 L797.0 1007.7 L800.0 1006.4 L803.0 1005.3 L806.0 1004.7 L809.0 1004.5 L812.0 1004.9 L815.0 1005.8 L818.0 1007.0 L821.0 1008.3 L824.0 1009.8 L827.0 1011.9 L830.0 1014.3 L833.0 1017.1 L836.0 1020.6 L839.0 1025.1 L842.0 1030.1 L845.0 1035.9 L848.0 1043.1 L851.0 1049.2 L854.0 1051.8 L857.0 1053.3 L860.0 1054.0 L863.0 1051.9 L866.0 1046.2 L869.0 1040.0 L872.0 1033.5 L875.0 1026.2 L878.0 1018.7 L881.0 1010.5 L884.0 1002.0 L887.0 994.5 L890.0 988.5 L893.0 983.0 L896.0 978.0 L899.0 973.3 L902.0 968.6 L905.0 964.1 L908.0 959.9 L911.0 956.2 L914.0 953.2 L917.0 950.5 L920.0 948.1 L923.0 946.2 L926.0 944.8 L929.0 943.6 L932.0 942.5 L935.0 941.6 L938.0 941.2 L941.0 941.3 L944.0 942.2 L947.0 943.5 L950.0 945.1 L953.0 946.7 L956.0 948.2 L959.0 949.9 L962.0 951.6 L965.0 952.9 L968.0 953.6 L971.0 954.1 L974.0 954.5 L977.0 954.7 L980.0 953.6 L983.0 950.9 L986.1 947.5 L989.1 944.2 L992.1 940.6 L995.1 936.6 L998.1 932.1 L1001.1 927.3 L1004.1 922.0 L1007.1 916.1 L1010.1 909.8 L1013.1 903.2 L1016.1 896.2 L1019.1 888.6 L1022.1 880.8 L1025.1 873.2 L1028.1 866.1 L1031.1 859.2 L1034.1 852.4 L1037.1 845.9 L1040.1 839.5 L1043.1 833.2 L1046.1 827.0 L1049.1 821.2 L1052.1 816.0 L1055.1 811.0 L1058.1 806.3 L1061.1 802.0 L1064.1 798.2 L1067.1 794.8 L1070.1 791.5 L1073.1 788.7 L1076.1 786.2 L1079.1 784.1 L1082.1 782.0 L1085.1 780.3 L1088.1 779.2 L1091.1 778.8 L1094.1 778.5 L1097.1 778.3 L1100.1 778.2 L1103.1 778.3 L1106.1 779.6 L1109.1 781.5 L1112.1 783.6 L1115.1 786.2 L1118.1 789.3 L1121.1 792.6 L1124.1 796.0 L1127.1 799.2 L1130.1 802.6 L1133.1 806.4 L1136.1 811.0 L1139.1 817.6 L1142.1 826.2 L1145.1 834.9 L1148.1 842.6 L1151.1 850.1 L1154.1 857.5 L1157.1 865.0 L1160.1 872.5 L1163.1 879.9 L1166.1 887.3 L1169.1 894.9 L1172.1 902.6 L1175.1 910.3 L1178.2 918.3 L1181.2 927.0 L1184.2 937.1 L1187.2 947.6 L1190.2 957.1 L1193.2 965.2 L1196.2 972.8 L1199.2 980.0 L1202.2 987.0 L1205.2 994.2 L1208.2 1001.4 L1211.2 1008.3 L1214.2 1014.5 L1217.2 1020.0 L1220.2 1025.3 L1223.2 1029.3 L1226.2 1031.2 L1229.2 1032.6 L1232.2 1033.4 L1235.2 1033.3 L1238.2 1031.5 L1241.2 1028.4 L1244.2 1025.0 L1247.2 1022.0 L1250.2 1019.1 L1253.2 1016.1 L1256.2 1013.1 L1259.2 1010.5 L1262.2 1008.4 L1265.2 1006.7 L1268.2 1005.1 L1271.2 1003.6 L1274.2 1002.6 L1277.2 1002.0 L1280.2 1002.0 L1283.2 1002.1 L1286.2 1002.2 L1289.2 1002.3 L1292.2 1002.5 L1295.2 1002.8 L1298.2 1003.1 L1301.2 1004.0 L1304.2 1005.5 L1307.2 1007.3 L1310.2 1009.3 L1313.2 1011.3 L1316.2 1013.2 L1319.2 1014.9 L1322.2 1016.6 L1325.2 1018.4 L1328.2 1020.3 L1331.2 1022.1 L1334.2 1024.2 L1337.2 1026.3 L1340.2 1028.6 L1343.2 1030.7 L1346.2 1032.7 L1349.2 1034.6 L1352.2 1036.4 L1355.2 1038.2 L1358.2 1039.8 L1361.2 1040.9 L1364.2 1041.6 L1367.2 1042.0 L1370.3 1042.4 L1373.3 1042.7 L1376.3 1042.9 L1379.3 1043.0 L1382.3 1042.4 L1385.3 1040.3 L1388.3 1037.5 L1391.3 1034.9 L1394.3 1033.2 L1397.3 1032.0 L1400.3 1030.9 L1403.3 1029.9 L1406.3 1029.1 L1409.3 1028.3 L1412.3 1027.7 L1415.3 1027.3 L1418.3 1026.9 L1421.3 1026.6 L1424.3 1026.3 L1427.3 1026.1 L1430.3 1025.9 L1433.3 1025.7 L1436.3 1025.5 L1439.3 1025.3 L1442.3 1025.1 L1445.3 1024.9 L1448.3 1024.7 L1451.3 1024.5 L1454.3 1024.3 L1457.3 1024.0 L1460.3 1023.8 L1463.3 1023.6 L1466.3 1023.4 L1469.3 1023.1 L1472.3 1022.8 L1475.3 1022.6 L1478.3 1022.3 L1481.3 1022.0 L1484.3 1021.7 L1487.3 1021.4 L1490.3 1021.1 L1493.3 1020.8 L1496.3 1020.5 L1499.3 1020.1 L1502.3 1019.8 L1505.3 1019.4 L1508.3 1019.0 L1511.3 1018.7 L1514.3 1018.3 L1517.3 1017.9 L1520.3 1017.5 L1523.3 1017.1 L1526.3 1016.8 L1529.3 1016.4 L1532.3 1016.1 L1535.3 1015.7 L1538.3 1015.4 L1541.3 1015.1 L1544.3 1014.9 L1547.3 1014.6 L1550.3 1014.5 L1553.3 1014.3 L1556.3 1014.1 L1559.3 1014.0 L1562.4 1013.8 L1565.4 1013.7 L1568.4 1013.7 L1571.4 1013.7 L1574.4 1013.7 L1577.4 1013.8 L1580.4 1013.9 L1583.4 1014.0 L1586.4 1014.2 L1589.4 1014.4 L1592.4 1014.6 L1595.4 1015.0 L1598.4 1015.7 L1601.4 1016.5 L1604.4 1017.4 L1607.4 1018.3 L1610.4 1019.2 L1613.4 1020.0 L1616.4 1020.7 L1619.4 1021.5 L1622.4 1022.4 L1625.4 1023.2 L1628.4 1024.1 L1631.4 1025.1 L1634.4 1026.1 L1637.4 1027.3 L1640.4 1028.5 L1643.4 1029.9 L1646.4 1031.3 L1649.4 1032.6 L1652.4 1034.0 L1655.4 1035.2 L1658.4 1036.3 L1661.4 1037.4 L1664.4 1038.4 L1667.4 1039.5 L1670.4 1040.5 L1673.4 1041.6 L1676.4 1042.7 L1679.4 1043.9 L1682.4 1045.2 L1685.4 1046.6 L1688.4 1047.9 L1691.4 1049.2 L1694.4 1050.3 L1697.4 1051.2 L1700.4 1052.1 L1703.4 1053.0 L1706.4 1053.8 L1709.4 1054.5 L1712.4 1055.1 L1715.4 1055.5 L1718.4 1055.6 L1721.4 1055.3 L1724.4 1054.5 L1727.4 1053.4 L1730.4 1052.2 L1733.4 1051.1 L1736.4 1050.1 L1739.4 1049.1 L1742.4 1048.0 L1745.4 1047.0 L1748.4 1045.9 L1751.4 1045.0 L1754.5 1044.1 L1757.5 1043.3 L1760.5 1042.5 L1763.5 1041.7 L1766.5 1041.0 L1769.5 1040.3 L1772.5 1039.7 L1775.5 1039.1 L1778.5 1038.6 L1781.5 1038.1 L1784.5 1037.6"/>
<path class="curve" id="c3" d="M142.6 817.6 L145.6 818.1 L148.6 818.6 L151.6 819.1 L154.6 819.5 L157.6 819.8 L160.6 820.0 L163.6 820.2 L166.6 820.3 L169.6 820.4 L172.6 820.5 L175.6 820.6 L178.6 820.6 L181.6 820.7 L184.6 820.7 L187.6 820.7 L190.6 820.2 L193.6 819.3 L196.6 818.2 L199.6 817.1 L202.6 816.3 L205.6 816.0 L208.6 816.0 L211.6 816.1 L214.6 816.2 L217.7 816.4 L220.7 816.6 L223.7 816.8 L226.7 817.2 L229.7 817.7 L232.7 818.4 L235.7 819.3 L238.7 820.2 L241.7 821.2 L244.7 822.5 L247.7 824.0 L250.7 825.1 L253.7 825.4 L256.7 824.7 L259.7 823.5 L262.7 822.0 L265.7 820.7 L268.7 819.5 L271.7 818.4 L274.7 817.3 L277.7 816.2 L280.7 815.1 L283.7 814.0 L286.7 813.0 L289.7 812.0 L292.7 811.1 L295.7 810.1 L298.7 809.2 L301.7 808.2 L304.7 807.2 L307.7 806.1 L310.7 805.0 L313.7 803.8 L316.7 802.6 L319.7 801.4 L322.7 800.0 L325.7 798.5 L328.7 796.9 L331.7 795.1 L334.7 793.2 L337.7 791.2 L340.7 789.0 L343.7 786.6 L346.7 784.0 L349.7 780.9 L352.7 777.6 L355.7 774.1 L358.7 770.4 L361.7 766.8 L364.7 763.0 L367.7 758.9 L370.7 754.6 L373.7 749.7 L376.7 743.8 L379.7 737.4 L382.7 731.5 L385.7 726.1 L388.7 720.8 L391.7 715.7 L394.7 710.5 L397.7 705.3 L400.7 700.2 L403.7 695.0 L406.7 689.6 L409.8 683.7 L412.8 677.3 L415.8 671.0 L418.8 665.2 L421.8 660.5 L424.8 656.1 L427.8 652.2 L430.8 648.9 L433.8 646.5 L436.8 644.2 L439.8 642.1 L442.8 640.8 L445.8 640.4 L448.8 640.6 L451.8 641.0 L454.8 641.7 L457.8 642.5 L460.8 644.1 L463.8 646.9 L466.8 650.5 L469.8 654.3 L472.8 658.3 L475.8 663.2 L478.8 668.5 L481.8 673.6 L484.8 678.2 L487.8 682.6 L490.8 686.9 L493.8 690.8 L496.8 694.2 L499.8 697.6 L502.8 700.6 L505.8 702.3 L508.8 702.3 L511.8 701.4 L514.8 700.1 L517.8 698.1 L520.8 693.9 L523.8 688.5 L526.8 682.8 L529.8 677.2 L532.8 671.1 L535.8 664.8 L538.8 658.8 L541.8 653.1 L544.8 647.6 L547.8 642.3 L550.8 637.3 L553.8 632.6 L556.8 628.0 L559.8 623.7 L562.8 619.8 L565.8 616.6 L568.8 613.6 L571.8 610.7 L574.8 608.6 L577.8 607.9 L580.8 608.1 L583.8 608.7 L586.8 609.4 L589.8 610.3 L592.8 611.6 L595.8 613.3 L598.8 615.2 L601.9 617.3 L604.9 620.0 L607.9 623.1 L610.9 626.4 L613.9 629.7 L616.9 632.9 L619.9 636.1 L622.9 639.3 L625.9 642.6 L628.9 646.0 L631.9 649.5 L634.9 653.3 L637.9 657.2 L640.9 661.3 L643.9 665.2 L646.9 669.1 L649.9 672.8 L652.9 676.3 L655.9 679.8 L658.9 683.4 L661.9 687.1 L664.9 691.0 L667.9 695.0 L670.9 699.1 L673.9 703.4 L676.9 707.8 L679.9 712.3 L682.9 717.0 L685.9 721.8 L688.9 726.7 L691.9 731.6 L694.9 736.4 L697.9 741.1 L700.9 745.7 L703.9 750.4 L706.9 755.3 L709.9 760.4 L712.9 765.9 L715.9 771.9 L718.9 778.0 L721.9 784.3 L724.9 790.6 L727.9 797.2 L730.9 803.9 L733.9 811.2 L736.9 818.0 L739.9 823.6 L742.9 828.6 L745.9 829.9 L748.9 828.4 L751.9 826.1 L754.9 822.7 L757.9 817.9 L760.9 812.3 L763.9 806.8 L766.9 801.7 L769.9 796.5 L772.9 791.2 L775.9 786.0 L778.9 781.3 L781.9 776.9 L784.9 772.5 L787.9 768.5 L790.9 765.3 L794.0 763.0 L797.0 761.0 L800.0 759.3 L803.0 757.8 L806.0 756.9 L809.0 756.7 L812.0 757.2 L815.0 758.1 L818.0 759.4 L821.0 760.8 L824.0 762.3 L827.0 764.2 L830.0 766.6 L833.0 769.6 L836.0 773.8 L839.0 780.1 L842.0 786.9 L845.0 793.3 L848.0 800.5 L851.0 807.3 L854.0 812.6 L857.0 815.4 L860.0 817.1 L863.0 817.2 L866.0 813.5 L869.0 807.2 L872.0 800.6 L875.0 793.1 L878.0 784.7 L881.0 776.3 L884.0 767.9 L887.0 759.5 L890.0 752.1 L893.0 745.9 L896.0 740.4 L899.0 735.3 L902.0 730.7 L905.0 726.3 L908.0 721.9 L911.0 718.0 L914.0 714.8 L917.0 712.5 L920.0 710.3 L923.0 708.4 L926.0 706.8 L929.0 705.9 L932.0 705.6 L935.0 706.0 L938.0 706.9 L941.0 708.0 L944.0 709.2 L947.0 710.3 L950.0 711.7 L953.0 713.4 L956.0 715.1 L959.0 716.5 L962.0 717.2 L965.0 717.3 L968.0 717.2 L971.0 717.0 L974.0 716.8 L977.0 716.1 L980.0 713.4 L983.0 709.1 L986.1 704.2 L989.1 699.4 L992.1 694.0 L995.1 688.0 L998.1 681.5 L1001.1 674.9 L1004.1 667.8 L1007.1 660.2 L1010.1 652.4 L1013.1 644.8 L1016.1 637.7 L1019.1 631.2 L1022.1 624.1 L1025.1 615.5 L1028.1 602.3 L1031.1 590.8 L1034.1 581.6 L1037.1 573.6 L1040.1 566.6 L1043.1 560.2 L1046.1 554.5 L1049.1 549.4 L1052.1 544.5 L1055.1 539.7 L1058.1 534.8 L1061.1 529.9 L1064.1 525.6 L1067.1 521.8 L1070.1 518.6 L1073.1 515.5 L1076.1 513.0 L1079.1 511.2 L1082.1 510.0 L1085.1 509.0 L1088.1 508.3 L1091.1 507.9 L1094.1 508.0 L1097.1 508.8 L1100.1 510.1 L1103.1 511.7 L1106.1 513.5 L1109.1 516.2 L1112.1 519.6 L1115.1 523.2 L1118.1 527.2 L1121.1 531.6 L1124.1 536.4 L1127.1 541.5 L1130.1 546.9 L1133.1 552.6 L1136.1 558.8 L1139.1 565.5 L1142.1 572.9 L1145.1 581.0 L1148.1 589.6 L1151.1 598.3 L1154.1 606.8 L1157.1 615.5 L1160.1 623.9 L1163.1 632.1 L1166.1 640.2 L1169.1 648.5 L1172.1 657.0 L1175.1 665.8 L1178.2 674.8 L1181.2 683.9 L1184.2 693.3 L1187.2 703.0 L1190.2 713.1 L1193.2 723.0 L1196.2 732.3 L1199.2 741.2 L1202.2 749.9 L1205.2 758.1 L1208.2 765.6 L1211.2 772.6 L1214.2 779.3 L1217.2 785.4 L1220.2 790.6 L1223.2 794.7 L1226.2 798.7 L1229.2 801.3 L1232.2 801.7 L1235.2 800.9 L1238.2 799.7 L1241.2 798.2 L1244.2 796.7 L1247.2 795.0 L1250.2 793.0 L1253.2 790.9 L1256.2 789.0 L1259.2 787.6 L1262.2 786.5 L1265.2 785.4 L1268.2 784.5 L1271.2 783.8 L1274.2 783.5 L1277.2 783.5 L1280.2 783.6 L1283.2 783.8 L1286.2 784.0 L1289.2 784.3 L1292.2 784.7 L1295.2 785.5 L1298.2 786.8 L1301.2 788.3 L1304.2 789.8 L1307.2 791.3 L1310.2 792.5 L1313.2 793.5 L1316.2 794.5 L1319.2 795.4 L1322.2 796.3 L1325.2 797.3 L1328.2 798.5 L1331.2 799.9 L1334.2 801.8 L1337.2 803.8 L1340.2 805.7 L1343.2 807.5 L1346.2 809.0 L1349.2 810.6 L1352.2 812.2 L1355.2 813.5 L1358.2 814.2 L1361.2 814.4 L1364.2 814.3 L1367.2 814.1 L1370.3 813.9 L1373.3 813.6 L1376.3 813.3 L1379.3 812.9 L1382.3 812.5 L1385.3 811.9 L1388.3 811.2 L1391.3 810.4 L1394.3 809.5 L1397.3 808.7 L1400.3 807.9 L1403.3 807.1 L1406.3 806.5 L1409.3 805.9 L1412.3 805.3 L1415.3 804.7 L1418.3 804.1 L1421.3 803.5 L1424.3 803.0 L1427.3 802.6 L1430.3 802.2 L1433.3 801.9 L1436.3 801.8 L1439.3 801.8 L1442.3 801.8 L1445.3 801.8 L1448.3 801.8 L1451.3 801.8 L1454.3 801.8 L1457.3 801.8 L1460.3 801.8 L1463.3 801.8 L1466.3 802.0 L1469.3 802.3 L1472.3 802.9 L1475.3 803.6 L1478.3 804.3 L1481.3 805.0 L1484.3 805.8 L1487.3 806.4 L1490.3 806.9 L1493.3 807.5 L1496.3 808.2 L1499.3 808.8 L1502.3 809.4 L1505.3 809.9 L1508.3 810.3 L1511.3 810.6 L1514.3 810.6 L1517.3 810.3 L1520.3 809.8 L1523.3 809.0 L1526.3 808.2 L1529.3 807.3 L1532.3 806.5 L1535.3 805.6 L1538.3 804.6 L1541.3 803.6 L1544.3 802.5 L1547.3 801.4 L1550.3 800.4 L1553.3 799.5 L1556.3 798.7 L1559.3 797.9 L1562.4 797.0 L1565.4 796.2 L1568.4 795.4 L1571.4 794.8 L1574.4 794.3 L1577.4 794.0 L1580.4 793.9 L1583.4 793.9 L1586.4 793.9 L1589.4 793.9 L1592.4 793.9 L1595.4 793.9 L1598.4 793.9 L1601.4 793.9 L1604.4 793.9 L1607.4 793.9 L1610.4 793.9 L1613.4 793.9 L1616.4 794.0 L1619.4 794.5 L1622.4 795.3 L1625.4 796.2 L1628.4 797.3 L1631.4 798.5 L1634.4 799.6 L1637.4 800.6 L1640.4 801.6 L1643.4 802.6 L1646.4 803.7 L1649.4 804.8 L1652.4 806.0 L1655.4 807.1 L1658.4 808.1 L1661.4 809.1 L1664.4 810.1 L1667.4 811.0 L1670.4 811.9 L1673.4 813.0 L1676.4 814.1 L1679.4 815.4 L1682.4 817.3 L1685.4 819.3 L1688.4 821.0 L1691.4 822.1 L1694.4 822.3 L1697.4 822.3 L1700.4 822.3 L1703.4 822.3 L1706.4 822.3 L1709.4 822.3 L1712.4 821.9 L1715.4 821.1 L1718.4 820.0 L1721.4 818.8 L1724.4 817.6 L1727.4 816.3 L1730.4 814.8 L1733.4 813.2 L1736.4 811.5 L1739.4 809.9 L1742.4 808.5 L1745.4 807.3 L1748.4 806.2 L1751.4 805.1 L1754.5 804.1 L1757.5 803.2 L1760.5 802.3 L1763.5 801.5 L1766.5 800.7 L1769.5 800.0 L1772.5 799.3 L1775.5 798.7 L1778.5 798.1 L1781.5 797.5 L1784.5 797.1"/>
<path class="curve" id="c2" d="M142.6 597.1 L145.6 597.0 L148.6 597.0 L151.6 596.9 L154.6 596.8 L157.6 596.8 L160.6 596.7 L163.6 596.6 L166.6 596.5 L169.6 596.4 L172.6 596.3 L175.6 596.2 L178.6 596.1 L181.6 596.0 L184.6 595.8 L187.6 595.7 L190.6 595.6 L193.6 595.4 L196.6 595.2 L199.6 595.1 L202.6 594.9 L205.6 594.7 L208.6 594.6 L211.6 594.4 L214.6 594.2 L217.7 594.0 L220.7 593.9 L223.7 593.7 L226.7 593.5 L229.7 593.3 L232.7 593.1 L235.7 592.9 L238.7 592.7 L241.7 592.5 L244.7 592.3 L247.7 592.2 L250.7 591.9 L253.7 591.7 L256.7 591.3 L259.7 590.9 L262.7 590.2 L265.7 589.5 L268.7 588.6 L271.7 587.7 L274.7 586.8 L277.7 585.8 L280.7 584.7 L283.7 583.5 L286.7 582.2 L289.7 580.9 L292.7 579.5 L295.7 578.2 L298.7 576.8 L301.7 575.3 L304.7 573.6 L307.7 571.7 L310.7 569.3 L313.7 566.6 L316.7 563.6 L319.7 560.7 L322.7 558.0 L325.7 555.4 L328.7 552.8 L331.7 550.3 L334.7 547.8 L337.7 545.4 L340.7 543.0 L343.7 540.6 L346.7 538.4 L349.7 536.2 L352.7 534.0 L355.7 531.8 L358.7 529.5 L361.7 527.1 L364.7 524.7 L367.7 522.2 L370.7 519.7 L373.7 517.2 L376.7 514.6 L379.7 512.0 L382.7 509.3 L385.7 506.6 L388.7 503.8 L391.7 501.0 L394.7 498.2 L397.7 495.5 L400.7 492.7 L403.7 490.0 L406.7 487.2 L409.8 484.5 L412.8 481.7 L415.8 479.0 L418.8 476.2 L421.8 473.4 L424.8 470.6 L427.8 467.8 L430.8 465.0 L433.8 462.4 L436.8 459.8 L439.8 457.2 L442.8 454.7 L445.8 452.2 L448.8 449.9 L451.8 447.8 L454.8 445.8 L457.8 443.8 L460.8 442.1 L463.8 440.8 L466.8 440.0 L469.8 439.3 L472.8 438.8 L475.8 438.5 L478.8 438.6 L481.8 439.2 L484.8 440.1 L487.8 441.1 L490.8 442.2 L493.8 443.6 L496.8 445.2 L499.8 446.9 L502.8 448.3 L505.8 449.6 L508.8 450.8 L511.8 451.9 L514.8 452.7 L517.8 453.4 L520.8 454.0 L523.8 454.3 L526.8 453.9 L529.8 452.9 L532.8 451.5 L535.8 449.7 L538.8 447.0 L541.8 443.7 L544.8 440.1 L547.8 436.4 L550.8 432.2 L553.8 427.5 L556.8 422.7 L559.8 417.9 L562.8 413.0 L565.8 408.0 L568.8 403.1 L571.8 398.4 L574.8 394.0 L577.8 389.6 L580.8 385.5 L583.8 381.9 L586.8 378.8 L589.8 375.8 L592.8 373.2 L595.8 371.1 L598.8 369.5 L601.9 368.0 L604.9 366.8 L607.9 366.1 L610.9 366.1 L613.9 366.8 L616.9 368.0 L619.9 369.6 L622.9 371.4 L625.9 374.4 L628.9 378.3 L631.9 382.7 L634.9 387.0 L637.9 391.2 L640.9 395.7 L643.9 400.3 L646.9 405.1 L649.9 410.0 L652.9 415.1 L655.9 420.5 L658.9 426.0 L661.9 431.6 L664.9 437.3 L667.9 443.3 L670.9 449.6 L673.9 456.3 L676.9 463.8 L679.9 471.6 L682.9 479.3 L685.9 486.5 L688.9 493.4 L691.9 500.1 L694.9 506.7 L697.9 513.4 L700.9 520.1 L703.9 526.7 L706.9 533.5 L709.9 540.4 L712.9 548.1 L715.9 556.4 L718.9 564.3 L721.9 571.0 L724.9 576.1 L727.9 580.2 L730.9 582.4 L733.9 583.7 L736.9 584.6 L739.9 585.0 L742.9 584.8 L745.9 584.2 L748.9 583.3 L751.9 582.3 L754.9 581.3 L757.9 580.4 L760.9 579.8 L763.9 579.3 L766.9 578.7 L769.9 578.2 L772.9 577.7 L775.9 577.4 L778.9 577.2 L781.9 577.2 L784.9 577.2 L787.9 577.2 L790.9 577.2 L794.0 577.2 L797.0 577.2 L800.0 577.1 L803.0 576.2 L806.0 574.6 L809.0 572.6 L812.0 570.7 L815.0 569.2 L818.0 567.9 L821.0 566.6 L824.0 565.3 L827.0 564.2 L830.0 563.4 L833.0 563.0 L836.0 563.2 L839.0 564.0 L842.0 565.2 L845.0 566.8 L848.0 568.5 L851.0 570.5 L854.0 573.7 L857.0 577.5 L860.0 581.3 L863.0 584.6 L866.0 587.9 L869.0 591.0 L872.0 593.5 L875.0 594.6 L878.0 595.0 L881.0 595.2 L884.0 592.4 L887.0 586.2 L890.0 579.5 L893.0 573.5 L896.0 567.0 L899.0 560.4 L902.0 553.9 L905.0 547.9 L908.0 542.1 L911.0 536.4 L914.0 531.0 L917.0 526.0 L920.0 521.1 L923.0 516.4 L926.0 512.2 L929.0 508.4 L932.0 504.8 L935.0 501.4 L938.0 498.6 L941.0 496.7 L944.0 495.4 L947.0 494.2 L950.0 493.4 L953.0 493.0 L956.0 493.3 L959.0 494.0 L962.0 495.2 L965.0 496.5 L968.0 497.9 L971.0 499.4 L974.0 501.3 L977.0 503.6 L980.0 505.7 L983.0 507.3 L986.1 508.1 L989.1 508.6 L992.1 509.1 L995.1 509.4 L998.1 509.4 L1001.1 508.1 L1004.1 505.5 L1007.1 502.1 L1010.1 498.5 L1013.1 494.7 L1016.1 490.0 L1019.1 484.8 L1022.1 479.2 L1025.1 473.4 L1028.1 466.9 L1031.1 460.0 L1034.1 452.8 L1037.1 445.2 L1040.1 436.8 L1043.1 428.2 L1046.1 419.8 L1049.1 412.2 L1052.1 404.8 L1055.1 397.8 L1058.1 391.3 L1061.1 385.6 L1064.1 380.6 L1067.1 376.1 L1070.1 371.8 L1073.1 367.7 L1076.1 363.5 L1079.1 359.3 L1082.1 355.5 L1085.1 352.4 L1088.1 350.1 L1091.1 348.0 L1094.1 346.2 L1097.1 345.1 L1100.1 344.6 L1103.1 344.3 L1106.1 344.1 L1109.1 343.9 L1112.1 344.0 L1115.1 344.9 L1118.1 346.5 L1121.1 348.5 L1124.1 350.5 L1127.1 353.0 L1130.1 356.0 L1133.1 359.3 L1136.1 362.7 L1139.1 366.1 L1142.1 369.8 L1145.1 373.7 L1148.1 377.8 L1151.1 382.0 L1154.1 386.3 L1157.1 390.8 L1160.1 395.4 L1163.1 400.3 L1166.1 405.5 L1169.1 411.2 L1172.1 417.6 L1175.1 424.6 L1178.2 431.7 L1181.2 438.6 L1184.2 445.2 L1187.2 451.9 L1190.2 458.6 L1193.2 465.6 L1196.2 473.0 L1199.2 480.8 L1202.2 488.5 L1205.2 495.7 L1208.2 502.2 L1211.2 508.1 L1214.2 513.8 L1217.2 519.5 L1220.2 525.7 L1223.2 532.5 L1226.2 540.0 L1229.2 547.8 L1232.2 555.5 L1235.2 562.7 L1238.2 570.5 L1241.2 578.1 L1244.2 584.0 L1247.2 587.0 L1250.2 588.5 L1253.2 589.5 L1256.2 589.8 L1259.2 588.8 L1262.2 586.4 L1265.2 583.0 L1268.2 579.4 L1271.2 576.2 L1274.2 573.5 L1277.2 570.6 L1280.2 567.7 L1283.2 564.9 L1286.2 562.5 L1289.2 560.6 L1292.2 559.3 L1295.2 558.2 L1298.2 557.2 L1301.2 556.3 L1304.2 555.7 L1307.2 555.3 L1310.2 555.2 L1313.2 555.2 L1316.2 555.4 L1319.2 555.6 L1322.2 555.9 L1325.2 556.3 L1328.2 556.7 L1331.2 557.3 L1334.2 558.2 L1337.2 559.5 L1340.2 560.9 L1343.2 562.4 L1346.2 564.0 L1349.2 565.5 L1352.2 567.2 L1355.2 569.0 L1358.2 570.8 L1361.2 572.7 L1364.2 574.5 L1367.2 576.0 L1370.3 577.4 L1373.3 578.6 L1376.3 579.9 L1379.3 581.5 L1382.3 583.9 L1385.3 587.4 L1388.3 590.4 L1391.3 591.5 L1394.3 591.9 L1397.3 592.3 L1400.3 592.5 L1403.3 592.7 L1406.3 592.9 L1409.3 593.0 L1412.3 593.0 L1415.3 593.0 L1418.3 593.0 L1421.3 593.0 L1424.3 593.0 L1427.3 593.0 L1430.3 593.0 L1433.3 593.0 L1436.3 593.0 L1439.3 593.1 L1442.3 593.5 L1445.3 594.2 L1448.3 595.2 L1451.3 596.3 L1454.3 597.3 L1457.3 598.2 L1460.3 598.9 L1463.3 599.3 L1466.3 599.6 L1469.3 599.8 L1472.3 600.0 L1475.3 600.1 L1478.3 600.2 L1481.3 600.2 L1484.3 600.1 L1487.3 599.5 L1490.3 598.7 L1493.3 597.6 L1496.3 596.4 L1499.3 595.1 L1502.3 593.9 L1505.3 592.2 L1508.3 590.3 L1511.3 588.4 L1514.3 586.4 L1517.3 584.6 L1520.3 583.2 L1523.3 582.0 L1526.3 580.8 L1529.3 579.8 L1532.3 578.8 L1535.3 577.8 L1538.3 576.9 L1541.3 576.0 L1544.3 575.1 L1547.3 574.3 L1550.3 573.4 L1553.3 572.5 L1556.3 571.7 L1559.3 570.9 L1562.4 570.1 L1565.4 569.3 L1568.4 568.6 L1571.4 567.9 L1574.4 567.2 L1577.4 566.6 L1580.4 566.0 L1583.4 565.5 L1586.4 564.9 L1589.4 564.3 L1592.4 563.8 L1595.4 563.3 L1598.4 562.8 L1601.4 562.4 L1604.4 562.0 L1607.4 561.7 L1610.4 561.5 L1613.4 561.3 L1616.4 561.2 L1619.4 561.1 L1622.4 560.9 L1625.4 560.8 L1628.4 560.7 L1631.4 560.7 L1634.4 560.6 L1637.4 560.5 L1640.4 560.5 L1643.4 560.5 L1646.4 560.6 L1649.4 560.8 L1652.4 561.1 L1655.4 561.5 L1658.4 562.0 L1661.4 562.5 L1664.4 563.0 L1667.4 563.6 L1670.4 564.2 L1673.4 565.0 L1676.4 565.9 L1679.4 566.9 L1682.4 568.0 L1685.4 569.2 L1688.4 570.3 L1691.4 571.5 L1694.4 572.9 L1697.4 574.3 L1700.4 575.8 L1703.4 577.4 L1706.4 579.0 L1709.4 580.6 L1712.4 582.2 L1715.4 583.7 L1718.4 585.2 L1721.4 586.8 L1724.4 588.4 L1727.4 590.0 L1730.4 591.4 L1733.4 592.7 L1736.4 594.0 L1739.4 595.4 L1742.4 596.7 L1745.4 597.7 L1748.4 598.3 L1751.4 598.3 L1754.5 597.7 L1757.5 596.9 L1760.5 596.0 L1763.5 595.1 L1766.5 594.4 L1769.5 593.8 L1772.5 593.3 L1775.5 592.7 L1778.5 592.3 L1781.5 591.8 L1784.5 591.4"/>
<path class="curve" id="c1" d="M142.6 376.4 L145.6 376.4 L148.6 376.4 L151.6 376.4 L154.6 376.4 L157.6 376.4 L160.6 376.4 L163.6 376.4 L166.6 376.4 L169.6 376.4 L172.6 376.4 L175.6 376.4 L178.6 376.4 L181.6 376.4 L184.6 376.4 L187.6 376.4 L190.6 376.4 L193.6 376.4 L196.6 376.4 L199.6 376.4 L202.6 376.4 L205.6 376.4 L208.6 376.4 L211.6 376.4 L214.6 376.4 L217.7 376.4 L220.7 376.4 L223.7 376.3 L226.7 376.2 L229.7 376.1 L232.7 375.9 L235.7 375.7 L238.7 375.5 L241.7 375.3 L244.7 375.1 L247.7 374.7 L250.7 374.3 L253.7 373.9 L256.7 373.4 L259.7 372.8 L262.7 372.2 L265.7 371.5 L268.7 370.7 L271.7 369.7 L274.7 368.6 L277.7 367.4 L280.7 366.2 L283.7 365.0 L286.7 363.7 L289.7 362.4 L292.7 360.9 L295.7 359.4 L298.7 357.8 L301.7 356.0 L304.7 354.1 L307.7 352.0 L310.7 349.6 L313.7 347.1 L316.7 344.4 L319.7 341.6 L322.7 338.8 L325.7 335.9 L328.7 332.8 L331.7 329.5 L334.7 326.2 L337.7 322.8 L340.7 319.3 L343.7 315.8 L346.7 312.1 L349.7 308.4 L352.7 304.6 L355.7 300.8 L358.7 296.9 L361.7 293.0 L364.7 288.9 L367.7 284.7 L370.7 280.5 L373.7 276.4 L376.7 272.6 L379.7 269.1 L382.7 265.9 L385.7 263.0 L388.7 260.1 L391.7 257.1 L394.7 254.0 L397.7 250.6 L400.7 247.5 L403.7 245.0 L406.7 243.0 L409.8 241.4 L412.8 240.1 L415.8 239.4 L418.8 238.7 L421.8 238.3 L424.8 238.4 L427.8 238.9 L430.8 239.7 L433.8 240.7 L436.8 241.8 L439.8 243.0 L442.8 244.4 L445.8 246.1 L448.8 248.0 L451.8 250.2 L454.8 252.8 L457.8 255.6 L460.8 258.5 L463.8 261.5 L466.8 264.9 L469.8 268.1 L472.8 270.8 L475.8 272.8 L478.8 274.8 L481.8 276.0 L484.8 276.0 L487.8 275.5 L490.8 274.6 L493.8 273.6 L496.8 272.6 L499.8 271.2 L502.8 269.7 L505.8 268.0 L508.8 266.4 L511.8 264.7 L514.8 263.0 L517.8 261.4 L520.8 260.4 L523.8 259.7 L526.8 259.2 L529.8 258.9 L532.8 258.8 L535.8 259.1 L538.8 259.7 L541.8 260.6 L544.8 261.5 L547.8 262.5 L550.8 263.8 L553.8 265.4 L556.8 267.1 L559.8 268.8 L562.8 270.8 L565.8 272.9 L568.8 274.8 L571.8 276.3 L574.8 277.6 L577.8 278.5 L580.8 278.5 L583.8 277.3 L586.8 275.5 L589.8 273.3 L592.8 270.8 L595.8 267.4 L598.8 263.3 L601.9 258.9 L604.9 253.9 L607.9 247.9 L610.9 241.3 L613.9 235.1 L616.9 229.7 L619.9 224.7 L622.9 220.0 L625.9 215.8 L628.9 212.3 L631.9 209.1 L634.9 206.2 L637.9 203.8 L640.9 202.0 L643.9 200.6 L646.9 199.4 L649.9 198.9 L652.9 199.2 L655.9 200.1 L658.9 201.5 L661.9 203.1 L664.9 204.9 L667.9 207.5 L670.9 210.7 L673.9 214.2 L676.9 218.2 L679.9 223.1 L682.9 228.6 L685.9 234.3 L688.9 239.7 L691.9 244.9 L694.9 250.0 L697.9 255.3 L700.9 260.8 L703.9 266.5 L706.9 272.5 L709.9 278.6 L712.9 284.8 L715.9 291.5 L718.9 298.8 L721.9 305.6 L724.9 310.7 L727.9 313.8 L730.9 316.2 L733.9 318.3 L736.9 320.1 L739.9 321.9 L742.9 323.8 L745.9 325.5 L748.9 327.1 L751.9 328.8 L754.9 330.6 L757.9 332.7 L760.9 335.0 L763.9 337.5 L766.9 340.2 L769.9 342.9 L772.9 345.9 L775.9 348.9 L778.9 352.1 L781.9 355.4 L784.9 358.8 L787.9 362.0 L790.9 365.2 L794.0 366.4 L797.0 365.1 L800.0 363.0 L803.0 360.6 L806.0 357.5 L809.0 354.3 L812.0 351.4 L815.0 348.6 L818.0 345.7 L821.0 343.1 L824.0 340.8 L827.0 339.3 L830.0 338.3 L833.0 337.4 L836.0 336.6 L839.0 336.2 L842.0 336.0 L845.0 336.5 L848.0 337.4 L851.0 338.6 L854.0 340.0 L857.0 341.4 L860.0 343.2 L863.0 345.3 L866.0 347.6 L869.0 349.9 L872.0 352.2 L875.0 355.0 L878.0 358.2 L881.0 361.2 L884.0 363.4 L887.0 364.4 L890.0 363.3 L893.0 360.4 L896.0 356.6 L899.0 352.7 L902.0 349.3 L905.0 345.5 L908.0 341.7 L911.0 337.9 L914.0 334.5 L917.0 331.5 L920.0 328.7 L923.0 326.0 L926.0 323.6 L929.0 321.6 L932.0 319.9 L935.0 318.4 L938.0 316.8 L941.0 315.5 L944.0 314.4 L947.0 313.6 L950.0 313.3 L953.0 313.6 L956.0 314.4 L959.0 315.5 L962.0 316.7 L965.0 318.2 L968.0 320.3 L971.0 322.8 L974.0 325.6 L977.0 328.3 L980.0 331.0 L983.0 333.8 L986.1 336.8 L989.1 339.6 L992.1 342.2 L995.1 344.3 L998.1 346.4 L1001.1 348.3 L1004.1 349.7 L1007.1 350.2 L1010.1 349.5 L1013.1 347.7 L1016.1 345.3 L1019.1 342.8 L1022.1 340.3 L1025.1 337.4 L1028.1 334.3 L1031.1 331.1 L1034.1 327.9 L1037.1 324.8 L1040.1 321.7 L1043.1 318.4 L1046.1 315.4 L1049.1 312.5 L1052.1 310.1 L1055.1 307.8 L1058.1 305.5 L1061.1 303.4 L1064.1 301.6 L1067.1 300.0 L1070.1 298.8 L1073.1 297.8 L1076.1 296.8 L1079.1 295.9 L1082.1 295.2 L1085.1 294.7 L1088.1 294.4 L1091.1 294.4 L1094.1 294.5 L1097.1 294.7 L1100.1 294.9 L1103.1 295.2 L1106.1 295.5 L1109.1 295.8 L1112.1 296.3 L1115.1 297.0 L1118.1 297.9 L1121.1 298.8 L1124.1 299.8 L1127.1 300.8 L1130.1 301.9 L1133.1 303.1 L1136.1 304.5 L1139.1 305.9 L1142.1 307.4 L1145.1 308.9 L1148.1 310.5 L1151.1 312.1 L1154.1 313.7 L1157.1 315.5 L1160.1 317.3 L1163.1 319.2 L1166.1 321.3 L1169.1 323.6 L1172.1 326.0 L1175.1 328.6 L1178.2 331.2 L1181.2 333.9 L1184.2 336.5 L1187.2 339.2 L1190.2 341.9 L1193.2 344.7 L1196.2 347.5 L1199.2 350.3 L1202.2 353.1 L1205.2 355.9 L1208.2 359.0 L1211.2 362.1 L1214.2 365.0 L1217.2 367.7 L1220.2 370.0 L1223.2 371.7 L1226.2 373.5 L1229.2 374.8 L1232.2 375.4 L1235.2 374.8 L1238.2 372.9 L1241.2 370.4 L1244.2 367.8 L1247.2 365.6 L1250.2 363.6 L1253.2 361.6 L1256.2 359.7 L1259.2 358.0 L1262.2 356.6 L1265.2 355.4 L1268.2 354.2 L1271.2 353.1 L1274.2 352.0 L1277.2 351.2 L1280.2 350.6 L1283.2 350.2 L1286.2 350.2 L1289.2 350.2 L1292.2 350.2 L1295.2 350.2 L1298.2 350.2 L1301.2 350.2 L1304.2 350.2 L1307.2 350.2 L1310.2 350.2 L1313.2 350.2 L1316.2 350.2 L1319.2 350.2 L1322.2 350.3 L1325.2 350.5 L1328.2 350.7 L1331.2 350.9 L1334.2 351.2 L1337.2 351.4 L1340.2 351.7 L1343.2 352.0 L1346.2 352.3 L1349.2 352.6 L1352.2 352.8 L1355.2 353.1 L1358.2 353.4 L1361.2 353.7 L1364.2 354.0 L1367.2 354.4 L1370.3 354.8 L1373.3 355.2 L1376.3 355.8 L1379.3 356.4 L1382.3 357.3 L1385.3 358.5 L1388.3 359.4 L1391.3 360.3 L1394.3 361.1 L1397.3 361.9 L1400.3 362.7 L1403.3 363.6 L1406.3 364.4 L1409.3 365.4 L1412.3 366.4 L1415.3 367.4 L1418.3 368.4 L1421.3 369.4 L1424.3 370.4 L1427.3 371.6 L1430.3 373.0 L1433.3 374.4 L1436.3 375.6 L1439.3 376.3 L1442.3 376.3 L1445.3 376.1 L1448.3 375.6 L1451.3 375.0 L1454.3 374.3 L1457.3 373.7 L1460.3 373.0 L1463.3 372.1 L1466.3 371.2 L1469.3 370.3 L1472.3 369.6 L1475.3 369.1 L1478.3 368.9 L1481.3 368.6 L1484.3 368.5 L1487.3 368.3 L1490.3 368.2 L1493.3 368.0 L1496.3 367.9 L1499.3 367.7 L1502.3 367.4 L1505.3 367.1 L1508.3 366.8 L1511.3 366.5 L1514.3 366.1 L1517.3 365.7 L1520.3 365.3 L1523.3 364.8 L1526.3 364.3 L1529.3 363.8 L1532.3 363.1 L1535.3 362.4 L1538.3 361.7 L1541.3 361.0 L1544.3 360.4 L1547.3 359.8 L1550.3 359.3 L1553.3 358.8 L1556.3 358.3 L1559.3 357.8 L1562.4 357.3 L1565.4 356.9 L1568.4 356.5 L1571.4 356.2 L1574.4 355.9 L1577.4 355.7 L1580.4 355.5 L1583.4 355.4 L1586.4 355.3 L1589.4 355.3 L1592.4 355.2 L1595.4 355.1 L1598.4 355.1 L1601.4 355.0 L1604.4 355.0 L1607.4 355.0 L1610.4 354.9 L1613.4 355.0 L1616.4 355.0 L1619.4 355.1 L1622.4 355.2 L1625.4 355.4 L1628.4 355.6 L1631.4 355.8 L1634.4 356.0 L1637.4 356.2 L1640.4 356.4 L1643.4 356.6 L1646.4 356.8 L1649.4 357.0 L1652.4 357.3 L1655.4 357.5 L1658.4 357.8 L1661.4 358.2 L1664.4 358.5 L1667.4 358.8 L1670.4 359.2 L1673.4 359.6 L1676.4 360.0 L1679.4 360.5 L1682.4 361.1 L1685.4 361.7 L1688.4 362.3 L1691.4 362.9 L1694.4 363.5 L1697.4 364.1 L1700.4 364.6 L1703.4 365.0 L1706.4 365.5 L1709.4 365.9 L1712.4 366.3 L1715.4 366.7 L1718.4 367.1 L1721.4 367.6 L1724.4 368.0 L1727.4 368.6 L1730.4 369.2 L1733.4 369.7 L1736.4 370.2 L1739.4 370.5 L1742.4 370.7 L1745.4 370.7 L1748.4 370.7 L1751.4 370.7 L1754.5 370.7 L1757.5 370.7 L1760.5 370.7 L1763.5 370.7 L1766.5 370.6 L1769.5 370.6 L1772.5 370.5 L1775.5 370.4 L1778.5 370.3 L1781.5 370.2 L1784.5 370.1"/>
</g>
<g id="axes">
<path class="axis" d="M141.8 39 V2067.8 Q141.8 2072.8 146.8 2072.8 H1779.5 Q1784.5 2072.8 1784.5 2067.8 V2048.5"/>
<path class="axis" d="M688.7 2072.8 V2048.5 M1236.4 2072.8 V2048.5"/>
</g>
<g id="labels">
<text y="156" font-size="81" ><tspan x="219.5">Ce(IV)-O</tspan></text>
<text y="88" font-size="81" ><tspan x="689.5">Ce(III)-O</tspan></text>
<text y="144" font-size="81" ><tspan x="1216.0">Ce(III)-Ce(III)</tspan></text>
<text y="242.5" font-size="81" ><tspan x="1216.0">Ce(IV)-Ce(IV)</tspan></text>
<text y="119.3" font-size="71.6" ><tspan x="2006.1">Fitting</tspan></text>
<text y="380" font-size="81" ><tspan x="1806.5">720</tspan> <tspan x="1952.0">min</tspan> <tspan x="2109.0">grinding</tspan></text>
<text y="607.4" font-size="81" ><tspan x="1808.5">60</tspan> <tspan x="1912.5">min</tspan> <tspan x="2069.5">grinding</tspan></text>
<text y="833.3" font-size="81" ><tspan x="1807.6">10</tspan> <tspan x="1912.5">min</tspan> <tspan x="2069.5">grinding</tspan></text>
<text y="1060.3" font-size="81" ><tspan x="1812.0">without</tspan> <tspan x="2097.5">grinding</tspan></text>
<text x="1808.5" y="2028" font-size="81">CeO<tspan font-size="56" dy="18">2</tspan></text>
<text x="142" y="2195.8" font-size="81.5" text-anchor="middle" >0</text>
<text x="688" y="2195.8" font-size="81.5" text-anchor="middle" >2</text>
<text x="1236" y="2195.8" font-size="81.5" text-anchor="middle" >4</text>
<text x="1783" y="2195.8" font-size="81.5" text-anchor="middle" >6</text>
<text y="2316.5" font-size="81"><tspan x="495.0">Radical</tspan> <tspan x="783.5">distance</tspan> <tspan x="1092.0">(</tspan><tspan x="1158.1" text-anchor="middle" font-weight="normal" font-size="108" dy="4.6">×</tspan><tspan x="1198.5" dy="-4.6">10</tspan><tspan x="1281.5" font-size="55.5" dy="-25.4">-10</tspan> <tspan x="1374.5" dy="25.4">m)</tspan></text>
<text transform="translate(89 1297) rotate(-90)" y="0" font-size="81"><tspan x="-1.8">FT</tspan> <tspan x="120.2">magnitude</tspan> <tspan x="517.0">(-)</tspan></text>
</g>
<g id="legend">
<path class="fitb" style="stroke-width:16.8;stroke-dasharray:26.1 31" d="M1840.1 96.9 H1980.5"/>
<path class="fitw" style="stroke-width:6;stroke-dasharray:22.6 34.5;stroke-dashoffset:-1.8" d="M1840.1 96.9 H1980.5"/>
</g>
</svg>
</body>
</html>
